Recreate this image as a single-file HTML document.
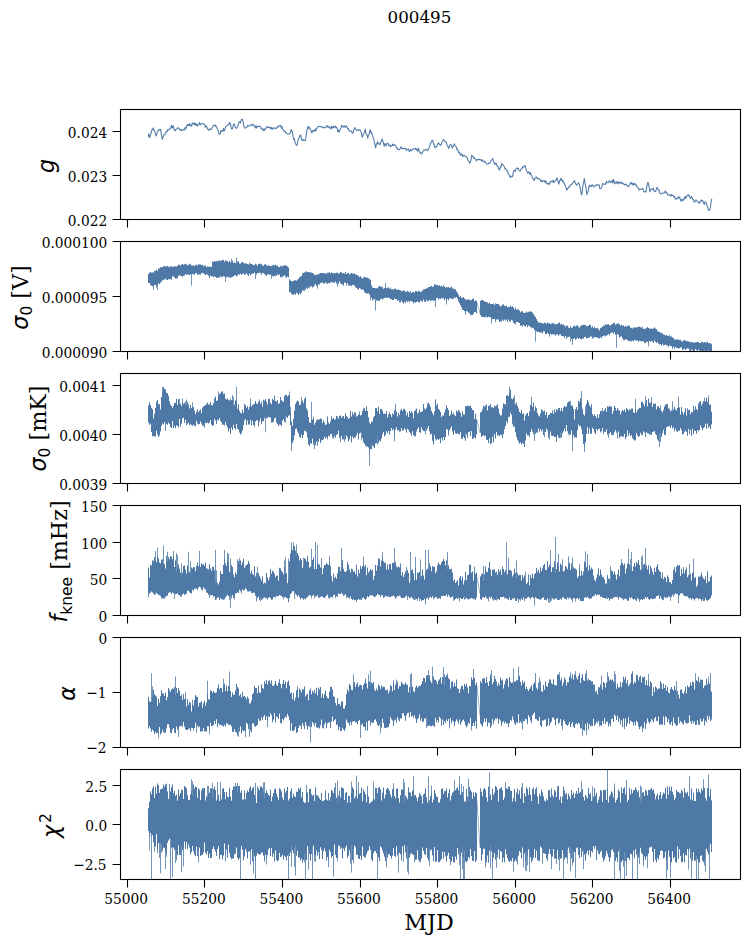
<!DOCTYPE html>
<html><head><meta charset="utf-8"><style>
html,body{margin:0;padding:0;background:#fff;width:749px;height:944px;overflow:hidden}
svg{display:block}
.s{font-family:"DejaVu Serif","Liberation Serif",serif;fill:#000}
.mi{font-family:"DejaVu Sans","Liberation Sans",sans-serif;font-style:italic}
.m{font-family:"DejaVu Sans","Liberation Sans",sans-serif}
</style></head><body>
<svg width="749" height="944" viewBox="0 0 749 944"><rect width="749" height="944" fill="#fff"/><text x="419.4" y="23.2" font-size="16.7" text-anchor="middle" class="s">000495</text><clipPath id="c0"><rect x="120.5" y="109.5" width="620.0" height="110.0"/></clipPath><clipPath id="c1"><rect x="120.5" y="241.5" width="620.0" height="110.0"/></clipPath><clipPath id="c2"><rect x="120.5" y="373.5" width="620.0" height="110.0"/></clipPath><clipPath id="c3"><rect x="120.5" y="505.5" width="620.0" height="110.0"/></clipPath><clipPath id="c4"><rect x="120.5" y="637.5" width="620.0" height="110.0"/></clipPath><clipPath id="c5"><rect x="120.5" y="769.5" width="620.0" height="110.0"/></clipPath><g clip-path="url(#c0)"><polyline points="148.1,136.3 148.8,133.8 149.4,137.7 150.1,136.0 150.7,134.2 151.4,132.5 152.0,129.3 152.7,129.6 153.3,127.9 154.0,130.5 154.6,130.8 155.3,133.1 155.9,136.0 156.6,134.5 157.2,132.3 157.9,131.0 158.5,130.5 159.2,129.4 159.8,130.0 160.5,129.3 161.1,132.6 161.8,137.0 162.4,139.3 163.1,136.8 163.7,135.5 164.4,134.6 165.0,134.7 165.7,132.2 166.3,131.6 167.0,132.0 167.6,129.7 168.3,129.6 168.9,130.0 169.6,129.0 170.2,128.1 170.9,128.3 171.5,125.0 172.2,128.0 172.8,126.0 173.5,126.0 174.1,129.1 174.8,130.8 175.4,130.8 176.1,129.2 176.7,129.0 177.4,127.8 178.0,127.9 178.7,128.2 179.3,128.7 180.0,130.3 180.6,130.1 181.3,129.4 181.9,130.6 182.6,130.5 183.2,129.8 183.9,129.2 184.5,130.0 185.2,127.2 185.8,128.7 186.5,127.5 187.1,124.5 187.8,125.5 188.4,124.6 189.1,126.0 189.7,123.7 190.4,124.6 191.0,126.0 191.7,126.1 192.3,122.9 193.0,123.8 193.6,124.1 194.3,122.9 194.9,125.0 195.6,123.3 196.2,125.3 196.9,124.4 197.5,126.2 198.2,124.6 198.8,124.0 199.5,122.6 200.1,125.1 200.8,124.0 201.4,123.7 202.1,123.8 202.7,123.8 203.4,123.6 204.0,124.1 204.7,124.8 205.3,127.3 206.0,125.6 206.6,127.1 207.3,128.1 207.9,129.3 208.6,130.4 209.2,129.6 209.9,128.8 210.5,129.4 211.2,129.5 211.8,128.3 212.5,126.9 213.1,125.6 213.8,125.3 214.4,125.1 215.1,126.3 215.7,125.2 216.4,127.0 217.0,128.1 217.7,129.9 218.3,130.9 219.0,134.2 219.6,134.3 220.3,133.9 220.9,130.4 221.6,131.4 222.2,130.7 222.9,131.2 223.5,128.4 224.2,130.9 224.8,130.0 225.5,127.1 226.1,126.4 226.8,125.6 227.4,125.3 228.1,124.9 228.7,125.1 229.4,122.2 230.0,123.4 230.7,125.0 231.3,128.4 232.0,129.3 232.6,128.3 233.3,124.7 233.9,124.0 234.6,124.2 235.2,127.4 235.9,127.9 236.5,128.4 237.2,127.0 237.8,126.2 238.5,123.6 239.1,121.8 239.8,121.9 240.4,123.0 241.1,120.1 241.7,119.3 242.4,119.3 243.0,121.3 243.7,125.1 244.3,127.6 245.0,128.1 245.6,128.0 246.3,127.5 246.9,127.2 247.6,125.4 248.2,126.0 248.9,126.2 249.5,125.2 250.2,125.2 250.8,124.7 251.5,124.8 252.1,125.6 252.8,124.3 253.4,124.6 254.1,126.0 254.7,126.4 255.4,127.9 256.0,125.3 256.7,128.1 257.3,126.5 258.0,126.5 258.6,126.6 259.3,126.3 259.9,126.2 260.6,126.5 261.2,128.9 261.9,128.3 262.5,129.5 263.2,130.7 263.8,128.8 264.5,130.4 265.1,128.7 265.8,128.9 266.4,126.7 267.1,126.6 267.7,127.1 268.4,127.8 269.0,126.8 269.7,127.7 270.3,127.5 271.0,129.1 271.6,127.5 272.3,129.2 272.9,128.0 273.6,128.0 274.2,128.4 274.9,127.9 275.5,128.4 276.2,128.6 276.8,127.2 277.5,126.9 278.1,127.2 278.8,125.4 279.4,125.7 280.1,125.9 280.7,125.4 281.4,128.1 282.0,126.6 282.7,129.4 283.3,129.7 284.0,131.4 284.6,131.2 285.3,131.4 285.9,133.2 286.6,133.1 287.2,133.6 287.9,134.0 288.5,134.1 289.2,134.3 289.8,133.5 290.5,132.7 291.1,129.7 291.8,130.4 292.4,132.1 293.1,136.7 293.7,139.5 294.4,138.7 295.0,142.4 295.7,144.0 296.3,145.1 297.0,145.1 297.6,142.3 298.3,139.2 298.9,138.6 299.6,136.7 300.2,135.0 300.9,135.5 301.5,139.4 302.2,140.6 302.8,139.3 303.5,139.9 304.1,140.6 304.8,140.4 305.4,140.5 306.1,136.1 306.7,131.9 307.4,128.9 308.0,126.3 308.7,128.2 309.3,127.3 310.0,128.8 310.6,130.3 311.3,131.1 311.9,133.1 312.6,130.5 313.2,131.3 313.9,130.5 314.5,130.7 315.2,128.9 315.8,131.0 316.5,128.7 317.1,128.2 317.8,126.8 318.4,126.3 319.1,126.7 319.7,126.4 320.4,126.3 321.0,127.0 321.7,126.9 322.3,126.6 323.0,127.6 323.6,127.7 324.3,127.4 324.9,127.7 325.6,127.7 326.2,126.4 326.9,125.5 327.5,126.1 328.2,127.7 328.8,126.4 329.5,127.1 330.1,127.6 330.8,129.2 331.4,126.2 332.1,127.8 332.7,128.1 333.4,126.1 334.0,127.7 334.7,126.6 335.3,126.1 336.0,127.7 336.6,127.1 337.3,128.9 337.9,131.8 338.6,130.4 339.2,132.1 339.9,129.4 340.5,129.3 341.2,127.4 341.8,125.2 342.5,126.6 343.1,127.3 343.8,126.1 344.4,126.0 345.1,127.4 345.7,126.5 346.4,125.7 347.0,126.9 347.7,128.9 348.3,128.4 349.0,130.2 349.6,131.4 350.3,130.9 350.9,130.7 351.6,131.3 352.2,133.2 352.9,133.0 353.5,130.6 354.2,129.0 354.8,127.5 355.5,129.1 356.1,129.3 356.8,130.4 357.4,130.3 358.1,129.8 358.7,130.5 359.4,129.8 360.0,129.7 360.7,131.3 361.3,132.4 362.0,136.8 362.6,136.9 363.3,134.0 363.9,133.6 364.6,131.6 365.2,129.1 365.9,133.3 366.5,134.4 367.2,135.2 367.8,138.2 368.5,135.0 369.1,134.7 369.8,130.8 370.4,129.9 371.1,133.5 371.7,132.6 372.4,135.0 373.0,137.3 373.7,138.5 374.3,141.5 375.0,144.8 375.6,147.8 376.3,144.4 376.9,143.7 377.6,141.6 378.2,144.2 378.9,143.3 379.5,144.1 380.2,144.7 380.8,142.0 381.5,140.8 382.1,138.9 382.8,141.3 383.4,142.9 384.1,146.2 384.7,143.6 385.4,144.5 386.0,146.0 386.7,143.7 387.3,143.3 388.0,143.4 388.6,145.4 389.3,145.6 389.9,144.9 390.6,146.8 391.2,145.9 391.9,145.8 392.5,144.1 393.2,145.6 393.8,144.4 394.5,144.7 395.1,145.1 395.8,146.1 396.4,147.9 397.1,147.7 397.7,149.6 398.4,149.3 399.0,149.8 399.7,149.2 400.3,148.3 401.0,146.6 401.6,148.4 402.3,148.7 402.9,148.3 403.6,148.9 404.2,148.2 404.9,148.4 405.5,148.1 406.2,150.4 406.8,149.6 407.5,149.3 408.1,148.8 408.8,150.1 409.4,151.7 410.1,150.8 410.7,149.3 411.4,150.7 412.0,150.2 412.7,149.4 413.3,148.8 414.0,149.1 414.6,148.8 415.3,149.2 415.9,148.1 416.6,150.2 417.2,149.4 417.9,151.1 418.5,148.2 419.2,151.4 419.8,152.5 420.5,152.2 421.1,153.8 421.8,153.9 422.4,152.8 423.1,150.8 423.7,150.2 424.4,150.1 425.0,150.1 425.7,149.3 426.3,149.5 427.0,149.9 427.6,150.8 428.3,149.2 428.9,147.9 429.6,147.2 430.2,144.2 430.9,142.7 431.5,141.4 432.2,140.1 432.8,140.6 433.5,144.1 434.1,143.9 434.8,147.7 435.4,147.4 436.1,146.5 436.7,146.9 437.4,144.8 438.0,143.3 438.7,142.9 439.3,144.3 440.0,144.6 440.6,145.3 441.3,144.9 441.9,142.1 442.6,140.9 443.2,139.6 443.9,139.9 444.5,140.7 445.2,141.9 445.8,141.7 446.5,142.9 447.1,145.4 447.8,145.9 448.4,148.5 449.1,147.7 449.7,145.3 450.4,144.7 451.0,144.4 451.7,146.6 452.3,148.0 453.0,146.1 453.6,145.9 454.3,143.7 454.9,145.5 455.6,146.4 456.2,146.7 456.9,149.6 457.5,148.8 458.2,151.3 458.8,152.8 459.5,152.2 460.1,154.6 460.8,155.3 461.4,153.8 462.1,154.4 462.7,156.5 463.4,156.0 464.0,155.1 464.7,156.0 465.3,156.3 466.0,156.4 466.6,157.3 467.3,157.9 467.9,160.3 468.6,161.1 469.2,161.7 469.9,163.2 470.5,161.6 471.2,159.0 471.8,155.2 472.5,156.4 473.1,156.4 473.8,158.4 474.4,157.7 475.1,158.8 475.7,159.3 476.4,161.0 477.0,159.8 477.7,159.4 478.3,159.9 479.0,159.2 479.6,159.7 480.3,159.6 480.9,159.8 481.6,161.2 482.2,159.7 482.9,160.6 483.5,161.0 484.2,162.3 484.8,161.3 485.5,162.2 486.1,163.2 486.8,164.1 487.4,164.0 488.1,164.0 488.7,163.0 489.4,163.2 490.0,163.2 490.7,161.3 491.3,160.3 492.0,159.7 492.6,158.5 493.3,160.8 493.9,162.6 494.6,164.7 495.2,164.1 495.9,162.8 496.5,164.4 497.2,166.2 497.8,166.1 498.5,168.3 499.1,169.8 499.8,170.0 500.4,166.2 501.1,167.0 501.7,163.4 502.4,164.7 503.0,164.8 503.7,165.5 504.3,166.9 505.0,168.9 505.6,168.5 506.3,170.0 506.9,170.7 507.6,170.5 508.2,173.9 508.9,174.4 509.5,175.2 510.2,177.6 510.8,176.1 511.5,176.2 512.1,177.0 512.8,175.6 513.4,172.1 514.1,170.2 514.7,170.9 515.4,171.5 516.0,169.0 516.7,168.0 517.3,168.6 518.0,168.0 518.6,169.6 519.3,170.7 519.9,171.1 520.6,170.5 521.2,168.7 521.9,168.6 522.5,166.8 523.2,167.2 523.8,167.3 524.5,165.7 525.1,165.6 525.8,168.3 526.4,170.1 527.1,171.9 527.7,173.0 528.4,171.7 529.0,172.1 529.7,174.2 530.3,172.5 531.0,174.9 531.6,175.1 532.3,177.3 532.9,178.5 533.6,179.9 534.2,180.5 534.9,177.9 535.5,178.0 536.2,176.8 536.8,177.5 537.5,178.9 538.1,178.2 538.8,178.4 539.4,179.0 540.1,179.9 540.7,181.2 541.4,180.1 542.0,181.9 542.7,181.3 543.3,181.0 544.0,180.3 544.6,181.8 545.3,182.4 545.9,180.7 546.6,183.5 547.2,184.2 547.9,183.4 548.5,183.2 549.2,184.6 549.8,183.3 550.5,181.1 551.1,181.6 551.8,181.6 552.4,181.7 553.1,180.0 553.7,182.7 554.4,181.6 555.0,181.3 555.7,180.1 556.3,179.9 557.0,178.0 557.6,179.2 558.3,182.8 558.9,184.1 559.6,180.8 560.2,180.5 560.9,178.4 561.5,178.7 562.2,181.4 562.8,180.3 563.5,182.8 564.1,182.7 564.8,185.2 565.4,185.5 566.1,187.6 566.7,190.2 567.4,188.9 568.0,188.1 568.7,187.1 569.3,187.3 570.0,185.1 570.6,184.8 571.3,185.0 571.9,183.9 572.6,183.1 573.2,182.6 573.9,181.6 574.5,180.5 575.2,183.0 575.8,183.7 576.5,185.2 577.1,184.6 577.8,183.9 578.4,182.7 579.1,184.0 579.7,185.2 580.4,189.2 581.0,193.0 581.7,194.9 582.3,190.6 583.0,185.3 583.6,182.7 584.3,178.4 584.9,183.1 585.6,185.7 586.2,189.9 586.9,194.7 587.5,192.4 588.2,191.5 588.8,187.6 589.5,185.0 590.1,186.1 590.8,186.8 591.4,185.1 592.1,185.9 592.7,184.8 593.4,185.9 594.0,187.0 594.7,186.3 595.3,186.0 596.0,184.7 596.6,185.5 597.3,185.2 597.9,184.3 598.6,185.0 599.2,184.9 599.9,188.8 600.5,188.5 601.2,188.2 601.8,187.5 602.5,183.6 603.1,184.3 603.8,183.9 604.4,184.1 605.1,184.6 605.7,183.6 606.4,181.4 607.0,182.4 607.7,182.7 608.3,182.5 609.0,181.2 609.6,180.7 610.3,182.5 610.9,182.2 611.6,181.8 612.2,180.2 612.9,183.2 613.5,179.4 614.2,181.7 614.8,183.9 615.5,182.2 616.1,182.6 616.8,181.6 617.4,183.8 618.1,181.7 618.7,183.0 619.4,183.0 620.0,182.1 620.7,183.8 621.3,182.0 622.0,182.8 622.6,183.6 623.3,183.4 623.9,184.4 624.6,185.0 625.2,184.1 625.9,184.3 626.5,184.7 627.2,185.3 627.8,186.7 628.5,186.3 629.1,185.9 629.8,184.5 630.4,182.8 631.1,184.0 631.7,182.6 632.4,183.8 633.0,185.3 633.7,183.4 634.3,184.5 635.0,183.5 635.6,185.1 636.3,184.9 636.9,186.5 637.6,187.1 638.2,188.3 638.9,190.0 639.5,189.1 640.2,189.6 640.8,189.2 641.5,189.3 642.1,189.0 642.8,188.3 643.4,190.1 644.1,192.1 644.7,191.8 645.4,191.6 646.0,191.9 646.7,187.3 647.3,184.3 648.0,182.1 648.6,184.6 649.3,187.6 649.9,191.8 650.6,189.8 651.2,189.0 651.9,189.2 652.5,189.4 653.2,188.1 653.8,190.3 654.5,191.4 655.1,191.8 655.8,191.2 656.4,188.6 657.1,187.2 657.7,188.7 658.4,190.0 659.0,189.7 659.7,193.2 660.3,193.7 661.0,194.0 661.6,193.6 662.3,192.8 662.9,193.3 663.6,193.1 664.2,193.0 664.9,191.7 665.5,191.0 666.2,193.2 666.8,192.7 667.5,194.6 668.1,195.2 668.8,195.1 669.4,194.7 670.1,195.1 670.7,196.0 671.4,194.4 672.0,195.8 672.7,195.6 673.3,195.2 674.0,197.3 674.6,196.6 675.3,199.2 675.9,198.9 676.6,199.1 677.2,198.1 677.9,198.6 678.5,196.6 679.2,197.8 679.8,197.5 680.5,200.1 681.1,201.2 681.8,199.5 682.4,200.4 683.1,199.1 683.7,200.2 684.4,198.1 685.0,196.4 685.7,198.6 686.3,196.9 687.0,195.8 687.6,195.8 688.3,194.6 688.9,196.1 689.6,195.7 690.2,198.3 690.9,198.1 691.5,196.5 692.2,197.7 692.8,199.6 693.5,199.5 694.1,202.2 694.8,201.7 695.4,200.4 696.1,200.0 696.7,200.3 697.4,201.6 698.0,202.6 698.7,202.4 699.3,203.3 700.0,201.4 700.6,201.7 701.3,199.9 701.9,201.0 702.6,200.4 703.2,201.8 703.9,203.7 704.5,204.1 705.2,201.8 705.8,202.1 706.5,203.7 707.1,206.0 707.8,207.4 708.4,210.5 709.1,210.3 709.7,209.8 710.4,207.2 711.0,202.7 711.7,199.0 711.9,199.7" fill="none" stroke="#4e79a7" stroke-width="1.05" stroke-linejoin="round"/></g><g clip-path="url(#c1)"><path d="M148,274.1 149,274.1 149,272.7 150,272.7 150,272.1 151,272.1 151,272.8 152,272.8 152,272.6 153,272.6 153,272.4 154,272.4 154,271.0 155,271.0 155,270.8 156,270.8 156,269.7 157,269.7 157,270.9 158,270.9 158,268.3 159,268.3 159,268.4 160,268.4 160,267.3 161,267.3 161,267.3 162,267.3 162,267.2 163,267.2 163,266.4 164,266.4 164,265.8 165,265.8 165,266.4 166,266.4 166,266.5 167,266.5 167,265.7 168,265.7 168,266.8 169,266.8 169,267.2 170,267.2 170,266.0 171,266.0 171,266.4 172,266.4 172,266.9 173,266.9 173,266.6 174,266.6 174,266.3 175,266.3 175,266.4 176,266.4 176,266.5 177,266.5 177,265.7 178,265.7 178,264.4 179,264.4 179,265.0 180,265.0 180,265.5 181,265.5 181,264.6 182,264.6 182,264.0 183,264.0 183,264.7 184,264.7 184,264.2 185,264.2 185,263.7 186,263.7 186,264.5 187,264.5 187,265.3 188,265.3 188,264.5 189,264.5 189,264.4 190,264.4 190,263.7 191,263.7 191,265.4 192,265.4 192,265.4 193,265.4 193,265.6 194,265.6 194,266.0 195,266.0 195,265.3 196,265.3 196,264.6 197,264.6 197,265.6 198,265.6 198,264.2 199,264.2 199,264.4 200,264.4 200,264.6 201,264.6 201,264.9 202,264.9 202,264.7 203,264.7 203,266.5 204,266.5 204,265.5 205,265.5 205,265.4 206,265.4 206,267.3 207,267.3 207,266.6 208,266.6 208,266.9 209,266.9 209,266.2 210,266.2 210,267.1 211,267.1 211,266.9 212,266.9 212,261.6 213,261.6 213,262.1 214,262.1 214,261.1 215,261.1 215,261.4 216,261.4 216,260.9 217,260.9 217,261.6 218,261.6 218,260.5 219,260.5 219,260.5 220,260.5 220,261.1 221,261.1 221,260.6 222,260.6 222,260.1 223,260.1 223,259.9 224,259.9 224,261.8 225,261.8 225,260.5 226,260.5 226,260.6 227,260.6 227,261.2 228,261.2 228,262.2 229,262.2 229,260.7 230,260.7 230,262.4 231,262.4 231,261.5 232,261.5 232,260.8 233,260.8 233,262.9 234,262.9 234,262.6 235,262.6 235,263.2 236,263.2 236,262.5 237,262.5 237,261.4 238,261.4 238,261.3 239,261.3 239,263.5 240,263.5 240,263.6 241,263.6 241,262.5 242,262.5 242,262.0 243,262.0 243,262.4 244,262.4 244,263.8 245,263.8 245,263.3 246,263.3 246,263.6 247,263.6 247,263.9 248,263.9 248,264.5 249,264.5 249,263.8 250,263.8 250,263.7 251,263.7 251,264.1 252,264.1 252,264.4 253,264.4 253,265.3 254,265.3 254,265.1 255,265.1 255,263.7 256,263.7 256,264.5 257,264.5 257,265.7 258,265.7 258,263.9 259,263.9 259,264.1 260,264.1 260,263.6 261,263.6 261,264.2 262,264.2 262,265.2 263,265.2 263,266.1 264,266.1 264,264.4 265,264.4 265,263.9 266,263.9 266,265.2 267,265.2 267,265.9 268,265.9 268,265.0 269,265.0 269,266.0 270,266.0 270,265.9 271,265.9 271,265.9 272,265.9 272,265.5 273,265.5 273,264.7 274,264.7 274,265.3 275,265.3 275,264.8 276,264.8 276,265.8 277,265.8 277,265.4 278,265.4 278,266.9 279,266.9 279,267.0 280,267.0 280,265.8 281,265.8 281,266.5 282,266.5 282,265.8 283,265.8 283,265.7 284,265.7 284,265.3 285,265.3 285,265.5 286,265.5 286,265.6 287,265.6 287,266.4 288,266.4 288,267.4 289,267.4 289,279.3 290,279.3 290,280.6 291,280.6 291,281.2 292,281.2 292,281.2 293,281.2 293,281.0 294,281.0 294,280.3 295,280.3 295,280.3 296,280.3 296,280.8 297,280.8 297,279.7 298,279.7 298,278.7 299,278.7 299,277.4 300,277.4 300,276.5 301,276.5 301,276.3 302,276.3 302,275.4 303,275.4 303,272.9 304,272.9 304,272.5 305,272.5 305,271.8 306,271.8 306,271.2 307,271.2 307,272.2 308,272.2 308,272.1 309,272.1 309,272.2 310,272.2 310,272.4 311,272.4 311,272.6 312,272.6 312,273.1 313,273.1 313,273.5 314,273.5 314,275.1 315,275.1 315,274.9 316,274.9 316,275.0 317,275.0 317,274.3 318,274.3 318,274.4 319,274.4 319,273.4 320,273.4 320,272.9 321,272.9 321,273.1 322,273.1 322,273.0 323,273.0 323,273.1 324,273.1 324,273.6 325,273.6 325,273.4 326,273.4 326,273.6 327,273.6 327,272.8 328,272.8 328,272.8 329,272.8 329,272.3 330,272.3 330,273.6 331,273.6 331,272.2 332,272.2 332,273.1 333,273.1 333,273.3 334,273.3 334,273.0 335,273.0 335,273.2 336,273.2 336,272.5 337,272.5 337,273.1 338,273.1 338,273.5 339,273.5 339,273.5 340,273.5 340,271.8 341,271.8 341,272.2 342,272.2 342,273.4 343,273.4 343,272.9 344,272.9 344,273.8 345,273.8 345,271.9 346,271.9 346,274.0 347,274.0 347,273.1 348,273.1 348,272.9 349,272.9 349,274.5 350,274.5 350,273.8 351,273.8 351,273.1 352,273.1 352,273.4 353,273.4 353,273.8 354,273.8 354,273.6 355,273.6 355,274.4 356,274.4 356,274.8 357,274.8 357,275.6 358,275.6 358,275.4 359,275.4 359,277.0 360,277.0 360,276.2 361,276.2 361,277.4 362,277.4 362,278.4 363,278.4 363,277.7 364,277.7 364,276.7 365,276.7 365,276.9 366,276.9 366,278.1 367,278.1 367,277.6 368,277.6 368,278.6 369,278.6 369,278.7 370,278.7 370,280.1 371,280.1 371,285.2 372,285.2 372,287.6 373,287.6 373,288.1 374,288.1 374,288.0 375,288.0 375,288.3 376,288.3 376,288.3 377,288.3 377,288.2 378,288.2 378,286.8 379,286.8 379,286.0 380,286.0 380,286.8 381,286.8 381,286.4 382,286.4 382,287.3 383,287.3 383,288.7 384,288.7 384,288.0 385,288.0 385,287.4 386,287.4 386,288.2 387,288.2 387,287.8 388,287.8 388,287.5 389,287.5 389,288.8 390,288.8 390,289.4 391,289.4 391,289.2 392,289.2 392,289.3 393,289.3 393,289.6 394,289.6 394,288.7 395,288.7 395,288.6 396,288.6 396,289.8 397,289.8 397,289.6 398,289.6 398,289.7 399,289.7 399,290.0 400,290.0 400,290.2 401,290.2 401,291.4 402,291.4 402,290.8 403,290.8 403,290.4 404,290.4 404,290.6 405,290.6 405,292.0 406,292.0 406,291.4 407,291.4 407,291.0 408,291.0 408,291.4 409,291.4 409,292.5 410,292.5 410,291.3 411,291.3 411,293.1 412,293.1 412,292.1 413,292.1 413,292.1 414,292.1 414,292.8 415,292.8 415,291.0 416,291.0 416,291.0 417,291.0 417,292.1 418,292.1 418,290.8 419,290.8 419,291.3 420,291.3 420,291.9 421,291.9 421,291.5 422,291.5 422,290.5 423,290.5 423,289.4 424,289.4 424,289.2 425,289.2 425,288.9 426,288.9 426,288.2 427,288.2 427,288.3 428,288.3 428,286.9 429,286.9 429,286.9 430,286.9 430,286.6 431,286.6 431,286.0 432,286.0 432,286.9 433,286.9 433,286.5 434,286.5 434,284.3 435,284.3 435,284.4 436,284.4 436,285.2 437,285.2 437,284.9 438,284.9 438,285.7 439,285.7 439,285.3 440,285.3 440,286.2 441,286.2 441,285.7 442,285.7 442,287.0 443,287.0 443,285.3 444,285.3 444,286.4 445,286.4 445,287.5 446,287.5 446,287.2 447,287.2 447,287.3 448,287.3 448,286.9 449,286.9 449,288.0 450,288.0 450,287.4 451,287.4 451,286.6 452,286.6 452,288.5 453,288.5 453,288.5 454,288.5 454,289.4 455,289.4 455,289.5 456,289.5 456,291.2 457,291.2 457,292.7 458,292.7 458,294.7 459,294.7 459,296.9 460,296.9 460,296.1 461,296.1 461,297.8 462,297.8 462,297.8 463,297.8 463,297.0 464,297.0 464,298.5 465,298.5 465,299.6 466,299.6 466,299.5 467,299.5 467,299.7 468,299.7 468,299.2 469,299.2 469,299.6 470,299.6 470,300.5 471,300.5 471,299.9 472,299.9 472,298.7 473,298.7 473,298.8 474,298.8 474,301.2 475,301.2 475,300.6 476,300.6 476,300.8 477,300.8 477,313.4 476,313.4 476,311.7 475,311.7 475,311.9 474,311.9 474,313.7 473,313.7 473,314.9 472,314.9 472,314.8 471,314.8 471,315.3 470,315.3 470,313.3 469,313.3 469,312.5 468,312.5 468,311.6 467,311.6 467,311.0 466,311.0 466,312.8 465,312.8 465,311.1 464,311.1 464,310.1 463,310.1 463,309.9 462,309.9 462,307.3 461,307.3 461,305.2 460,305.2 460,303.2 459,303.2 459,301.4 458,301.4 458,298.7 457,298.7 457,296.9 456,296.9 456,297.7 455,297.7 455,297.5 454,297.5 454,298.8 453,298.8 453,298.9 452,298.9 452,298.4 451,298.4 451,298.6 450,298.6 450,298.2 449,298.2 449,300.3 448,300.3 448,298.9 447,298.9 447,298.8 446,298.8 446,298.5 445,298.5 445,300.3 444,300.3 444,298.0 443,298.0 443,298.6 442,298.6 442,298.1 441,298.1 441,299.1 440,299.1 440,298.4 439,298.4 439,299.8 438,299.8 438,297.8 437,297.8 437,298.2 436,298.2 436,300.4 435,300.4 435,300.7 434,300.7 434,300.8 433,300.8 433,300.1 432,300.1 432,300.4 431,300.4 431,301.1 430,301.1 430,300.0 429,300.0 429,300.7 428,300.7 428,301.6 427,301.6 427,300.1 426,300.1 426,302.0 425,302.0 425,301.8 424,301.8 424,299.6 423,299.6 423,301.4 422,301.4 422,301.4 421,301.4 421,300.4 420,300.4 420,302.7 419,302.7 419,302.1 418,302.1 418,301.4 417,301.4 417,302.1 416,302.1 416,302.7 415,302.7 415,302.1 414,302.1 414,303.6 413,303.6 413,301.7 412,301.7 412,300.9 411,300.9 411,301.0 410,301.0 410,302.2 409,302.2 409,300.9 408,300.9 408,301.9 407,301.9 407,300.8 406,300.8 406,303.0 405,303.0 405,301.7 404,301.7 404,303.3 403,303.3 403,302.2 402,302.2 402,300.5 401,300.5 401,302.5 400,302.5 400,302.2 399,302.2 399,299.9 398,299.9 398,301.0 397,301.0 397,299.1 396,299.1 396,299.3 395,299.3 395,298.6 394,298.6 394,299.9 393,299.9 393,300.0 392,300.0 392,298.9 391,298.9 391,299.5 390,299.5 390,298.1 389,298.1 389,297.4 388,297.4 388,298.0 387,298.0 387,297.7 386,297.7 386,297.8 385,297.8 385,298.0 384,298.0 384,298.5 383,298.5 383,299.5 382,299.5 382,298.8 381,298.8 381,298.9 380,298.9 380,301.0 379,301.0 379,300.5 378,300.5 378,300.7 377,300.7 377,300.4 376,300.4 376,299.5 375,299.5 375,298.9 374,298.9 374,299.4 373,299.4 373,300.5 372,300.5 372,297.7 371,297.7 371,294.9 370,294.9 370,294.8 369,294.8 369,293.2 368,293.2 368,293.4 367,293.4 367,293.6 366,293.6 366,293.1 365,293.1 365,292.2 364,292.2 364,290.1 363,290.1 363,289.3 362,289.3 362,289.9 361,289.9 361,288.7 360,288.7 360,288.1 359,288.1 359,289.7 358,289.7 358,288.8 357,288.8 357,288.0 356,288.0 356,287.2 355,287.2 355,285.5 354,285.5 354,285.1 353,285.1 353,285.1 352,285.1 352,286.2 351,286.2 351,285.4 350,285.4 350,285.5 349,285.5 349,285.5 348,285.5 348,283.3 347,283.3 347,283.3 346,283.3 346,282.7 345,282.7 345,282.4 344,282.4 344,284.4 343,284.4 343,284.4 342,284.4 342,284.2 341,284.2 341,283.1 340,283.1 340,281.5 339,281.5 339,282.4 338,282.4 338,282.1 337,282.1 337,283.6 336,283.6 336,281.4 335,281.4 335,283.1 334,283.1 334,282.3 333,282.3 333,282.6 332,282.6 332,282.1 331,282.1 331,282.5 330,282.5 330,283.6 329,283.6 329,283.1 328,283.1 328,283.7 327,283.7 327,283.5 326,283.5 326,282.3 325,282.3 325,283.5 324,283.5 324,283.4 323,283.4 323,282.5 322,282.5 322,282.7 321,282.7 321,283.1 320,283.1 320,284.6 319,284.6 319,284.5 318,284.5 318,285.8 317,285.8 317,285.9 316,285.9 316,284.1 315,284.1 315,285.4 314,285.4 314,286.7 313,286.7 313,287.5 312,287.5 312,286.3 311,286.3 311,286.6 310,286.6 310,287.8 309,287.8 309,287.4 308,287.4 308,289.1 307,289.1 307,287.8 306,287.8 306,289.6 305,289.6 305,289.3 304,289.3 304,290.4 303,290.4 303,290.5 302,290.5 302,292.5 301,292.5 301,294.2 300,294.2 300,293.0 299,293.0 299,294.9 298,294.9 298,293.6 297,293.6 297,292.8 296,292.8 296,294.8 295,294.8 295,294.1 294,294.1 294,294.6 293,294.6 293,294.8 292,294.8 292,293.9 291,293.9 291,291.9 290,291.9 290,292.3 289,292.3 289,277.5 288,277.5 288,276.4 287,276.4 287,277.9 286,277.9 286,276.4 285,276.4 285,274.9 284,274.9 284,276.2 283,276.2 283,276.7 282,276.7 282,277.2 281,277.2 281,277.3 280,277.3 280,274.6 279,274.6 279,275.1 278,275.1 278,274.2 277,274.2 277,276.1 276,276.1 276,275.4 275,275.4 275,276.1 274,276.1 274,276.6 273,276.6 273,276.0 272,276.0 272,274.5 271,274.5 271,274.5 270,274.5 270,275.0 269,275.0 269,273.9 268,273.9 268,274.6 267,274.6 267,275.8 266,275.8 266,275.3 265,275.3 265,274.1 264,274.1 264,273.3 263,273.3 263,272.8 262,272.8 262,274.7 261,274.7 261,273.0 260,273.0 260,272.5 259,272.5 259,273.2 258,273.2 258,273.0 257,273.0 257,274.5 256,274.5 256,274.6 255,274.6 255,272.6 254,272.6 254,273.6 253,273.6 253,273.5 252,273.5 252,273.9 251,273.9 251,275.6 250,275.6 250,273.5 249,273.5 249,275.9 248,275.9 248,274.8 247,274.8 247,273.3 246,273.3 246,274.5 245,274.5 245,274.4 244,274.4 244,273.6 243,273.6 243,273.8 242,273.8 242,274.7 241,274.7 241,273.8 240,273.8 240,274.7 239,274.7 239,274.1 238,274.1 238,275.8 237,275.8 237,276.3 236,276.3 236,275.2 235,275.2 235,275.3 234,275.3 234,276.1 233,276.1 233,277.0 232,277.0 232,277.4 231,277.4 231,277.4 230,277.4 230,277.5 229,277.5 229,275.9 228,275.9 228,276.7 227,276.7 227,277.4 226,277.4 226,276.4 225,276.4 225,276.5 224,276.5 224,275.9 223,275.9 223,276.7 222,276.7 222,277.2 221,277.2 221,276.2 220,276.2 220,277.4 219,277.4 219,277.5 218,277.5 218,277.7 217,277.7 217,278.1 216,278.1 216,277.1 215,277.1 215,276.3 214,276.3 214,277.1 213,277.1 213,276.2 212,276.2 212,276.6 211,276.6 211,275.4 210,275.4 210,278.1 209,278.1 209,275.8 208,275.8 208,274.7 207,274.7 207,274.0 206,274.0 206,275.2 205,275.2 205,274.1 204,274.1 204,273.4 203,273.4 203,272.7 202,272.7 202,273.2 201,273.2 201,274.4 200,274.4 200,274.7 199,274.7 199,274.0 198,274.0 198,274.9 197,274.9 197,272.9 196,272.9 196,273.2 195,273.2 195,274.4 194,274.4 194,274.4 193,274.4 193,273.9 192,273.9 192,274.3 191,274.3 191,274.2 190,274.2 190,274.9 189,274.9 189,274.8 188,274.8 188,274.3 187,274.3 187,275.0 186,275.0 186,273.9 185,273.9 185,275.6 184,275.6 184,275.7 183,275.7 183,276.7 182,276.7 182,275.9 181,275.9 181,276.0 180,276.0 180,274.9 179,274.9 179,276.0 178,276.0 178,278.2 177,278.2 177,278.4 176,278.4 176,278.5 175,278.5 175,277.6 174,277.6 174,276.6 173,276.6 173,276.2 172,276.2 172,278.6 171,278.6 171,279.1 170,279.1 170,279.6 169,279.6 169,278.9 168,278.9 168,279.9 167,279.9 167,279.7 166,279.7 166,278.5 165,278.5 165,279.4 164,279.4 164,279.8 163,279.8 163,280.2 162,280.2 162,281.6 161,281.6 161,282.8 160,282.8 160,283.9 159,283.9 159,283.3 158,283.3 158,284.9 157,284.9 157,285.6 156,285.6 156,285.0 155,285.0 155,285.0 154,285.0 154,285.8 153,285.8 153,286.3 152,286.3 152,285.7 151,285.7 151,285.1 150,285.1 150,283.1 149,283.1 149,283.0 148,283.0Z M480,301.1 481,301.1 481,300.0 482,300.0 482,299.9 483,299.9 483,300.7 484,300.7 484,301.5 485,301.5 485,301.8 486,301.8 486,302.0 487,302.0 487,302.6 488,302.6 488,303.5 489,303.5 489,302.5 490,302.5 490,304.0 491,304.0 491,303.9 492,303.9 492,304.0 493,304.0 493,303.6 494,303.6 494,305.0 495,305.0 495,303.6 496,303.6 496,303.7 497,303.7 497,303.9 498,303.9 498,303.9 499,303.9 499,305.5 500,305.5 500,306.6 501,306.6 501,306.0 502,306.0 502,304.6 503,304.6 503,304.6 504,304.6 504,305.8 505,305.8 505,306.0 506,306.0 506,305.7 507,305.7 507,307.2 508,307.2 508,307.1 509,307.1 509,307.1 510,307.1 510,305.4 511,305.4 511,307.1 512,307.1 512,306.3 513,306.3 513,307.4 514,307.4 514,309.4 515,309.4 515,307.7 516,307.7 516,309.7 517,309.7 517,309.4 518,309.4 518,309.2 519,309.2 519,310.8 520,310.8 520,312.2 521,312.2 521,311.1 522,311.1 522,311.5 523,311.5 523,312.8 524,312.8 524,313.0 525,313.0 525,312.8 526,312.8 526,311.6 527,311.6 527,312.4 528,312.4 528,311.8 529,311.8 529,311.4 530,311.4 530,311.5 531,311.5 531,311.5 532,311.5 532,312.4 533,312.4 533,315.8 534,315.8 534,315.5 535,315.5 535,317.0 536,317.0 536,318.9 537,318.9 537,321.1 538,321.1 538,322.6 539,322.6 539,322.8 540,322.8 540,322.4 541,322.4 541,323.1 542,323.1 542,323.3 543,323.3 543,323.4 544,323.4 544,322.5 545,322.5 545,323.3 546,323.3 546,323.6 547,323.6 547,322.5 548,322.5 548,323.4 549,323.4 549,322.9 550,322.9 550,324.2 551,324.2 551,323.4 552,323.4 552,323.3 553,323.3 553,323.2 554,323.2 554,323.8 555,323.8 555,324.4 556,324.4 556,324.0 557,324.0 557,324.0 558,324.0 558,322.7 559,322.7 559,322.5 560,322.5 560,324.5 561,324.5 561,323.8 562,323.8 562,324.8 563,324.8 563,324.6 564,324.6 564,325.6 565,325.6 565,326.7 566,326.7 566,325.5 567,325.5 567,325.8 568,325.8 568,327.5 569,327.5 569,327.9 570,327.9 570,327.6 571,327.6 571,327.7 572,327.7 572,327.4 573,327.4 573,326.3 574,326.3 574,325.6 575,325.6 575,326.5 576,326.5 576,325.6 577,325.6 577,325.6 578,325.6 578,326.6 579,326.6 579,327.7 580,327.7 580,326.2 581,326.2 581,325.7 582,325.7 582,325.0 583,325.0 583,325.0 584,325.0 584,325.0 585,325.0 585,324.8 586,324.8 586,326.2 587,326.2 587,325.7 588,325.7 588,325.9 589,325.9 589,324.4 590,324.4 590,325.1 591,325.1 591,327.6 592,327.6 592,326.3 593,326.3 593,327.9 594,327.9 594,327.1 595,327.1 595,328.3 596,328.3 596,328.3 597,328.3 597,328.3 598,328.3 598,329.0 599,329.0 599,330.5 600,330.5 600,328.1 601,328.1 601,327.4 602,327.4 602,326.8 603,326.8 603,325.4 604,325.4 604,325.7 605,325.7 605,324.2 606,324.2 606,324.5 607,324.5 607,324.4 608,324.4 608,324.3 609,324.3 609,325.3 610,325.3 610,325.5 611,325.5 611,324.5 612,324.5 612,323.9 613,323.9 613,323.0 614,323.0 614,323.1 615,323.1 615,324.7 616,324.7 616,323.9 617,323.9 617,323.6 618,323.6 618,323.6 619,323.6 619,324.2 620,324.2 620,325.8 621,325.8 621,324.5 622,324.5 622,325.8 623,325.8 623,325.2 624,325.2 624,326.8 625,326.8 625,325.7 626,325.7 626,326.8 627,326.8 627,325.7 628,325.7 628,325.5 629,325.5 629,325.7 630,325.7 630,327.6 631,327.6 631,328.1 632,328.1 632,328.4 633,328.4 633,327.4 634,327.4 634,327.3 635,327.3 635,327.5 636,327.5 636,327.4 637,327.4 637,327.1 638,327.1 638,327.0 639,327.0 639,326.6 640,326.6 640,327.2 641,327.2 641,327.4 642,327.4 642,328.9 643,328.9 643,328.9 644,328.9 644,328.7 645,328.7 645,328.8 646,328.8 646,328.0 647,328.0 647,327.0 648,327.0 648,328.1 649,328.1 649,328.5 650,328.5 650,328.8 651,328.8 651,328.4 652,328.4 652,328.9 653,328.9 653,328.3 654,328.3 654,328.3 655,328.3 655,328.6 656,328.6 656,329.3 657,329.3 657,330.8 658,330.8 658,331.8 659,331.8 659,331.9 660,331.9 660,332.8 661,332.8 661,332.8 662,332.8 662,333.5 663,333.5 663,334.4 664,334.4 664,334.8 665,334.8 665,335.4 666,335.4 666,335.1 667,335.1 667,335.7 668,335.7 668,336.1 669,336.1 669,335.3 670,335.3 670,336.6 671,336.6 671,336.4 672,336.4 672,337.4 673,337.4 673,337.8 674,337.8 674,339.5 675,339.5 675,339.8 676,339.8 676,339.3 677,339.3 677,339.5 678,339.5 678,339.5 679,339.5 679,339.9 680,339.9 680,339.7 681,339.7 681,341.3 682,341.3 682,341.4 683,341.4 683,340.5 684,340.5 684,339.8 685,339.8 685,340.7 686,340.7 686,340.9 687,340.9 687,341.2 688,341.2 688,341.2 689,341.2 689,342.0 690,342.0 690,342.2 691,342.2 691,341.8 692,341.8 692,342.5 693,342.5 693,342.5 694,342.5 694,342.4 695,342.4 695,342.6 696,342.6 696,341.9 697,341.9 697,342.3 698,342.3 698,342.1 699,342.1 699,342.9 700,342.9 700,343.0 701,343.0 701,342.0 702,342.0 702,341.9 703,341.9 703,342.7 704,342.7 704,342.2 705,342.2 705,342.3 706,342.3 706,342.5 707,342.5 707,341.8 708,341.8 708,343.2 709,343.2 709,343.1 710,343.1 710,343.3 711,343.3 711,344.2 712,344.2 712,352.6 711,352.6 711,352.7 710,352.7 710,352.5 709,352.5 709,350.2 708,350.2 708,351.0 707,351.0 707,351.7 706,351.7 706,351.8 705,351.8 705,350.6 704,350.6 704,351.4 703,351.4 703,350.6 702,350.6 702,351.7 701,351.7 701,351.0 700,351.0 700,350.7 699,350.7 699,349.5 698,349.5 698,351.1 697,351.1 697,350.0 696,350.0 696,349.1 695,349.1 695,351.8 694,351.8 694,351.2 693,351.2 693,350.2 692,350.2 692,349.6 691,349.6 691,351.4 690,351.4 690,350.5 689,350.5 689,348.4 688,348.4 688,348.6 687,348.6 687,348.8 686,348.8 686,350.0 685,350.0 685,348.4 684,348.4 684,349.5 683,349.5 683,349.7 682,349.7 682,347.5 681,347.5 681,347.3 680,347.3 680,347.9 679,347.9 679,348.8 678,348.8 678,348.1 677,348.1 677,348.0 676,348.0 676,346.7 675,346.7 675,348.6 674,348.6 674,346.7 673,346.7 673,348.5 672,348.5 672,346.3 671,346.3 671,346.1 670,346.1 670,345.3 669,345.3 669,346.9 668,346.9 668,345.4 667,345.4 667,345.2 666,345.2 666,344.4 665,344.4 665,345.1 664,345.1 664,345.4 663,345.4 663,343.8 662,343.8 662,345.6 661,345.6 661,344.0 660,344.0 660,344.5 659,344.5 659,343.8 658,343.8 658,342.1 657,342.1 657,342.9 656,342.9 656,341.7 655,341.7 655,340.5 654,340.5 654,342.9 653,342.9 653,341.4 652,341.4 652,340.9 651,340.9 651,341.8 650,341.8 650,340.9 649,340.9 649,341.7 648,341.7 648,342.1 647,342.1 647,341.6 646,341.6 646,343.3 645,343.3 645,342.7 644,342.7 644,341.6 643,341.6 643,341.1 642,341.1 642,341.3 641,341.3 641,341.3 640,341.3 640,340.8 639,340.8 639,341.8 638,341.8 638,340.2 637,340.2 637,341.1 636,341.1 636,340.0 635,340.0 635,340.1 634,340.1 634,341.4 633,341.4 633,340.6 632,340.6 632,341.6 631,341.6 631,340.8 630,340.8 630,341.5 629,341.5 629,340.9 628,340.9 628,339.9 627,339.9 627,339.5 626,339.5 626,339.2 625,339.2 625,340.2 624,340.2 624,339.9 623,339.9 623,338.2 622,338.2 622,336.4 621,336.4 621,336.5 620,336.5 620,337.7 619,337.7 619,335.0 618,335.0 618,333.9 617,333.9 617,334.8 616,334.8 616,334.8 615,334.8 615,332.3 614,332.3 614,333.7 613,333.7 613,332.5 612,332.5 612,332.6 611,332.6 611,333.3 610,333.3 610,335.2 609,335.2 609,333.9 608,333.9 608,335.1 607,335.1 607,335.7 606,335.7 606,336.5 605,336.5 605,335.2 604,335.2 604,336.0 603,336.0 603,336.2 602,336.2 602,336.5 601,336.5 601,337.3 600,337.3 600,338.4 599,338.4 599,338.0 598,338.0 598,337.7 597,337.7 597,337.3 596,337.3 596,337.0 595,337.0 595,337.6 594,337.6 594,337.5 593,337.5 593,338.8 592,338.8 592,336.6 591,336.6 591,336.4 590,336.4 590,337.3 589,337.3 589,338.1 588,338.1 588,337.9 587,337.9 587,338.5 586,338.5 586,336.8 585,336.8 585,337.3 584,337.3 584,338.5 583,338.5 583,338.7 582,338.7 582,338.7 581,338.7 581,339.1 580,339.1 580,338.3 579,338.3 579,339.1 578,339.1 578,337.5 577,337.5 577,339.1 576,339.1 576,339.7 575,339.7 575,337.9 574,337.9 574,338.9 573,338.9 573,338.4 572,338.4 572,339.1 571,339.1 571,336.9 570,336.9 570,336.5 569,336.5 569,337.1 568,337.1 568,337.2 567,337.2 567,338.7 566,338.7 566,336.0 565,336.0 565,336.8 564,336.8 564,336.2 563,336.2 563,336.1 562,336.1 562,335.9 561,335.9 561,334.3 560,334.3 560,334.4 559,334.4 559,335.7 558,335.7 558,334.4 557,334.4 557,334.1 556,334.1 556,335.8 555,335.8 555,334.4 554,334.4 554,334.3 553,334.3 553,334.3 552,334.3 552,334.8 551,334.8 551,333.7 550,333.7 550,334.9 549,334.9 549,333.9 548,333.9 548,332.9 547,332.9 547,334.0 546,334.0 546,334.0 545,334.0 545,331.6 544,331.6 544,331.2 543,331.2 543,333.6 542,333.6 542,332.3 541,332.3 541,332.8 540,332.8 540,332.3 539,332.3 539,331.9 538,331.9 538,331.9 537,331.9 537,331.2 536,331.2 536,330.3 535,330.3 535,329.9 534,329.9 534,328.3 533,328.3 533,327.5 532,327.5 532,328.3 531,328.3 531,327.0 530,327.0 530,325.9 529,325.9 529,325.5 528,325.5 528,327.2 527,327.2 527,325.1 526,325.1 526,326.5 525,326.5 525,326.0 524,326.0 524,324.8 523,324.8 523,324.9 522,324.9 522,325.4 521,325.4 521,325.8 520,325.8 520,323.0 519,323.0 519,322.5 518,322.5 518,322.1 517,322.1 517,322.0 516,322.0 516,321.4 515,321.4 515,323.4 514,323.4 514,322.9 513,322.9 513,320.6 512,320.6 512,319.7 511,319.7 511,321.6 510,321.6 510,321.4 509,321.4 509,319.4 508,319.4 508,321.9 507,321.9 507,319.5 506,319.5 506,320.6 505,320.6 505,319.4 504,319.4 504,320.9 503,320.9 503,319.6 502,319.6 502,321.4 501,321.4 501,321.6 500,321.6 500,321.7 499,321.7 499,319.6 498,319.6 498,319.5 497,319.5 497,319.6 496,319.6 496,319.9 495,319.9 495,318.7 494,318.7 494,318.9 493,318.9 493,319.3 492,319.3 492,317.7 491,317.7 491,317.1 490,317.1 490,317.5 489,317.5 489,316.6 488,316.6 488,317.8 487,317.8 487,316.6 486,316.6 486,317.3 485,317.3 485,317.2 484,317.2 484,317.1 483,317.1 483,317.1 482,317.1 482,316.8 481,316.8 481,315.1 480,315.1Z" fill="#4e79a7"/><path d="M153.5,285.3V289.6M156.5,285.1V287.7M171.5,278.1V280.0M191.5,273.8V285.6M225.5,275.9V282.0M228.5,275.4V277.5M231.5,262.0V258.7M249.5,264.3V262.6M255.5,274.1V279.0M271.5,274.0V278.7M275.5,265.3V264.9M302.5,275.9V272.6M304.5,288.8V291.0M317.5,285.3V288.7M337.5,281.6V286.6M338.5,281.9V284.0M342.5,283.9V284.2M343.5,283.9V285.8M346.5,282.8V285.7M356.5,275.3V274.4M375.5,299.0V310.5M385.5,287.9V282.8M390.5,289.9V287.4M403.5,302.8V303.4M446.5,298.3V301.5M455.5,290.0V288.9M465.5,312.3V314.6M495.5,319.4V322.2M500.5,321.1V321.4M515.5,320.9V324.5M522.5,324.4V327.1M533.5,316.3V314.1M535.5,329.8V341.6M549.5,334.4V336.6M564.5,336.3V338.3M570.5,328.1V325.9M570.5,336.4V341.5M572.5,337.9V344.8M573.5,338.4V338.7M581.5,326.2V325.3M581.5,338.2V339.4M597.5,328.8V327.8M601.5,336.0V338.3M616.5,334.3V347.7M642.5,329.4V326.8M648.5,341.2V346.6M654.5,328.8V327.2M701.5,342.5V341.5M702.5,350.1V352.6M236.5,269.0V257.5M157.5,277.2V290.0M370.5,286.4V300.5M435.5,292.2V307.0M446.5,293.0V304.5M491.5,311.0V323.5" stroke="#4e79a7" stroke-width="0.8" fill="none"/><path d="M477,302.5 L480,313.3" fill="none" stroke="#4e79a7" stroke-width="0.8" stroke-opacity="0.75"/></g><g clip-path="url(#c2)"><path d="M148,405.5 149,405.5 149,402.2 150,402.2 150,405.0 151,405.0 151,407.8 152,407.8 152,409.3 153,409.3 153,418.5 154,418.5 154,413.9 155,413.9 155,407.9 156,407.9 156,401.7 157,401.7 157,400.1 158,400.1 158,404.1 159,404.1 159,404.2 160,404.2 160,409.6 161,409.6 161,396.9 162,396.9 162,392.5 163,392.5 163,387.2 164,387.2 164,388.8 165,388.8 165,389.5 166,389.5 166,392.8 167,392.8 167,393.3 168,393.3 168,395.7 169,395.7 169,401.2 170,401.2 170,404.5 171,404.5 171,405.9 172,405.9 172,407.7 173,407.7 173,405.8 174,405.8 174,403.0 175,403.0 175,402.7 176,402.7 176,398.8 177,398.8 177,405.0 178,405.0 178,399.3 179,399.3 179,403.4 180,403.4 180,403.7 181,403.7 181,405.9 182,405.9 182,403.1 183,403.1 183,403.8 184,403.8 184,403.1 185,403.1 185,405.9 186,405.9 186,404.6 187,404.6 187,402.1 188,402.1 188,404.6 189,404.6 189,408.4 190,408.4 190,404.9 191,404.9 191,408.1 192,408.1 192,406.8 193,406.8 193,407.3 194,407.3 194,410.6 195,410.6 195,414.3 196,414.3 196,411.7 197,411.7 197,409.2 198,409.2 198,412.3 199,412.3 199,410.4 200,410.4 200,409.5 201,409.5 201,413.2 202,413.2 202,407.8 203,407.8 203,406.3 204,406.3 204,405.9 205,405.9 205,405.0 206,405.0 206,404.2 207,404.2 207,402.6 208,402.6 208,404.4 209,404.4 209,404.4 210,404.4 210,401.9 211,401.9 211,405.1 212,405.1 212,405.4 213,405.4 213,403.1 214,403.1 214,398.2 215,398.2 215,396.6 216,396.6 216,400.9 217,400.9 217,400.3 218,400.3 218,396.0 219,396.0 219,394.2 220,394.2 220,393.3 221,393.3 221,391.8 222,391.8 222,391.2 223,391.2 223,393.7 224,393.7 224,393.4 225,393.4 225,398.7 226,398.7 226,399.5 227,399.5 227,398.5 228,398.5 228,400.1 229,400.1 229,400.4 230,400.4 230,400.6 231,400.6 231,400.0 232,400.0 232,399.9 233,399.9 233,406.2 234,406.2 234,404.4 235,404.4 235,400.6 236,400.6 236,400.7 237,400.7 237,408.7 238,408.7 238,404.5 239,404.5 239,410.8 240,410.8 240,412.7 241,412.7 241,413.5 242,413.5 242,409.6 243,409.6 243,412.7 244,412.7 244,403.9 245,403.9 245,405.2 246,405.2 246,407.7 247,407.7 247,406.2 248,406.2 248,409.6 249,409.6 249,407.1 250,407.1 250,404.1 251,404.1 251,406.5 252,406.5 252,405.3 253,405.3 253,404.5 254,404.5 254,403.7 255,403.7 255,401.0 256,401.0 256,403.4 257,403.4 257,404.2 258,404.2 258,401.7 259,401.7 259,399.6 260,399.6 260,403.7 261,403.7 261,401.4 262,401.4 262,406.7 263,406.7 263,399.7 264,399.7 264,400.4 265,400.4 265,399.0 266,399.0 266,401.7 267,401.7 267,404.5 268,404.5 268,398.9 269,398.9 269,398.7 270,398.7 270,403.0 271,403.0 271,404.2 272,404.2 272,398.8 273,398.8 273,400.1 274,400.1 274,395.8 275,395.8 275,401.0 276,401.0 276,401.4 277,401.4 277,400.3 278,400.3 278,404.1 279,404.1 279,403.0 280,403.0 280,397.1 281,397.1 281,400.2 282,400.2 282,401.1 283,401.1 283,401.9 284,401.9 284,396.0 285,396.0 285,394.8 286,394.8 286,395.0 287,395.0 287,396.4 288,396.4 288,395.3 289,395.3 289,396.0 290,396.0 290,411.6 291,411.6 291,421.6 292,421.6 292,425.8 293,425.8 293,419.1 294,419.1 294,410.7 295,410.7 295,404.0 296,404.0 296,401.9 297,401.9 297,400.4 298,400.4 298,401.3 299,401.3 299,405.1 300,405.1 300,404.5 301,404.5 301,401.2 302,401.2 302,400.4 303,400.4 303,403.1 304,403.1 304,398.9 305,398.9 305,397.0 306,397.0 306,408.3 307,408.3 307,410.5 308,410.5 308,417.1 309,417.1 309,422.4 310,422.4 310,423.0 311,423.0 311,420.1 312,420.1 312,419.5 313,419.5 313,419.7 314,419.7 314,424.8 315,424.8 315,422.4 316,422.4 316,420.5 317,420.5 317,419.3 318,419.3 318,419.7 319,419.7 319,419.2 320,419.2 320,418.5 321,418.5 321,418.8 322,418.8 322,423.2 323,423.2 323,420.6 324,420.6 324,422.6 325,422.6 325,424.9 326,424.9 326,424.3 327,424.3 327,416.4 328,416.4 328,422.6 329,422.6 329,424.2 330,424.2 330,421.6 331,421.6 331,416.2 332,416.2 332,419.1 333,419.1 333,417.9 334,417.9 334,419.8 335,419.8 335,419.3 336,419.3 336,416.0 337,416.0 337,416.5 338,416.5 338,418.8 339,418.8 339,416.1 340,416.1 340,415.3 341,415.3 341,418.1 342,418.1 342,416.4 343,416.4 343,416.0 344,416.0 344,418.4 345,418.4 345,413.2 346,413.2 346,415.9 347,415.9 347,417.0 348,417.0 348,418.9 349,418.9 349,417.9 350,417.9 350,410.7 351,410.7 351,416.5 352,416.5 352,412.2 353,412.2 353,414.7 354,414.7 354,412.4 355,412.4 355,412.4 356,412.4 356,416.7 357,416.7 357,415.7 358,415.7 358,414.6 359,414.6 359,414.8 360,414.8 360,415.5 361,415.5 361,415.1 362,415.1 362,411.0 363,411.0 363,408.4 364,408.4 364,408.3 365,408.3 365,410.9 366,410.9 366,406.3 367,406.3 367,411.0 368,411.0 368,417.3 369,417.3 369,422.6 370,422.6 370,424.1 371,424.1 371,421.5 372,421.5 372,421.8 373,421.8 373,417.6 374,417.6 374,415.9 375,415.9 375,408.3 376,408.3 376,407.9 377,407.9 377,411.3 378,411.3 378,406.7 379,406.7 379,414.1 380,414.1 380,409.1 381,409.1 381,409.2 382,409.2 382,410.6 383,410.6 383,413.7 384,413.7 384,413.6 385,413.6 385,414.1 386,414.1 386,410.9 387,410.9 387,417.5 388,417.5 388,414.6 389,414.6 389,412.2 390,412.2 390,414.2 391,414.2 391,416.7 392,416.7 392,413.3 393,413.3 393,414.6 394,414.6 394,410.2 395,410.2 395,409.1 396,409.1 396,411.8 397,411.8 397,416.6 398,416.6 398,413.1 399,413.1 399,415.0 400,415.0 400,410.4 401,410.4 401,408.9 402,408.9 402,411.0 403,411.0 403,408.8 404,408.8 404,409.2 405,409.2 405,410.6 406,410.6 406,415.4 407,415.4 407,412.6 408,412.6 408,417.0 409,417.0 409,410.9 410,410.9 410,412.9 411,412.9 411,410.8 412,410.8 412,412.8 413,412.8 413,418.2 414,418.2 414,411.3 415,411.3 415,409.9 416,409.9 416,408.5 417,408.5 417,413.5 418,413.5 418,413.0 419,413.0 419,409.4 420,409.4 420,411.9 421,411.9 421,412.1 422,412.1 422,410.9 423,410.9 423,404.0 424,404.0 424,408.4 425,408.4 425,409.6 426,409.6 426,407.7 427,407.7 427,405.9 428,405.9 428,402.8 429,402.8 429,404.4 430,404.4 430,406.9 431,406.9 431,411.0 432,411.0 432,413.0 433,413.0 433,415.2 434,415.2 434,411.2 435,411.2 435,399.4 436,399.4 436,405.4 437,405.4 437,403.7 438,403.7 438,408.7 439,408.7 439,409.9 440,409.9 440,411.9 441,411.9 441,417.0 442,417.0 442,415.4 443,415.4 443,415.6 444,415.6 444,412.5 445,412.5 445,409.5 446,409.5 446,405.3 447,405.3 447,407.9 448,407.9 448,410.1 449,410.1 449,415.9 450,415.9 450,414.4 451,414.4 451,410.6 452,410.6 452,414.2 453,414.2 453,412.8 454,412.8 454,415.0 455,415.0 455,416.3 456,416.3 456,410.5 457,410.5 457,412.1 458,412.1 458,410.1 459,410.1 459,411.0 460,411.0 460,413.1 461,413.1 461,416.7 462,416.7 462,411.2 463,411.2 463,414.5 464,414.5 464,414.5 465,414.5 465,406.2 466,406.2 466,406.0 467,406.0 467,405.5 468,405.5 468,406.3 469,406.3 469,405.9 470,405.9 470,405.4 471,405.4 471,407.9 472,407.9 472,410.0 473,410.0 473,410.2 474,410.2 474,418.9 475,418.9 475,413.8 476,413.8 476,419.6 477,419.6 477,434.3 476,434.3 476,438.6 475,438.6 475,437.2 474,437.2 474,438.3 473,438.3 473,439.1 472,439.1 472,431.1 471,431.1 471,436.0 470,436.0 470,431.4 469,431.4 469,431.9 468,431.9 468,437.8 467,437.8 467,434.2 466,434.2 466,432.8 465,432.8 465,438.5 464,438.5 464,436.4 463,436.4 463,438.8 462,438.8 462,438.7 461,438.7 461,432.0 460,432.0 460,434.4 459,434.4 459,433.9 458,433.9 458,432.9 457,432.9 457,433.9 456,433.9 456,433.3 455,433.3 455,430.4 454,430.4 454,434.7 453,434.7 453,431.5 452,431.5 452,426.6 451,426.6 451,428.2 450,428.2 450,430.5 449,430.5 449,433.6 448,433.6 448,429.8 447,429.8 447,428.9 446,428.9 446,437.1 445,437.1 445,440.0 444,440.0 444,437.0 443,437.0 443,440.4 442,440.4 442,437.8 441,437.8 441,442.9 440,442.9 440,438.7 439,438.7 439,439.9 438,439.9 438,438.8 437,438.8 437,440.3 436,440.3 436,439.2 435,439.2 435,435.2 434,435.2 434,444.4 433,444.4 433,440.7 432,440.7 432,433.7 431,433.7 431,434.6 430,434.6 430,431.2 429,431.2 429,425.9 428,425.9 428,428.6 427,428.6 427,430.4 426,430.4 426,427.5 425,427.5 425,431.2 424,431.2 424,430.9 423,430.9 423,429.8 422,429.8 422,427.3 421,427.3 421,433.0 420,433.0 420,431.9 419,431.9 419,427.3 418,427.3 418,429.1 417,429.1 417,431.4 416,431.4 416,436.6 415,436.6 415,435.7 414,435.7 414,435.2 413,435.2 413,431.3 412,431.3 412,435.8 411,435.8 411,433.5 410,433.5 410,431.9 409,431.9 409,429.8 408,429.8 408,428.7 407,428.7 407,432.7 406,432.7 406,429.8 405,429.8 405,428.0 404,428.0 404,430.6 403,430.6 403,430.5 402,430.5 402,427.9 401,427.9 401,431.5 400,431.5 400,431.6 399,431.6 399,430.0 398,430.0 398,430.5 397,430.5 397,427.3 396,427.3 396,429.7 395,429.7 395,434.0 394,434.0 394,429.2 393,429.2 393,430.6 392,430.6 392,428.1 391,428.1 391,430.9 390,430.9 390,434.5 389,434.5 389,431.1 388,431.1 388,433.3 387,433.3 387,431.3 386,431.3 386,434.7 385,434.7 385,436.4 384,436.4 384,432.0 383,432.0 383,434.2 382,434.2 382,438.5 381,438.5 381,441.4 380,441.4 380,440.6 379,440.6 379,442.9 378,442.9 378,436.1 377,436.1 377,443.1 376,443.1 376,443.5 375,443.5 375,448.1 374,448.1 374,446.7 373,446.7 373,445.2 372,445.2 372,449.2 371,449.2 371,449.1 370,449.1 370,452.3 369,452.3 369,447.5 368,447.5 368,446.6 367,446.6 367,446.5 366,446.5 366,445.4 365,445.4 365,443.7 364,443.7 364,442.2 363,442.2 363,438.0 362,438.0 362,431.8 361,431.8 361,432.7 360,432.7 360,433.4 359,433.4 359,439.6 358,439.6 358,432.7 357,432.7 357,434.9 356,434.9 356,437.5 355,437.5 355,437.4 354,437.4 354,438.4 353,438.4 353,436.5 352,436.5 352,442.4 351,442.4 351,435.9 350,435.9 350,439.6 349,439.6 349,441.3 348,441.3 348,437.2 347,437.2 347,435.3 346,435.3 346,439.5 345,439.5 345,435.3 344,435.3 344,439.2 343,439.2 343,439.5 342,439.5 342,435.9 341,435.9 341,439.2 340,439.2 340,437.5 339,437.5 339,430.8 338,430.8 338,434.3 337,434.3 337,434.8 336,434.8 336,437.8 335,437.8 335,435.8 334,435.8 334,438.2 333,438.2 333,434.4 332,434.4 332,434.1 331,434.1 331,434.0 330,434.0 330,436.5 329,436.5 329,435.8 328,435.8 328,439.2 327,439.2 327,437.1 326,437.1 326,438.4 325,438.4 325,436.7 324,436.7 324,439.3 323,439.3 323,440.0 322,440.0 322,440.5 321,440.5 321,443.0 320,443.0 320,438.7 319,438.7 319,441.8 318,441.8 318,440.2 317,440.2 317,441.7 316,441.7 316,445.2 315,445.2 315,441.9 314,441.9 314,444.5 313,444.5 313,438.6 312,438.6 312,443.6 311,443.6 311,443.4 310,443.4 310,446.0 309,446.0 309,444.5 308,444.5 308,437.5 307,437.5 307,432.3 306,432.3 306,430.4 305,430.4 305,430.9 304,430.9 304,435.1 303,435.1 303,438.1 302,438.1 302,434.7 301,434.7 301,437.9 300,437.9 300,437.1 299,437.1 299,433.5 298,433.5 298,431.4 297,431.4 297,428.4 296,428.4 296,429.1 295,429.1 295,435.3 294,435.3 294,440.6 293,440.6 293,443.1 292,443.1 292,444.1 291,444.1 291,425.3 290,425.3 290,415.2 289,415.2 289,415.7 288,415.7 288,418.0 287,418.0 287,416.9 286,416.9 286,415.4 285,415.4 285,422.0 284,422.0 284,419.2 283,419.2 283,420.6 282,420.6 282,425.7 281,425.7 281,424.7 280,424.7 280,424.4 279,424.4 279,426.0 278,426.0 278,424.0 277,424.0 277,422.5 276,422.5 276,417.4 275,417.4 275,418.6 274,418.6 274,421.8 273,421.8 273,422.4 272,422.4 272,422.5 271,422.5 271,417.6 270,417.6 270,417.4 269,417.4 269,416.7 268,416.7 268,417.8 267,417.8 267,418.5 266,418.5 266,416.5 265,416.5 265,418.3 264,418.3 264,421.3 263,421.3 263,421.2 262,421.2 262,423.9 261,423.9 261,418.6 260,418.6 260,421.6 259,421.6 259,426.2 258,426.2 258,420.0 257,420.0 257,420.4 256,420.4 256,421.5 255,421.5 255,426.5 254,426.5 254,425.0 253,425.0 253,420.7 252,420.7 252,425.6 251,425.6 251,420.1 250,420.1 250,424.5 249,424.5 249,424.5 248,424.5 248,420.5 247,420.5 247,424.9 246,424.9 246,419.0 245,419.0 245,420.6 244,420.6 244,425.3 243,425.3 243,430.5 242,430.5 242,433.3 241,433.3 241,434.6 240,434.6 240,432.4 239,432.4 239,429.6 238,429.6 238,428.9 237,428.9 237,423.9 236,423.9 236,429.6 235,429.6 235,428.1 234,428.1 234,424.8 233,424.8 233,430.0 232,430.0 232,427.4 231,427.4 231,434.0 230,434.0 230,428.7 229,428.7 229,431.4 228,431.4 228,427.4 227,427.4 227,425.2 226,425.2 226,422.0 225,422.0 225,425.4 224,425.4 224,424.4 223,424.4 223,424.9 222,424.9 222,422.5 221,422.5 221,421.1 220,421.1 220,418.1 219,418.1 219,420.2 218,420.2 218,419.8 217,419.8 217,423.9 216,423.9 216,420.4 215,420.4 215,418.8 214,418.8 214,425.3 213,425.3 213,425.7 212,425.7 212,424.6 211,424.6 211,420.1 210,420.1 210,422.6 209,422.6 209,423.4 208,423.4 208,422.6 207,422.6 207,423.0 206,423.0 206,422.8 205,422.8 205,427.7 204,427.7 204,425.3 203,425.3 203,426.0 202,426.0 202,423.4 201,423.4 201,421.4 200,421.4 200,424.0 199,424.0 199,424.5 198,424.5 198,423.6 197,423.6 197,420.7 196,420.7 196,426.3 195,426.3 195,426.0 194,426.0 194,424.6 193,424.6 193,425.7 192,425.7 192,425.3 191,425.3 191,423.9 190,423.9 190,425.6 189,425.6 189,422.6 188,422.6 188,423.7 187,423.7 187,425.2 186,425.2 186,419.7 185,419.7 185,423.1 184,423.1 184,417.7 183,417.7 183,418.2 182,418.2 182,423.7 181,423.7 181,426.4 180,426.4 180,418.9 179,418.9 179,427.5 178,427.5 178,425.9 177,425.9 177,425.2 176,425.2 176,428.3 175,428.3 175,426.1 174,426.1 174,427.9 173,427.9 173,420.9 172,420.9 172,427.9 171,427.9 171,427.0 170,427.0 170,423.9 169,423.9 169,422.8 168,422.8 168,424.7 167,424.7 167,424.1 166,424.1 166,420.9 165,420.9 165,422.2 164,422.2 164,424.4 163,424.4 163,423.4 162,423.4 162,426.1 161,426.1 161,431.6 160,431.6 160,435.6 159,435.6 159,436.9 158,436.9 158,434.2 157,434.2 157,430.8 156,430.8 156,436.6 155,436.6 155,436.6 154,436.6 154,436.0 153,436.0 153,436.2 152,436.2 152,432.1 151,432.1 151,423.8 150,423.8 150,425.1 149,425.1 149,422.4 148,422.4Z M480,412.4 481,412.4 481,411.8 482,411.8 482,409.3 483,409.3 483,405.4 484,405.4 484,406.7 485,406.7 485,405.5 486,405.5 486,404.6 487,404.6 487,410.6 488,410.6 488,405.7 489,405.7 489,405.8 490,405.8 490,404.0 491,404.0 491,407.3 492,407.3 492,407.2 493,407.2 493,408.2 494,408.2 494,405.4 495,405.4 495,406.4 496,406.4 496,405.7 497,405.7 497,403.9 498,403.9 498,408.6 499,408.6 499,413.6 500,413.6 500,415.6 501,415.6 501,415.2 502,415.2 502,408.8 503,408.8 503,403.6 504,403.6 504,404.0 505,404.0 505,404.4 506,404.4 506,395.5 507,395.5 507,395.2 508,395.2 508,396.1 509,396.1 509,392.9 510,392.9 510,389.8 511,389.8 511,398.2 512,398.2 512,399.2 513,399.2 513,397.5 514,397.5 514,404.3 515,404.3 515,404.2 516,404.2 516,402.6 517,402.6 517,406.1 518,406.1 518,408.6 519,408.6 519,412.1 520,412.1 520,413.0 521,413.0 521,410.1 522,410.1 522,414.0 523,414.0 523,413.3 524,413.3 524,420.8 525,420.8 525,415.6 526,415.6 526,413.7 527,413.7 527,413.0 528,413.0 528,416.2 529,416.2 529,411.6 530,411.6 530,405.0 531,405.0 531,404.6 532,404.6 532,406.9 533,406.9 533,402.3 534,402.3 534,410.4 535,410.4 535,406.4 536,406.4 536,408.3 537,408.3 537,412.9 538,412.9 538,415.4 539,415.4 539,416.6 540,416.6 540,413.6 541,413.6 541,409.3 542,409.3 542,410.4 543,410.4 543,411.6 544,411.6 544,410.6 545,410.6 545,414.9 546,414.9 546,411.9 547,411.9 547,417.9 548,417.9 548,415.0 549,415.0 549,414.4 550,414.4 550,412.9 551,412.9 551,412.9 552,412.9 552,410.5 553,410.5 553,413.8 554,413.8 554,409.3 555,409.3 555,412.2 556,412.2 556,409.0 557,409.0 557,410.3 558,410.3 558,407.9 559,407.9 559,408.1 560,408.1 560,410.9 561,410.9 561,408.0 562,408.0 562,411.4 563,411.4 563,407.4 564,407.4 564,405.7 565,405.7 565,407.1 566,407.1 566,406.3 567,406.3 567,402.8 568,402.8 568,402.0 569,402.0 569,401.3 570,401.3 570,405.7 571,405.7 571,405.6 572,405.6 572,405.8 573,405.8 573,409.1 574,409.1 574,419.4 575,419.4 575,409.3 576,409.3 576,406.9 577,406.9 577,410.1 578,410.1 578,401.0 579,401.0 579,401.9 580,401.9 580,398.2 581,398.2 581,402.4 582,402.4 582,408.8 583,408.8 583,414.3 584,414.3 584,415.6 585,415.6 585,412.6 586,412.6 586,403.5 587,403.5 587,399.8 588,399.8 588,401.9 589,401.9 589,405.3 590,405.3 590,407.2 591,407.2 591,404.3 592,404.3 592,414.0 593,414.0 593,416.3 594,416.3 594,414.2 595,414.2 595,416.0 596,416.0 596,418.0 597,418.0 597,414.5 598,414.5 598,418.1 599,418.1 599,414.3 600,414.3 600,410.9 601,410.9 601,410.9 602,410.9 602,412.7 603,412.7 603,411.2 604,411.2 604,409.9 605,409.9 605,407.9 606,407.9 606,411.9 607,411.9 607,406.2 608,406.2 608,407.0 609,407.0 609,405.6 610,405.6 610,406.7 611,406.7 611,406.5 612,406.5 612,413.9 613,413.9 613,411.0 614,411.0 614,405.7 615,405.7 615,407.8 616,407.8 616,410.5 617,410.5 617,407.8 618,407.8 618,410.2 619,410.2 619,410.1 620,410.1 620,414.3 621,414.3 621,411.5 622,411.5 622,409.7 623,409.7 623,411.0 624,411.0 624,409.6 625,409.6 625,412.1 626,412.1 626,407.7 627,407.7 627,409.2 628,409.2 628,410.6 629,410.6 629,409.5 630,409.5 630,409.8 631,409.8 631,408.4 632,408.4 632,408.4 633,408.4 633,412.5 634,412.5 634,413.0 635,413.0 635,409.1 636,409.1 636,412.6 637,412.6 637,410.2 638,410.2 638,408.9 639,408.9 639,407.8 640,407.8 640,408.1 641,408.1 641,401.9 642,401.9 642,401.7 643,401.7 643,403.8 644,403.8 644,406.3 645,406.3 645,403.4 646,403.4 646,400.1 647,400.1 647,406.3 648,406.3 648,398.5 649,398.5 649,402.4 650,402.4 650,402.9 651,402.9 651,401.2 652,401.2 652,406.9 653,406.9 653,403.5 654,403.5 654,404.1 655,404.1 655,403.4 656,403.4 656,409.5 657,409.5 657,406.3 658,406.3 658,406.2 659,406.2 659,407.9 660,407.9 660,410.3 661,410.3 661,411.1 662,411.1 662,412.5 663,412.5 663,410.1 664,410.1 664,406.4 665,406.4 665,404.3 666,404.3 666,404.6 667,404.6 667,404.1 668,404.1 668,408.4 669,408.4 669,408.8 670,408.8 670,411.6 671,411.6 671,410.3 672,410.3 672,411.6 673,411.6 673,409.6 674,409.6 674,407.0 675,407.0 675,409.5 676,409.5 676,410.6 677,410.6 677,407.9 678,407.9 678,406.8 679,406.8 679,407.4 680,407.4 680,414.4 681,414.4 681,407.1 682,407.1 682,411.7 683,411.7 683,414.4 684,414.4 684,412.1 685,412.1 685,408.3 686,408.3 686,415.6 687,415.6 687,408.2 688,408.2 688,410.3 689,410.3 689,409.5 690,409.5 690,414.2 691,414.2 691,411.9 692,411.9 692,412.6 693,412.6 693,405.9 694,405.9 694,410.3 695,410.3 695,406.5 696,406.5 696,408.9 697,408.9 697,410.3 698,410.3 698,403.5 699,403.5 699,402.1 700,402.1 700,401.1 701,401.1 701,405.5 702,405.5 702,403.4 703,403.4 703,401.0 704,401.0 704,401.4 705,401.4 705,401.3 706,401.3 706,397.8 707,397.8 707,402.0 708,402.0 708,398.2 709,398.2 709,405.0 710,405.0 710,404.2 711,404.2 711,411.7 712,411.7 712,424.6 711,424.6 711,428.9 710,428.9 710,426.3 709,426.3 709,427.9 708,427.9 708,423.4 707,423.4 707,428.7 706,428.7 706,423.7 705,423.7 705,427.1 704,427.1 704,428.1 703,428.1 703,430.0 702,430.0 702,427.6 701,427.6 701,425.2 700,425.2 700,430.1 699,430.1 699,431.3 698,431.3 698,430.1 697,430.1 697,433.8 696,433.8 696,430.9 695,430.9 695,430.5 694,430.5 694,434.2 693,434.2 693,428.7 692,428.7 692,436.0 691,436.0 691,429.8 690,429.8 690,434.3 689,434.3 689,429.1 688,429.1 688,435.7 687,435.7 687,431.9 686,431.9 686,430.7 685,430.7 685,431.8 684,431.8 684,434.3 683,434.3 683,434.2 682,434.2 682,429.9 681,429.9 681,428.0 680,428.0 680,430.9 679,430.9 679,430.3 678,430.3 678,431.9 677,431.9 677,431.0 676,431.0 676,428.4 675,428.4 675,431.2 674,431.2 674,427.3 673,427.3 673,428.4 672,428.4 672,425.4 671,425.4 671,428.1 670,428.1 670,426.1 669,426.1 669,426.4 668,426.4 668,426.4 667,426.4 667,427.4 666,427.4 666,434.8 665,434.8 665,435.0 664,435.0 664,429.8 663,429.8 663,433.2 662,433.2 662,436.9 661,436.9 661,432.5 660,432.5 660,434.6 659,434.6 659,441.3 658,441.3 658,439.6 657,439.6 657,435.1 656,435.1 656,434.0 655,434.0 655,430.9 654,430.9 654,431.7 653,431.7 653,432.0 652,432.0 652,434.8 651,434.8 651,434.6 650,434.6 650,434.5 649,434.5 649,433.4 648,433.4 648,433.3 647,433.3 647,432.3 646,432.3 646,436.9 645,436.9 645,432.5 644,432.5 644,431.2 643,431.2 643,435.2 642,435.2 642,434.8 641,434.8 641,432.7 640,432.7 640,436.1 639,436.1 639,436.9 638,436.9 638,435.5 637,435.5 637,432.9 636,432.9 636,440.3 635,440.3 635,440.4 634,440.4 634,439.3 633,439.3 633,438.3 632,438.3 632,435.0 631,435.0 631,435.9 630,435.9 630,433.2 629,433.2 629,435.8 628,435.8 628,430.5 627,430.5 627,437.0 626,437.0 626,439.2 625,439.2 625,434.0 624,434.0 624,436.4 623,436.4 623,436.9 622,436.9 622,436.0 621,436.0 621,436.6 620,436.6 620,438.0 619,438.0 619,431.5 618,431.5 618,431.5 617,431.5 617,432.8 616,432.8 616,429.9 615,429.9 615,432.2 614,432.2 614,432.5 613,432.5 613,435.0 612,435.0 612,433.1 611,433.1 611,432.1 610,432.1 610,433.4 609,433.4 609,433.7 608,433.7 608,434.7 607,434.7 607,429.4 606,429.4 606,431.8 605,431.8 605,431.8 604,431.8 604,433.8 603,433.8 603,428.1 602,428.1 602,431.2 601,431.2 601,432.6 600,432.6 600,428.8 599,428.8 599,429.2 598,429.2 598,431.1 597,431.1 597,429.1 596,429.1 596,434.0 595,434.0 595,432.4 594,432.4 594,428.9 593,428.9 593,427.8 592,427.8 592,433.8 591,433.8 591,433.8 590,433.8 590,428.6 589,428.6 589,434.1 588,434.1 588,427.0 587,427.0 587,434.1 586,434.1 586,442.3 585,442.3 585,447.2 584,447.2 584,444.0 583,444.0 583,434.3 582,434.3 582,428.1 581,428.1 581,425.8 580,425.8 580,426.5 579,426.5 579,424.6 578,424.6 578,430.2 577,430.2 577,437.8 576,437.8 576,437.0 575,437.0 575,437.7 574,437.7 574,435.0 573,435.0 573,437.3 572,437.3 572,430.6 571,430.6 571,434.6 570,434.6 570,432.8 569,432.8 569,434.3 568,434.3 568,431.2 567,431.2 567,425.0 566,425.0 566,431.4 565,431.4 565,428.6 564,428.6 564,431.2 563,431.2 563,433.2 562,433.2 562,437.4 561,437.4 561,432.3 560,432.3 560,438.3 559,438.3 559,437.6 558,437.6 558,435.0 557,435.0 557,441.8 556,441.8 556,437.1 555,437.1 555,437.0 554,437.0 554,435.7 553,435.7 553,435.9 552,435.9 552,435.7 551,435.7 551,431.4 550,431.4 550,433.9 549,433.9 549,437.8 548,437.8 548,430.3 547,430.3 547,428.4 546,428.4 546,431.9 545,431.9 545,431.0 544,431.0 544,434.9 543,434.9 543,429.8 542,429.8 542,431.6 541,431.6 541,429.0 540,429.0 540,431.4 539,431.4 539,428.6 538,428.6 538,432.8 537,432.8 537,432.6 536,432.6 536,433.8 535,433.8 535,430.2 534,430.2 534,434.3 533,434.3 533,431.6 532,431.6 532,428.9 531,428.9 531,432.1 530,432.1 530,437.1 529,437.1 529,435.2 528,435.2 528,435.5 527,435.5 527,433.4 526,433.4 526,440.4 525,440.4 525,446.9 524,446.9 524,443.8 523,443.8 523,442.9 522,442.9 522,444.3 521,444.3 521,442.3 520,442.3 520,443.8 519,443.8 519,441.6 518,441.6 518,439.7 517,439.7 517,436.8 516,436.8 516,432.2 515,432.2 515,426.6 514,426.6 514,421.6 513,421.6 513,424.5 512,424.5 512,414.9 511,414.9 511,412.7 510,412.7 510,416.7 509,416.7 509,416.9 508,416.9 508,423.2 507,423.2 507,421.4 506,421.4 506,426.0 505,426.0 505,429.2 504,429.2 504,434.0 503,434.0 503,437.7 502,437.7 502,435.1 501,435.1 501,434.5 500,434.5 500,436.6 499,436.6 499,435.0 498,435.0 498,435.8 497,435.8 497,432.0 496,432.0 496,438.6 495,438.6 495,434.3 494,434.3 494,442.6 493,442.6 493,436.8 492,436.8 492,443.2 491,443.2 491,444.3 490,444.3 490,438.6 489,438.6 489,443.1 488,443.1 488,440.1 487,440.1 487,439.8 486,439.8 486,435.7 485,435.7 485,436.2 484,436.2 484,435.1 483,435.1 483,435.9 482,435.9 482,437.1 481,437.1 481,432.8 480,432.8Z" fill="#4e79a7"/><path d="M152.5,409.8V409.3M165.5,420.4V431.1M179.5,403.9V398.7M182.5,403.6V398.4M185.5,406.4V401.1M186.5,405.1V399.5M192.5,407.3V402.3M218.5,396.5V391.6M230.5,401.1V398.5M232.5,400.4V395.0M233.5,406.7V396.8M250.5,404.6V398.4M265.5,416.0V432.2M285.5,414.9V422.5M289.5,396.5V391.6M290.5,412.1V406.6M301.5,401.7V397.0M311.5,420.6V401.8M313.5,420.2V416.5M314.5,441.4V449.2M317.5,439.7V445.9M332.5,433.9V438.5M340.5,438.7V442.2M344.5,434.8V441.8M359.5,415.3V411.3M361.5,431.3V440.4M364.5,443.2V443.4M377.5,435.6V445.1M394.5,433.5V441.4M395.5,409.6V403.7M404.5,409.7V408.9M425.5,427.0V434.6M427.5,406.4V403.2M448.5,433.1V435.8M465.5,432.3V441.1M513.5,421.1V427.1M514.5,404.8V395.3M531.5,405.1V396.8M534.5,429.7V441.1M544.5,430.5V437.2M549.5,433.4V439.5M560.5,431.8V438.0M569.5,432.3V435.7M570.5,406.2V400.9M572.5,436.8V451.1M581.5,427.6V429.3M585.5,413.1V406.3M602.5,413.2V408.2M608.5,433.2V438.0M611.5,432.6V435.1M613.5,432.0V435.1M617.5,431.0V438.7M635.5,409.6V398.7M651.5,401.7V397.0M659.5,434.1V447.2M660.5,410.8V405.3M660.5,432.0V442.0M672.5,412.1V401.3M678.5,407.3V396.6M704.5,401.9V397.5M236.5,413.6V386.8M369.5,437.6V465.9M162.5,405.0V386.8M509.5,402.8V386.8M581.5,409.2V391.1M584.5,431.8V452.0M291.5,437.0V450.9M645.5,418.2V396.4M708.5,412.4V395.4M435.5,419.9V399.6" stroke="#4e79a7" stroke-width="0.8" fill="none"/><path d="M477,420.0 L480,432.8" fill="none" stroke="#4e79a7" stroke-width="0.8" stroke-opacity="0.75"/></g><g clip-path="url(#c3)"><path d="M148,567.4 149,567.4 149,577.5 150,577.5 150,564.8 151,564.8 151,565.4 152,565.4 152,560.2 153,560.2 153,561.1 154,561.1 154,556.9 155,556.9 155,559.9 156,559.9 156,562.2 157,562.2 157,557.2 158,557.2 158,558.2 159,558.2 159,562.6 160,562.6 160,563.3 161,563.3 161,559.7 162,559.7 162,559.3 163,559.3 163,564.3 164,564.3 164,564.1 165,564.1 165,568.6 166,568.6 166,557.0 167,557.0 167,562.0 168,562.0 168,557.0 169,557.0 169,559.2 170,559.2 170,556.2 171,556.2 171,556.4 172,556.4 172,559.3 173,559.3 173,557.1 174,557.1 174,567.0 175,567.0 175,560.3 176,560.3 176,571.5 177,571.5 177,566.3 178,566.3 178,564.5 179,564.5 179,568.4 180,568.4 180,572.8 181,572.8 181,574.7 182,574.7 182,572.4 183,572.4 183,566.0 184,566.0 184,565.5 185,565.5 185,569.6 186,569.6 186,573.6 187,573.6 187,565.4 188,565.4 188,573.5 189,573.5 189,571.8 190,571.8 190,573.3 191,573.3 191,567.4 192,567.4 192,568.4 193,568.4 193,567.1 194,567.1 194,567.3 195,567.3 195,571.3 196,571.3 196,565.7 197,565.7 197,562.6 198,562.6 198,566.4 199,566.4 199,563.7 200,563.7 200,567.1 201,567.1 201,563.3 202,563.3 202,564.4 203,564.4 203,564.2 204,564.2 204,566.0 205,566.0 205,562.6 206,562.6 206,568.2 207,568.2 207,568.7 208,568.7 208,569.6 209,569.6 209,563.9 210,563.9 210,568.6 211,568.6 211,571.0 212,571.0 212,566.7 213,566.7 213,567.0 214,567.0 214,570.2 215,570.2 215,582.2 216,582.2 216,581.6 217,581.6 217,582.9 218,582.9 218,584.6 219,584.6 219,581.4 220,581.4 220,571.0 221,571.0 221,573.9 222,573.9 222,574.0 223,574.0 223,565.1 224,565.1 224,564.6 225,564.6 225,563.4 226,563.4 226,566.1 227,566.1 227,562.1 228,562.1 228,561.4 229,561.4 229,571.8 230,571.8 230,573.6 231,573.6 231,565.3 232,565.3 232,567.1 233,567.1 233,574.6 234,574.6 234,577.3 235,577.3 235,572.3 236,572.3 236,574.3 237,574.3 237,569.6 238,569.6 238,560.9 239,560.9 239,564.0 240,564.0 240,560.6 241,560.6 241,564.9 242,564.9 242,562.3 243,562.3 243,558.7 244,558.7 244,568.1 245,568.1 245,565.7 246,565.7 246,565.3 247,565.3 247,563.9 248,563.9 248,561.1 249,561.1 249,563.4 250,563.4 250,573.4 251,573.4 251,570.5 252,570.5 252,573.8 253,573.8 253,575.0 254,575.0 254,566.3 255,566.3 255,576.5 256,576.5 256,572.8 257,572.8 257,578.2 258,578.2 258,573.1 259,573.1 259,575.8 260,575.8 260,578.3 261,578.3 261,580.8 262,580.8 262,576.2 263,576.2 263,583.4 264,583.4 264,582.6 265,582.6 265,583.3 266,583.3 266,573.1 267,573.1 267,577.5 268,577.5 268,580.6 269,580.6 269,577.6 270,577.6 270,569.1 271,569.1 271,573.8 272,573.8 272,570.8 273,570.8 273,571.8 274,571.8 274,573.8 275,573.8 275,577.2 276,577.2 276,575.7 277,575.7 277,575.6 278,575.6 278,580.7 279,580.7 279,567.7 280,567.7 280,568.2 281,568.2 281,570.7 282,570.7 282,572.0 283,572.0 283,574.2 284,574.2 284,567.2 285,567.2 285,573.5 286,573.5 286,573.2 287,573.2 287,583.2 288,583.2 288,578.8 289,578.8 289,561.2 290,561.2 290,553.6 291,553.6 291,548.0 292,548.0 292,550.1 293,550.1 293,545.9 294,545.9 294,546.2 295,546.2 295,550.4 296,550.4 296,554.8 297,554.8 297,553.0 298,553.0 298,555.6 299,555.6 299,560.6 300,560.6 300,558.0 301,558.0 301,559.9 302,559.9 302,568.1 303,568.1 303,565.4 304,565.4 304,558.3 305,558.3 305,559.0 306,559.0 306,561.5 307,561.5 307,556.3 308,556.3 308,562.1 309,562.1 309,567.7 310,567.7 310,566.8 311,566.8 311,565.8 312,565.8 312,559.9 313,559.9 313,557.4 314,557.4 314,569.0 315,569.0 315,559.5 316,559.5 316,568.9 317,568.9 317,564.3 318,564.3 318,563.8 319,563.8 319,564.7 320,564.7 320,567.5 321,567.5 321,567.9 322,567.9 322,574.1 323,574.1 323,568.3 324,568.3 324,565.1 325,565.1 325,564.9 326,564.9 326,563.2 327,563.2 327,563.9 328,563.9 328,564.9 329,564.9 329,563.2 330,563.2 330,566.3 331,566.3 331,576.3 332,576.3 332,581.4 333,581.4 333,573.6 334,573.6 334,577.9 335,577.9 335,576.8 336,576.8 336,578.7 337,578.7 337,573.3 338,573.3 338,566.8 339,566.8 339,566.9 340,566.9 340,571.1 341,571.1 341,566.8 342,566.8 342,559.8 343,559.8 343,568.7 344,568.7 344,571.8 345,571.8 345,571.9 346,571.9 346,570.9 347,570.9 347,562.1 348,562.1 348,564.7 349,564.7 349,569.6 350,569.6 350,572.5 351,572.5 351,568.8 352,568.8 352,569.2 353,569.2 353,571.8 354,571.8 354,571.3 355,571.3 355,573.9 356,573.9 356,564.8 357,564.8 357,576.5 358,576.5 358,569.6 359,569.6 359,573.3 360,573.3 360,565.7 361,565.7 361,568.8 362,568.8 362,566.0 363,566.0 363,564.8 364,564.8 364,566.7 365,566.7 365,565.0 366,565.0 366,575.3 367,575.3 367,567.6 368,567.6 368,572.5 369,572.5 369,571.2 370,571.2 370,568.9 371,568.9 371,570.4 372,570.4 372,569.8 373,569.8 373,579.8 374,579.8 374,575.7 375,575.7 375,565.0 376,565.0 376,570.8 377,570.8 377,565.3 378,565.3 378,558.3 379,558.3 379,559.0 380,559.0 380,566.4 381,566.4 381,560.4 382,560.4 382,558.7 383,558.7 383,561.2 384,561.2 384,562.8 385,562.8 385,562.4 386,562.4 386,569.6 387,569.6 387,564.4 388,564.4 388,569.2 389,569.2 389,564.1 390,564.1 390,564.0 391,564.0 391,569.5 392,569.5 392,562.8 393,562.8 393,562.9 394,562.9 394,564.3 395,564.3 395,561.7 396,561.7 396,566.5 397,566.5 397,567.4 398,567.4 398,566.3 399,566.3 399,567.4 400,567.4 400,563.6 401,563.6 401,575.6 402,575.6 402,571.9 403,571.9 403,577.1 404,577.1 404,574.5 405,574.5 405,571.2 406,571.2 406,572.9 407,572.9 407,570.0 408,570.0 408,572.9 409,572.9 409,582.8 410,582.8 410,581.1 411,581.1 411,570.3 412,570.3 412,569.6 413,569.6 413,573.2 414,573.2 414,580.0 415,580.0 415,568.2 416,568.2 416,579.8 417,579.8 417,572.4 418,572.4 418,573.0 419,573.0 419,571.9 420,571.9 420,578.0 421,578.0 421,575.8 422,575.8 422,569.5 423,569.5 423,575.6 424,575.6 424,579.5 425,579.5 425,572.9 426,572.9 426,569.8 427,569.8 427,568.7 428,568.7 428,569.7 429,569.7 429,563.4 430,563.4 430,566.3 431,566.3 431,571.2 432,571.2 432,566.1 433,566.1 433,567.0 434,567.0 434,566.6 435,566.6 435,573.6 436,573.6 436,571.4 437,571.4 437,565.2 438,565.2 438,562.6 439,562.6 439,564.2 440,564.2 440,565.0 441,565.0 441,562.4 442,562.4 442,561.1 443,561.1 443,559.1 444,559.1 444,560.9 445,560.9 445,565.4 446,565.4 446,560.2 447,560.2 447,569.3 448,569.3 448,565.5 449,565.5 449,569.1 450,569.1 450,569.3 451,569.3 451,568.8 452,568.8 452,572.6 453,572.6 453,580.8 454,580.8 454,579.4 455,579.4 455,582.9 456,582.9 456,581.4 457,581.4 457,580.3 458,580.3 458,585.6 459,585.6 459,578.1 460,578.1 460,575.7 461,575.7 461,580.5 462,580.5 462,576.4 463,576.4 463,584.6 464,584.6 464,580.4 465,580.4 465,571.9 466,571.9 466,580.1 467,580.1 467,575.3 468,575.3 468,574.8 469,574.8 469,564.7 470,564.7 470,564.5 471,564.5 471,572.7 472,572.7 472,571.4 473,571.4 473,580.4 474,580.4 474,572.0 475,572.0 475,574.1 476,574.1 476,572.5 477,572.5 477,597.6 476,597.6 476,599.9 475,599.9 475,598.8 474,598.8 474,599.2 473,599.2 473,598.3 472,598.3 472,598.0 471,598.0 471,598.5 470,598.5 470,599.0 469,599.0 469,599.6 468,599.6 468,599.0 467,599.0 467,597.8 466,597.8 466,598.9 465,598.9 465,596.1 464,596.1 464,597.4 463,597.4 463,598.9 462,598.9 462,598.9 461,598.9 461,597.9 460,597.9 460,596.4 459,596.4 459,598.0 458,598.0 458,599.1 457,599.1 457,598.0 456,598.0 456,599.1 455,599.1 455,599.4 454,599.4 454,597.5 453,597.5 453,596.4 452,596.4 452,597.0 451,597.0 451,597.8 450,597.8 450,596.5 449,596.5 449,594.7 448,594.7 448,597.0 447,597.0 447,594.4 446,594.4 446,595.8 445,595.8 445,595.9 444,595.9 444,595.7 443,595.7 443,596.1 442,596.1 442,595.9 441,595.9 441,597.5 440,597.5 440,598.0 439,598.0 439,598.5 438,598.5 438,598.7 437,598.7 437,597.5 436,597.5 436,596.8 435,596.8 435,598.1 434,598.1 434,597.3 433,597.3 433,596.2 432,596.2 432,598.0 431,598.0 431,596.8 430,596.8 430,597.6 429,597.6 429,599.6 428,599.6 428,597.6 427,597.6 427,598.5 426,598.5 426,599.7 425,599.7 425,598.7 424,598.7 424,599.9 423,599.9 423,600.2 422,600.2 422,600.0 421,600.0 421,599.2 420,599.2 420,598.6 419,598.6 419,597.6 418,597.6 418,598.3 417,598.3 417,599.1 416,599.1 416,599.4 415,599.4 415,597.2 414,597.2 414,599.6 413,599.6 413,598.3 412,598.3 412,596.9 411,596.9 411,597.8 410,597.8 410,598.3 409,598.3 409,596.6 408,596.6 408,596.9 407,596.9 407,595.6 406,595.6 406,596.6 405,596.6 405,597.8 404,597.8 404,598.0 403,598.0 403,598.1 402,598.1 402,598.0 401,598.0 401,596.6 400,596.6 400,595.4 399,595.4 399,596.3 398,596.3 398,596.1 397,596.1 397,597.5 396,597.5 396,598.5 395,598.5 395,596.5 394,596.5 394,595.4 393,595.4 393,596.1 392,596.1 392,596.3 391,596.3 391,596.9 390,596.9 390,597.3 389,597.3 389,596.5 388,596.5 388,596.5 387,596.5 387,596.4 386,596.4 386,595.7 385,595.7 385,597.2 384,597.2 384,597.7 383,597.7 383,595.3 382,595.3 382,595.0 381,595.0 381,596.8 380,596.8 380,594.9 379,594.9 379,594.7 378,594.7 378,593.7 377,593.7 377,595.7 376,595.7 376,596.4 375,596.4 375,596.8 374,596.8 374,596.3 373,596.3 373,595.3 372,595.3 372,595.4 371,595.4 371,595.1 370,595.1 370,596.0 369,596.0 369,597.3 368,597.3 368,596.1 367,596.1 367,598.6 366,598.6 366,599.7 365,599.7 365,598.7 364,598.7 364,597.6 363,597.6 363,597.8 362,597.8 362,599.9 361,599.9 361,599.5 360,599.5 360,599.7 359,599.7 359,598.7 358,598.7 358,599.9 357,599.9 357,601.7 356,601.7 356,599.7 355,599.7 355,600.2 354,600.2 354,599.3 353,599.3 353,600.0 352,600.0 352,599.0 351,599.0 351,596.4 350,596.4 350,598.4 349,598.4 349,597.5 348,597.5 348,597.3 347,597.3 347,596.1 346,596.1 346,594.0 345,594.0 345,595.3 344,595.3 344,595.8 343,595.8 343,594.1 342,594.1 342,592.8 341,592.8 341,594.0 340,594.0 340,593.9 339,593.9 339,593.5 338,593.5 338,596.7 337,596.7 337,596.3 336,596.3 336,596.0 335,596.0 335,594.7 334,594.7 334,595.3 333,595.3 333,597.7 332,597.7 332,597.0 331,597.0 331,597.2 330,597.2 330,595.2 329,595.2 329,598.0 328,598.0 328,594.6 327,594.6 327,595.7 326,595.7 326,596.7 325,596.7 325,598.0 324,598.0 324,597.8 323,597.8 323,596.6 322,596.6 322,596.2 321,596.2 321,596.9 320,596.9 320,597.8 319,597.8 319,597.8 318,597.8 318,595.3 317,595.3 317,596.3 316,596.3 316,596.4 315,596.4 315,596.9 314,596.9 314,594.8 313,594.8 313,595.8 312,595.8 312,596.3 311,596.3 311,595.7 310,595.7 310,595.1 309,595.1 309,595.8 308,595.8 308,597.6 307,597.6 307,597.7 306,597.7 306,599.4 305,599.4 305,598.5 304,598.5 304,599.8 303,599.8 303,598.2 302,598.2 302,598.0 301,598.0 301,599.2 300,599.2 300,597.0 299,597.0 299,595.1 298,595.1 298,597.1 297,597.1 297,595.1 296,595.1 296,593.7 295,593.7 295,592.2 294,592.2 294,591.1 293,591.1 293,591.2 292,591.2 292,592.9 291,592.9 291,594.0 290,594.0 290,598.1 289,598.1 289,602.3 288,602.3 288,598.5 287,598.5 287,598.0 286,598.0 286,597.1 285,597.1 285,597.6 284,597.6 284,595.9 283,595.9 283,597.2 282,597.2 282,596.1 281,596.1 281,595.7 280,595.7 280,595.1 279,595.1 279,595.9 278,595.9 278,596.2 277,596.2 277,596.0 276,596.0 276,597.5 275,597.5 275,596.9 274,596.9 274,597.0 273,597.0 273,599.5 272,599.5 272,599.8 271,599.8 271,598.2 270,598.2 270,596.9 269,596.9 269,597.7 268,597.7 268,599.6 267,599.6 267,598.1 266,598.1 266,598.2 265,598.2 265,597.3 264,597.3 264,597.8 263,597.8 263,599.3 262,599.3 262,599.7 261,599.7 261,597.6 260,597.6 260,598.9 259,598.9 259,596.6 258,596.6 258,598.0 257,598.0 257,596.8 256,596.8 256,595.8 255,595.8 255,593.1 254,593.1 254,592.6 253,592.6 253,593.0 252,593.0 252,592.5 251,592.5 251,590.9 250,590.9 250,591.6 249,591.6 249,591.6 248,591.6 248,591.4 247,591.4 247,589.2 246,589.2 246,588.3 245,588.3 245,590.0 244,590.0 244,590.6 243,590.6 243,589.6 242,589.6 242,589.7 241,589.7 241,591.3 240,591.3 240,589.7 239,589.7 239,592.9 238,592.9 238,592.5 237,592.5 237,592.9 236,592.9 236,593.5 235,593.5 235,595.4 234,595.4 234,597.9 233,597.9 233,594.9 232,594.9 232,596.0 231,596.0 231,595.8 230,595.8 230,596.4 229,596.4 229,595.9 228,595.9 228,594.7 227,594.7 227,596.2 226,596.2 226,597.5 225,597.5 225,599.3 224,599.3 224,599.8 223,599.8 223,599.3 222,599.3 222,599.3 221,599.3 221,598.0 220,598.0 220,600.0 219,600.0 219,597.5 218,597.5 218,597.3 217,597.3 217,599.3 216,599.3 216,599.9 215,599.9 215,596.3 214,596.3 214,596.7 213,596.7 213,595.1 212,595.1 212,595.2 211,595.2 211,595.2 210,595.2 210,593.2 209,593.2 209,594.8 208,594.8 208,593.0 207,593.0 207,592.5 206,592.5 206,589.6 205,589.6 205,588.7 204,588.7 204,587.3 203,587.3 203,590.2 202,590.2 202,589.6 201,589.6 201,587.5 200,587.5 200,586.8 199,586.8 199,587.6 198,587.6 198,589.9 197,589.9 197,588.8 196,588.8 196,588.5 195,588.5 195,588.8 194,588.8 194,590.4 193,590.4 193,589.8 192,589.8 192,593.5 191,593.5 191,593.0 190,593.0 190,592.2 189,592.2 189,590.5 188,590.5 188,591.0 187,591.0 187,593.7 186,593.7 186,594.3 185,594.3 185,594.9 184,594.9 184,593.6 183,593.6 183,594.6 182,594.6 182,594.9 181,594.9 181,596.8 180,596.8 180,595.0 179,595.0 179,595.0 178,595.0 178,593.3 177,593.3 177,593.9 176,593.9 176,594.3 175,594.3 175,593.2 174,593.2 174,593.2 173,593.2 173,592.6 172,592.6 172,593.7 171,593.7 171,592.5 170,592.5 170,592.3 169,592.3 169,592.9 168,592.9 168,595.7 167,595.7 167,595.7 166,595.7 166,597.2 165,597.2 165,596.0 164,596.0 164,598.7 163,598.7 163,597.9 162,597.9 162,598.4 161,598.4 161,596.1 160,596.1 160,595.2 159,595.2 159,594.7 158,594.7 158,594.1 157,594.1 157,592.7 156,592.7 156,594.3 155,594.3 155,595.0 154,595.0 154,593.5 153,593.5 153,592.4 152,592.4 152,591.5 151,591.5 151,592.7 150,592.7 150,593.7 149,593.7 149,592.3 148,592.3Z M480,576.5 481,576.5 481,574.3 482,574.3 482,573.5 483,573.5 483,580.8 484,580.8 484,574.2 485,574.2 485,566.3 486,566.3 486,571.7 487,571.7 487,572.0 488,572.0 488,567.8 489,567.8 489,561.9 490,561.9 490,569.3 491,569.3 491,576.2 492,576.2 492,569.9 493,569.9 493,569.5 494,569.5 494,569.2 495,569.2 495,572.6 496,572.6 496,571.5 497,571.5 497,574.9 498,574.9 498,568.9 499,568.9 499,571.8 500,571.8 500,569.5 501,569.5 501,574.7 502,574.7 502,566.6 503,566.6 503,569.0 504,569.0 504,572.3 505,572.3 505,570.0 506,570.0 506,574.9 507,574.9 507,574.3 508,574.3 508,568.8 509,568.8 509,569.9 510,569.9 510,570.1 511,570.1 511,571.3 512,571.3 512,576.4 513,576.4 513,574.4 514,574.4 514,568.8 515,568.8 515,572.8 516,572.8 516,578.4 517,578.4 517,573.3 518,573.3 518,575.4 519,575.4 519,574.9 520,574.9 520,575.1 521,575.1 521,580.4 522,580.4 522,575.1 523,575.1 523,577.9 524,577.9 524,575.4 525,575.4 525,581.6 526,581.6 526,583.9 527,583.9 527,582.6 528,582.6 528,574.6 529,574.6 529,585.3 530,585.3 530,575.0 531,575.0 531,578.0 532,578.0 532,573.4 533,573.4 533,578.5 534,578.5 534,574.6 535,574.6 535,573.1 536,573.1 536,568.0 537,568.0 537,571.8 538,571.8 538,569.7 539,569.7 539,572.9 540,572.9 540,567.2 541,567.2 541,571.2 542,571.2 542,568.3 543,568.3 543,565.3 544,565.3 544,564.0 545,564.0 545,570.0 546,570.0 546,570.0 547,570.0 547,561.1 548,561.1 548,567.3 549,567.3 549,564.8 550,564.8 550,567.0 551,567.0 551,571.9 552,571.9 552,567.4 553,567.4 553,567.1 554,567.1 554,561.3 555,561.3 555,573.0 556,573.0 556,569.1 557,569.1 557,562.5 558,562.5 558,566.3 559,566.3 559,571.4 560,571.4 560,563.6 561,563.6 561,565.2 562,565.2 562,570.7 563,570.7 563,571.7 564,571.7 564,570.5 565,570.5 565,566.1 566,566.1 566,567.2 567,567.2 567,569.3 568,569.3 568,565.0 569,565.0 569,562.8 570,562.8 570,570.1 571,570.1 571,563.4 572,563.4 572,568.3 573,568.3 573,567.2 574,567.2 574,568.5 575,568.5 575,568.4 576,568.4 576,569.7 577,569.7 577,577.9 578,577.9 578,576.2 579,576.2 579,568.3 580,568.3 580,575.9 581,575.9 581,570.9 582,570.9 582,575.3 583,575.3 583,571.5 584,571.5 584,561.4 585,561.4 585,563.2 586,563.2 586,567.2 587,567.2 587,565.6 588,565.6 588,570.5 589,570.5 589,565.1 590,565.1 590,569.5 591,569.5 591,567.4 592,567.4 592,568.9 593,568.9 593,575.5 594,575.5 594,579.8 595,579.8 595,581.3 596,581.3 596,577.7 597,577.7 597,574.4 598,574.4 598,568.2 599,568.2 599,575.8 600,575.8 600,569.5 601,569.5 601,574.5 602,574.5 602,577.1 603,577.1 603,576.7 604,576.7 604,579.6 605,579.6 605,583.5 606,583.5 606,583.4 607,583.4 607,575.1 608,575.1 608,578.7 609,578.7 609,578.8 610,578.8 610,580.9 611,580.9 611,570.6 612,570.6 612,571.1 613,571.1 613,574.2 614,574.2 614,571.6 615,571.6 615,574.8 616,574.8 616,579.5 617,579.5 617,574.3 618,574.3 618,569.2 619,569.2 619,576.2 620,576.2 620,565.2 621,565.2 621,563.6 622,563.6 622,562.9 623,562.9 623,565.2 624,565.2 624,563.4 625,563.4 625,573.7 626,573.7 626,568.6 627,568.6 627,563.4 628,563.4 628,563.9 629,563.9 629,564.6 630,564.6 630,570.6 631,570.6 631,566.2 632,566.2 632,570.9 633,570.9 633,566.4 634,566.4 634,562.9 635,562.9 635,566.4 636,566.4 636,562.0 637,562.0 637,563.6 638,563.6 638,560.1 639,560.1 639,565.1 640,565.1 640,570.0 641,570.0 641,569.7 642,569.7 642,568.2 643,568.2 643,564.6 644,564.6 644,563.8 645,563.8 645,567.7 646,567.7 646,565.2 647,565.2 647,569.5 648,569.5 648,565.1 649,565.1 649,574.0 650,574.0 650,565.9 651,565.9 651,568.5 652,568.5 652,571.8 653,571.8 653,574.7 654,574.7 654,567.7 655,567.7 655,572.1 656,572.1 656,566.8 657,566.8 657,564.2 658,564.2 658,569.3 659,569.3 659,571.3 660,571.3 660,571.8 661,571.8 661,578.1 662,578.1 662,572.5 663,572.5 663,579.2 664,579.2 664,576.8 665,576.8 665,577.7 666,577.7 666,582.0 667,582.0 667,575.2 668,575.2 668,577.2 669,577.2 669,582.2 670,582.2 670,582.0 671,582.0 671,583.9 672,583.9 672,580.1 673,580.1 673,569.8 674,569.8 674,567.2 675,567.2 675,572.3 676,572.3 676,566.4 677,566.4 677,565.2 678,565.2 678,565.7 679,565.7 679,565.0 680,565.0 680,576.1 681,576.1 681,569.1 682,569.1 682,573.8 683,573.8 683,567.3 684,567.3 684,573.2 685,573.2 685,570.1 686,570.1 686,567.5 687,567.5 687,577.2 688,577.2 688,575.0 689,575.0 689,575.4 690,575.4 690,573.5 691,573.5 691,580.6 692,580.6 692,572.9 693,572.9 693,571.9 694,571.9 694,578.1 695,578.1 695,576.9 696,576.9 696,587.0 697,587.0 697,585.0 698,585.0 698,576.6 699,576.6 699,577.0 700,577.0 700,575.5 701,575.5 701,573.7 702,573.7 702,576.8 703,576.8 703,578.6 704,578.6 704,579.6 705,579.6 705,576.5 706,576.5 706,583.3 707,583.3 707,571.3 708,571.3 708,582.0 709,582.0 709,581.0 710,581.0 710,576.9 711,576.9 711,575.5 712,575.5 712,595.6 711,595.6 711,597.9 710,597.9 710,599.0 709,599.0 709,600.0 708,600.0 708,600.1 707,600.1 707,600.2 706,600.2 706,598.2 705,598.2 705,600.8 704,600.8 704,601.0 703,601.0 703,599.3 702,599.3 702,601.0 701,601.0 701,599.3 700,599.3 700,598.4 699,598.4 699,599.3 698,599.3 698,598.2 697,598.2 697,598.0 696,598.0 696,598.6 695,598.6 695,600.5 694,600.5 694,599.1 693,599.1 693,598.2 692,598.2 692,599.4 691,599.4 691,597.9 690,597.9 690,598.8 689,598.8 689,597.8 688,597.8 688,596.5 687,596.5 687,595.9 686,595.9 686,596.4 685,596.4 685,596.1 684,596.1 684,595.0 683,595.0 683,593.2 682,593.2 682,593.3 681,593.3 681,593.5 680,593.5 680,595.6 679,595.6 679,595.4 678,595.4 678,594.0 677,594.0 677,594.3 676,594.3 676,593.3 675,593.3 675,594.6 674,594.6 674,596.7 673,596.7 673,594.6 672,594.6 672,597.0 671,597.0 671,595.0 670,595.0 670,596.8 669,596.8 669,596.4 668,596.4 668,597.8 667,597.8 667,597.6 666,597.6 666,597.7 665,597.7 665,596.9 664,596.9 664,598.6 663,598.6 663,598.3 662,598.3 662,598.7 661,598.7 661,596.2 660,596.2 660,598.7 659,598.7 659,595.1 658,595.1 658,596.1 657,596.1 657,596.0 656,596.0 656,598.3 655,598.3 655,598.4 654,598.4 654,599.1 653,599.1 653,598.9 652,598.9 652,598.8 651,598.8 651,598.6 650,598.6 650,600.1 649,600.1 649,599.0 648,599.0 648,597.1 647,597.1 647,598.5 646,598.5 646,596.9 645,596.9 645,599.2 644,599.2 644,598.8 643,598.8 643,600.0 642,600.0 642,599.2 641,599.2 641,599.8 640,599.8 640,599.3 639,599.3 639,599.2 638,599.2 638,597.9 637,597.9 637,600.9 636,600.9 636,599.8 635,599.8 635,599.0 634,599.0 634,599.5 633,599.5 633,598.4 632,598.4 632,597.3 631,597.3 631,598.2 630,598.2 630,597.4 629,597.4 629,600.4 628,600.4 628,601.1 627,601.1 627,599.2 626,599.2 626,598.6 625,598.6 625,599.1 624,599.1 624,600.2 623,600.2 623,598.4 622,598.4 622,598.3 621,598.3 621,597.5 620,597.5 620,597.1 619,597.1 619,599.5 618,599.5 618,596.8 617,596.8 617,597.3 616,597.3 616,596.9 615,596.9 615,597.3 614,597.3 614,597.7 613,597.7 613,598.5 612,598.5 612,599.1 611,599.1 611,598.8 610,598.8 610,600.8 609,600.8 609,598.1 608,598.1 608,599.1 607,599.1 607,597.8 606,597.8 606,598.7 605,598.7 605,597.9 604,597.9 604,598.1 603,598.1 603,597.5 602,597.5 602,596.4 601,596.4 601,596.9 600,596.9 600,594.6 599,594.6 599,595.0 598,595.0 598,594.4 597,594.4 597,595.6 596,595.6 596,594.1 595,594.1 595,595.6 594,595.6 594,596.2 593,596.2 593,596.5 592,596.5 592,598.3 591,598.3 591,598.4 590,598.4 590,598.8 589,598.8 589,598.0 588,598.0 588,596.8 587,596.8 587,598.1 586,598.1 586,597.1 585,597.1 585,597.8 584,597.8 584,600.9 583,600.9 583,600.7 582,600.7 582,601.2 581,601.2 581,600.9 580,600.9 580,598.4 579,598.4 579,599.4 578,599.4 578,598.0 577,598.0 577,598.4 576,598.4 576,598.8 575,598.8 575,598.0 574,598.0 574,598.2 573,598.2 573,599.1 572,599.1 572,599.5 571,599.5 571,598.2 570,598.2 570,597.4 569,597.4 569,598.8 568,598.8 568,597.5 567,597.5 567,599.7 566,599.7 566,598.7 565,598.7 565,599.1 564,599.1 564,597.0 563,597.0 563,597.6 562,597.6 562,599.8 561,599.8 561,598.8 560,598.8 560,599.8 559,599.8 559,600.0 558,600.0 558,600.1 557,600.1 557,598.1 556,598.1 556,598.8 555,598.8 555,599.6 554,599.6 554,599.3 553,599.3 553,598.3 552,598.3 552,597.5 551,597.5 551,598.0 550,598.0 550,598.3 549,598.3 549,599.5 548,599.5 548,598.5 547,598.5 547,600.5 546,600.5 546,599.7 545,599.7 545,600.0 544,600.0 544,597.3 543,597.3 543,597.7 542,597.7 542,598.7 541,598.7 541,599.8 540,599.8 540,599.6 539,599.6 539,598.7 538,598.7 538,598.9 537,598.9 537,598.1 536,598.1 536,597.2 535,597.2 535,598.3 534,598.3 534,597.9 533,597.9 533,596.8 532,596.8 532,597.4 531,597.4 531,599.0 530,599.0 530,597.5 529,597.5 529,596.8 528,596.8 528,597.5 527,597.5 527,598.8 526,598.8 526,598.6 525,598.6 525,599.4 524,599.4 524,597.4 523,597.4 523,600.0 522,600.0 522,598.4 521,598.4 521,599.6 520,599.6 520,599.4 519,599.4 519,598.9 518,598.9 518,598.6 517,598.6 517,601.1 516,601.1 516,600.8 515,600.8 515,598.1 514,598.1 514,598.6 513,598.6 513,598.4 512,598.4 512,600.3 511,600.3 511,600.0 510,600.0 510,597.6 509,597.6 509,599.9 508,599.9 508,599.1 507,599.1 507,598.7 506,598.7 506,597.5 505,597.5 505,598.4 504,598.4 504,596.8 503,596.8 503,597.3 502,597.3 502,597.0 501,597.0 501,597.2 500,597.2 500,600.0 499,600.0 499,599.1 498,599.1 498,599.4 497,599.4 497,597.1 496,597.1 496,599.9 495,599.9 495,599.6 494,599.6 494,597.9 493,597.9 493,599.3 492,599.3 492,596.8 491,596.8 491,597.9 490,597.9 490,596.8 489,596.8 489,598.8 488,598.8 488,598.7 487,598.7 487,597.9 486,597.9 486,596.3 485,596.3 485,598.1 484,598.1 484,596.9 483,596.9 483,597.6 482,597.6 482,599.8 481,599.8 481,599.2 480,599.2Z" fill="#4e79a7"/><path d="M148.5,591.8V597.0M163.5,564.8V545.7M164.5,595.5V598.7M166.5,557.5V555.4M167.5,562.5V551.8M174.5,592.7V599.0M176.5,572.0V553.0M177.5,566.8V555.2M181.5,575.2V563.3M181.5,594.4V596.7M190.5,573.8V561.2M209.5,592.7V598.0M215.5,582.7V549.8M216.5,582.1V570.3M224.5,565.1V559.4M227.5,562.6V553.0M228.5,561.9V553.7M229.5,595.9V599.8M230.5,574.1V558.4M230.5,595.3V608.0M231.5,595.5V598.4M234.5,594.9V599.7M237.5,570.1V559.2M239.5,564.5V558.1M241.5,589.2V593.5M251.5,592.0V593.3M256.5,596.3V601.6M257.5,578.7V566.8M259.5,598.4V600.0M260.5,597.1V601.3M283.5,595.4V599.4M285.5,574.0V557.4M288.5,579.3V558.6M294.5,591.7V599.0M303.5,565.9V557.6M311.5,595.8V598.4M314.5,596.4V598.4M315.5,560.0V541.9M317.5,564.8V545.1M321.5,568.4V558.0M329.5,563.7V556.3M329.5,594.7V598.9M335.5,595.5V598.3M346.5,595.6V598.2M363.5,565.3V556.6M374.5,596.3V597.3M406.5,573.4V567.1M407.5,596.4V600.0M414.5,596.7V600.3M415.5,568.7V556.9M417.5,597.8V600.7M419.5,598.1V601.3M420.5,578.5V559.5M421.5,599.5V601.3M425.5,573.4V550.0M425.5,599.2V604.6M428.5,570.2V549.7M433.5,596.8V599.5M440.5,597.0V599.2M453.5,597.0V600.9M454.5,598.9V599.9M459.5,595.9V601.5M464.5,595.6V599.7M474.5,572.5V566.5M483.5,581.3V565.9M488.5,598.3V601.5M493.5,597.4V600.7M496.5,596.6V600.6M508.5,569.3V557.6M518.5,598.4V602.8M520.5,599.1V600.8M524.5,598.9V601.4M525.5,582.1V571.7M534.5,597.8V605.7M548.5,599.0V602.5M549.5,597.8V602.9M550.5,567.5V550.1M550.5,597.5V601.4M551.5,597.0V600.8M572.5,568.8V557.5M572.5,598.6V602.3M575.5,598.3V601.8M579.5,568.8V563.9M585.5,563.7V551.4M610.5,581.4V566.1M621.5,564.1V559.2M628.5,564.4V548.9M630.5,571.1V558.9M639.5,598.8V602.1M641.5,570.2V556.8M642.5,568.7V555.3M662.5,597.8V600.0M663.5,598.1V600.3M670.5,594.5V600.8M678.5,594.9V603.2M689.5,575.9V563.7M693.5,572.4V558.6M701.5,574.2V572.0M707.5,599.6V601.3M447.5,576.0V552.0M506.5,581.1V542.3M516.5,582.8V560.5M555.5,579.5V537.0M558.5,578.0V554.0M562.5,579.6V559.4M568.5,579.0V556.2M587.5,577.0V554.1M188.5,576.7V551.9M199.5,574.0V550.9M224.5,578.8V549.8M341.5,576.2V547.7M394.5,577.8V547.7M631.5,578.5V552.0M645.5,578.3V547.7M293.5,567.6V542.3M296.5,570.0V544.5M291.5,568.4V542.3M155.5,574.8V550.9M157.5,573.1V547.7M173.5,573.7V550.9M382.5,575.8V551.9M284.5,580.6V560.5M311.5,574.7V548.7M410.5,583.3V552.0" stroke="#4e79a7" stroke-width="0.8" fill="none"/><path d="M477,577.0 L480,593.6" fill="none" stroke="#4e79a7" stroke-width="0.8" stroke-opacity="0.75"/></g><g clip-path="url(#c4)"><path d="M148,696.7 149,696.7 149,701.3 150,701.3 150,701.9 151,701.9 151,701.3 152,701.3 152,696.8 153,696.8 153,689.7 154,689.7 154,694.3 155,694.3 155,695.5 156,695.5 156,696.5 157,696.5 157,705.9 158,705.9 158,698.7 159,698.7 159,702.8 160,702.8 160,696.3 161,696.3 161,689.9 162,689.9 162,693.2 163,693.2 163,693.5 164,693.5 164,696.0 165,696.0 165,692.4 166,692.4 166,700.3 167,700.3 167,697.0 168,697.0 168,687.9 169,687.9 169,690.0 170,690.0 170,692.1 171,692.1 171,689.4 172,689.4 172,688.5 173,688.5 173,688.9 174,688.9 174,687.0 175,687.0 175,695.3 176,695.3 176,688.1 177,688.1 177,692.9 178,692.9 178,687.9 179,687.9 179,690.7 180,690.7 180,695.9 181,695.9 181,694.4 182,694.4 182,699.9 183,699.9 183,694.3 184,694.3 184,699.0 185,699.0 185,697.7 186,697.7 186,706.4 187,706.4 187,698.9 188,698.9 188,704.8 189,704.8 189,701.4 190,701.4 190,703.1 191,703.1 191,711.5 192,711.5 192,704.5 193,704.5 193,705.6 194,705.6 194,699.9 195,699.9 195,695.0 196,695.0 196,696.7 197,696.7 197,697.1 198,697.1 198,706.4 199,706.4 199,702.8 200,702.8 200,702.5 201,702.5 201,701.3 202,701.3 202,708.1 203,708.1 203,703.2 204,703.2 204,700.6 205,700.6 205,705.8 206,705.8 206,702.6 207,702.6 207,694.0 208,694.0 208,699.3 209,699.3 209,699.6 210,699.6 210,690.6 211,690.6 211,691.0 212,691.0 212,692.8 213,692.8 213,691.0 214,691.0 214,692.6 215,692.6 215,692.9 216,692.9 216,692.2 217,692.2 217,687.9 218,687.9 218,684.5 219,684.5 219,689.3 220,689.3 220,688.1 221,688.1 221,688.1 222,688.1 222,691.9 223,691.9 223,686.0 224,686.0 224,683.8 225,683.8 225,690.9 226,690.9 226,685.6 227,685.6 227,691.2 228,691.2 228,686.1 229,686.1 229,686.3 230,686.3 230,691.1 231,691.1 231,697.0 232,697.0 232,692.4 233,692.4 233,695.1 234,695.1 234,694.8 235,694.8 235,690.5 236,690.5 236,683.8 237,683.8 237,687.1 238,687.1 238,688.4 239,688.4 239,695.7 240,695.7 240,694.1 241,694.1 241,697.6 242,697.6 242,691.7 243,691.7 243,696.5 244,696.5 244,696.1 245,696.1 245,697.1 246,697.1 246,699.2 247,699.2 247,696.4 248,696.4 248,698.6 249,698.6 249,703.4 250,703.4 250,703.2 251,703.2 251,700.5 252,700.5 252,694.2 253,694.2 253,692.8 254,692.8 254,685.7 255,685.7 255,687.9 256,687.9 256,688.1 257,688.1 257,693.4 258,693.4 258,685.4 259,685.4 259,692.5 260,692.5 260,692.7 261,692.7 261,684.3 262,684.3 262,688.0 263,688.0 263,688.8 264,688.8 264,681.2 265,681.2 265,683.7 266,683.7 266,679.8 267,679.8 267,684.6 268,684.6 268,681.1 269,681.1 269,680.2 270,680.2 270,683.4 271,683.4 271,680.2 272,680.2 272,685.7 273,685.7 273,686.0 274,686.0 274,684.5 275,684.5 275,680.9 276,680.9 276,684.8 277,684.8 277,686.0 278,686.0 278,682.8 279,682.8 279,679.3 280,679.3 280,684.1 281,684.1 281,688.3 282,688.3 282,684.0 283,684.0 283,680.0 284,680.0 284,684.0 285,684.0 285,681.4 286,681.4 286,688.2 287,688.2 287,682.3 288,682.3 288,680.5 289,680.5 289,685.5 290,685.5 290,693.5 291,693.5 291,692.5 292,692.5 292,699.1 293,699.1 293,692.7 294,692.7 294,700.7 295,700.7 295,697.8 296,697.8 296,690.2 297,690.2 297,688.9 298,688.9 298,697.6 299,697.6 299,688.4 300,688.4 300,690.3 301,690.3 301,692.5 302,692.5 302,689.1 303,689.1 303,689.5 304,689.5 304,686.5 305,686.5 305,696.6 306,696.6 306,694.8 307,694.8 307,693.8 308,693.8 308,700.2 309,700.2 309,690.4 310,690.4 310,688.4 311,688.4 311,694.2 312,694.2 312,690.8 313,690.8 313,692.6 314,692.6 314,690.1 315,690.1 315,693.5 316,693.5 316,688.0 317,688.0 317,695.6 318,695.6 318,687.4 319,687.4 319,689.4 320,689.4 320,686.9 321,686.9 321,697.4 322,697.4 322,693.6 323,693.6 323,698.0 324,698.0 324,694.2 325,694.2 325,690.8 326,690.8 326,696.0 327,696.0 327,698.1 328,698.1 328,698.6 329,698.6 329,691.7 330,691.7 330,687.1 331,687.1 331,686.7 332,686.7 332,689.6 333,689.6 333,696.4 334,696.4 334,696.8 335,696.8 335,702.9 336,702.9 336,705.6 337,705.6 337,698.1 338,698.1 338,703.9 339,703.9 339,703.4 340,703.4 340,706.1 341,706.1 341,701.4 342,701.4 342,701.3 343,701.3 343,708.6 344,708.6 344,708.6 345,708.6 345,705.6 346,705.6 346,694.0 347,694.0 347,689.3 348,689.3 348,691.4 349,691.4 349,684.1 350,684.1 350,685.4 351,685.4 351,689.8 352,689.8 352,690.2 353,690.2 353,684.5 354,684.5 354,682.3 355,682.3 355,686.9 356,686.9 356,684.2 357,684.2 357,682.4 358,682.4 358,686.9 359,686.9 359,685.3 360,685.3 360,684.8 361,684.8 361,685.6 362,685.6 362,689.6 363,689.6 363,684.9 364,684.9 364,683.1 365,683.1 365,679.5 366,679.5 366,683.8 367,683.8 367,688.5 368,688.5 368,681.9 369,681.9 369,681.5 370,681.5 370,685.3 371,685.3 371,682.4 372,682.4 372,683.5 373,683.5 373,681.9 374,681.9 374,689.6 375,689.6 375,691.0 376,691.0 376,688.4 377,688.4 377,690.6 378,690.6 378,684.6 379,684.6 379,686.0 380,686.0 380,688.9 381,688.9 381,685.2 382,685.2 382,687.3 383,687.3 383,686.7 384,686.7 384,687.0 385,687.0 385,690.0 386,690.0 386,690.3 387,690.3 387,689.4 388,689.4 388,693.6 389,693.6 389,690.9 390,690.9 390,685.3 391,685.3 391,686.1 392,686.1 392,691.3 393,691.3 393,682.3 394,682.3 394,690.0 395,690.0 395,684.5 396,684.5 396,683.4 397,683.4 397,681.8 398,681.8 398,688.7 399,688.7 399,685.9 400,685.9 400,686.2 401,686.2 401,681.6 402,681.6 402,683.6 403,683.6 403,684.3 404,684.3 404,684.4 405,684.4 405,682.5 406,682.5 406,684.4 407,684.4 407,684.8 408,684.8 408,692.2 409,692.2 409,687.0 410,687.0 410,693.9 411,693.9 411,685.6 412,685.6 412,686.8 413,686.8 413,691.1 414,691.1 414,692.2 415,692.2 415,687.6 416,687.6 416,685.4 417,685.4 417,687.7 418,687.7 418,686.6 419,686.6 419,685.7 420,685.7 420,686.1 421,686.1 421,684.1 422,684.1 422,681.2 423,681.2 423,677.7 424,677.7 424,678.0 425,678.0 425,682.3 426,682.3 426,675.6 427,675.6 427,675.1 428,675.1 428,678.6 429,678.6 429,675.2 430,675.2 430,680.7 431,680.7 431,683.1 432,683.1 432,683.8 433,683.8 433,676.5 434,676.5 434,679.6 435,679.6 435,680.1 436,680.1 436,681.6 437,681.6 437,684.2 438,684.2 438,680.5 439,680.5 439,679.2 440,679.2 440,677.2 441,677.2 441,683.5 442,683.5 442,676.9 443,676.9 443,677.4 444,677.4 444,686.5 445,686.5 445,677.1 446,677.1 446,675.3 447,675.3 447,675.7 448,675.7 448,678.3 449,678.3 449,679.6 450,679.6 450,688.4 451,688.4 451,681.5 452,681.5 452,681.5 453,681.5 453,686.7 454,686.7 454,682.8 455,682.8 455,686.3 456,686.3 456,679.6 457,679.6 457,688.2 458,688.2 458,689.1 459,689.1 459,692.9 460,692.9 460,688.7 461,688.7 461,685.8 462,685.8 462,686.1 463,686.1 463,689.4 464,689.4 464,684.1 465,684.1 465,685.8 466,685.8 466,683.8 467,683.8 467,687.6 468,687.6 468,693.2 469,693.2 469,686.0 470,686.0 470,686.6 471,686.6 471,677.3 472,677.3 472,679.8 473,679.8 473,678.0 474,678.0 474,678.0 475,678.0 475,685.0 476,685.0 476,682.5 477,682.5 477,728.7 476,728.7 476,721.2 475,721.2 475,726.1 474,726.1 474,723.0 473,723.0 473,726.0 472,726.0 472,726.0 471,726.0 471,717.8 470,717.8 470,723.8 469,723.8 469,722.6 468,722.6 468,725.6 467,725.6 467,727.3 466,727.3 466,725.2 465,725.2 465,721.7 464,721.7 464,719.4 463,719.4 463,720.2 462,720.2 462,722.2 461,722.2 461,724.8 460,724.8 460,719.4 459,719.4 459,723.6 458,723.6 458,721.2 457,721.2 457,719.3 456,719.3 456,721.8 455,721.8 455,725.9 454,725.9 454,721.4 453,721.4 453,720.6 452,720.6 452,723.3 451,723.3 451,718.1 450,718.1 450,724.8 449,724.8 449,718.9 448,718.9 448,721.2 447,721.2 447,719.4 446,719.4 446,723.1 445,723.1 445,721.1 444,721.1 444,725.1 443,725.1 443,719.4 442,719.4 442,725.4 441,725.4 441,718.3 440,718.3 440,716.8 439,716.8 439,722.4 438,722.4 438,720.0 437,720.0 437,722.3 436,722.3 436,717.9 435,717.9 435,727.0 434,727.0 434,725.8 433,725.8 433,725.6 432,725.6 432,726.4 431,726.4 431,726.1 430,726.1 430,725.4 429,725.4 429,725.7 428,725.7 428,726.3 427,726.3 427,717.0 426,717.0 426,718.6 425,718.6 425,718.4 424,718.4 424,721.6 423,721.6 423,721.9 422,721.9 422,718.3 421,718.3 421,720.7 420,720.7 420,714.4 419,714.4 419,718.1 418,718.1 418,719.3 417,719.3 417,723.1 416,723.1 416,718.5 415,718.5 415,715.3 414,715.3 414,717.6 413,717.6 413,715.7 412,715.7 412,716.4 411,716.4 411,711.7 410,711.7 410,717.6 409,717.6 409,712.7 408,712.7 408,713.0 407,713.0 407,715.3 406,715.3 406,720.7 405,720.7 405,715.8 404,715.8 404,713.3 403,713.3 403,713.2 402,713.2 402,718.4 401,718.4 401,718.2 400,718.2 400,721.4 399,721.4 399,719.5 398,719.5 398,717.0 397,717.0 397,722.7 396,722.7 396,719.5 395,719.5 395,720.5 394,720.5 394,726.0 393,726.0 393,720.5 392,720.5 392,719.2 391,719.2 391,717.0 390,717.0 390,723.9 389,723.9 389,726.9 388,726.9 388,727.6 387,727.6 387,727.7 386,727.7 386,728.3 385,728.3 385,727.7 384,727.7 384,723.0 383,723.0 383,718.7 382,718.7 382,727.7 381,727.7 381,722.9 380,722.9 380,725.0 379,725.0 379,726.3 378,726.3 378,725.0 377,725.0 377,721.7 376,721.7 376,719.3 375,719.3 375,720.0 374,720.0 374,722.8 373,722.8 373,723.3 372,723.3 372,721.9 371,721.9 371,725.5 370,725.5 370,720.5 369,720.5 369,720.8 368,720.8 368,730.8 367,730.8 367,722.0 366,722.0 366,730.2 365,730.2 365,726.9 364,726.9 364,726.5 363,726.5 363,723.5 362,723.5 362,725.1 361,725.1 361,723.4 360,723.4 360,720.0 359,720.0 359,720.9 358,720.9 358,724.3 357,724.3 357,722.2 356,722.2 356,722.2 355,722.2 355,721.0 354,721.0 354,721.6 353,721.6 353,721.5 352,721.5 352,725.0 351,725.0 351,722.0 350,722.0 350,725.7 349,725.7 349,722.9 348,722.9 348,722.2 347,722.2 347,719.6 346,719.6 346,728.4 345,728.4 345,731.1 344,731.1 344,729.6 343,729.6 343,727.8 342,727.8 342,730.8 341,730.8 341,731.0 340,731.0 340,726.9 339,726.9 339,730.0 338,730.0 338,724.4 337,724.4 337,725.1 336,725.1 336,719.3 335,719.3 335,720.2 334,720.2 334,721.5 333,721.5 333,716.4 332,716.4 332,721.8 331,721.8 331,727.8 330,727.8 330,722.1 329,722.1 329,722.8 328,722.8 328,723.6 327,723.6 327,728.2 326,728.2 326,722.2 325,722.2 325,724.6 324,724.6 324,728.6 323,728.6 323,727.7 322,727.7 322,719.6 321,719.6 321,725.6 320,725.6 320,728.6 319,728.6 319,727.4 318,727.4 318,727.8 317,727.8 317,727.6 316,727.6 316,723.0 315,723.0 315,726.3 314,726.3 314,723.5 313,723.5 313,721.9 312,721.9 312,726.9 311,726.9 311,721.5 310,721.5 310,726.5 309,726.5 309,725.9 308,725.9 308,729.8 307,729.8 307,725.5 306,725.5 306,721.9 305,721.9 305,729.1 304,729.1 304,725.7 303,725.7 303,723.0 302,723.0 302,729.1 301,729.1 301,725.8 300,725.8 300,725.5 299,725.5 299,727.9 298,727.9 298,732.0 297,732.0 297,733.1 296,733.1 296,726.8 295,726.8 295,729.6 294,729.6 294,730.9 293,730.9 293,731.0 292,731.0 292,723.2 291,723.2 291,730.7 290,730.7 290,720.2 289,720.2 289,716.2 288,716.2 288,713.7 287,713.7 287,717.6 286,717.6 286,716.6 285,716.6 285,718.3 284,718.3 284,720.5 283,720.5 283,719.1 282,719.1 282,723.3 281,723.3 281,723.0 280,723.0 280,713.7 279,713.7 279,719.0 278,719.0 278,717.3 277,717.3 277,716.4 276,716.4 276,722.2 275,722.2 275,713.0 274,713.0 274,719.7 273,719.7 273,722.3 272,722.3 272,715.3 271,715.3 271,713.2 270,713.2 270,716.9 269,716.9 269,716.4 268,716.4 268,720.1 267,720.1 267,716.2 266,716.2 266,720.0 265,720.0 265,715.1 264,715.1 264,716.7 263,716.7 263,719.7 262,719.7 262,717.2 261,717.2 261,720.7 260,720.7 260,720.7 259,720.7 259,718.8 258,718.8 258,724.7 257,724.7 257,725.8 256,725.8 256,726.8 255,726.8 255,726.2 254,726.2 254,723.6 253,723.6 253,723.3 252,723.3 252,732.2 251,732.2 251,730.6 250,730.6 250,724.7 249,724.7 249,728.9 248,728.9 248,724.1 247,724.1 247,722.7 246,722.7 246,731.7 245,731.7 245,730.4 244,730.4 244,731.3 243,731.3 243,729.9 242,729.9 242,733.5 241,733.5 241,726.2 240,726.2 240,731.4 239,731.4 239,727.3 238,727.3 238,735.5 237,735.5 237,732.5 236,732.5 236,731.8 235,731.8 235,729.3 234,729.3 234,732.0 233,732.0 233,731.8 232,731.8 232,726.6 231,726.6 231,724.4 230,724.4 230,725.0 229,725.0 229,724.8 228,724.8 228,723.6 227,723.6 227,723.2 226,723.2 226,726.5 225,726.5 225,724.8 224,724.8 224,726.8 223,726.8 223,725.6 222,725.6 222,725.6 221,725.6 221,724.8 220,724.8 220,725.1 219,725.1 219,723.3 218,723.3 218,727.3 217,727.3 217,719.2 216,719.2 216,723.9 215,723.9 215,720.8 214,720.8 214,725.0 213,725.0 213,726.0 212,726.0 212,726.0 211,726.0 211,722.7 210,722.7 210,729.8 209,729.8 209,726.3 208,726.3 208,726.3 207,726.3 207,731.7 206,731.7 206,731.3 205,731.3 205,731.5 204,731.5 204,728.0 203,728.0 203,731.3 202,731.3 202,731.5 201,731.5 201,731.4 200,731.4 200,726.6 199,726.6 199,727.2 198,727.2 198,725.8 197,725.8 197,724.8 196,724.8 196,722.8 195,722.8 195,728.1 194,728.1 194,730.6 193,730.6 193,727.9 192,727.9 192,727.7 191,727.7 191,731.2 190,731.2 190,728.2 189,728.2 189,728.9 188,728.9 188,730.0 187,730.0 187,729.9 186,729.9 186,729.6 185,729.6 185,726.4 184,726.4 184,722.1 183,722.1 183,727.1 182,727.1 182,725.8 181,725.8 181,725.9 180,725.9 180,726.6 179,726.6 179,728.8 178,728.8 178,729.8 177,729.8 177,726.6 176,726.6 176,733.3 175,733.3 175,732.5 174,732.5 174,728.1 173,728.1 173,729.4 172,729.4 172,733.2 171,733.2 171,732.7 170,732.7 170,727.6 169,727.6 169,724.3 168,724.3 168,724.3 167,724.3 167,728.6 166,728.6 166,732.5 165,732.5 165,732.7 164,732.7 164,732.2 163,732.2 163,729.8 162,729.8 162,733.1 161,733.1 161,734.4 160,734.4 160,727.0 159,727.0 159,729.4 158,729.4 158,733.0 157,733.0 157,733.3 156,733.3 156,731.8 155,731.8 155,734.1 154,734.1 154,730.9 153,730.9 153,729.5 152,729.5 152,731.7 151,731.7 151,728.6 150,728.6 150,726.0 149,726.0 149,728.5 148,728.5Z M480,680.9 481,680.9 481,682.9 482,682.9 482,678.9 483,678.9 483,678.1 484,678.1 484,678.2 485,678.2 485,683.1 486,683.1 486,676.7 487,676.7 487,682.4 488,682.4 488,686.1 489,686.1 489,681.1 490,681.1 490,674.6 491,674.6 491,677.8 492,677.8 492,684.6 493,684.6 493,682.0 494,682.0 494,676.0 495,676.0 495,679.1 496,679.1 496,681.2 497,681.2 497,686.0 498,686.0 498,682.9 499,682.9 499,685.2 500,685.2 500,677.6 501,677.6 501,680.6 502,680.6 502,679.4 503,679.4 503,688.4 504,688.4 504,684.5 505,684.5 505,680.6 506,680.6 506,678.3 507,678.3 507,679.0 508,679.0 508,686.7 509,686.7 509,677.3 510,677.3 510,681.6 511,681.6 511,683.0 512,683.0 512,682.6 513,682.6 513,684.7 514,684.7 514,681.6 515,681.6 515,681.7 516,681.7 516,680.2 517,680.2 517,680.2 518,680.2 518,678.8 519,678.8 519,675.8 520,675.8 520,682.1 521,682.1 521,685.5 522,685.5 522,680.4 523,680.4 523,683.1 524,683.1 524,681.5 525,681.5 525,688.9 526,688.9 526,686.7 527,686.7 527,689.3 528,689.3 528,691.0 529,691.0 529,689.0 530,689.0 530,687.2 531,687.2 531,685.2 532,685.2 532,690.8 533,690.8 533,684.1 534,684.1 534,682.2 535,682.2 535,684.3 536,684.3 536,687.8 537,687.8 537,689.8 538,689.8 538,682.7 539,682.7 539,688.8 540,688.8 540,681.4 541,681.4 541,691.2 542,691.2 542,691.7 543,691.7 543,684.9 544,684.9 544,689.7 545,689.7 545,681.5 546,681.5 546,685.9 547,685.9 547,686.7 548,686.7 548,683.0 549,683.0 549,679.5 550,679.5 550,679.6 551,679.6 551,683.3 552,683.3 552,684.2 553,684.2 553,679.2 554,679.2 554,684.7 555,684.7 555,685.6 556,685.6 556,685.2 557,685.2 557,674.6 558,674.6 558,674.6 559,674.6 559,676.5 560,676.5 560,680.6 561,680.6 561,677.8 562,677.8 562,685.7 563,685.7 563,682.4 564,682.4 564,677.4 565,677.4 565,679.4 566,679.4 566,685.5 567,685.5 567,682.2 568,682.2 568,682.3 569,682.3 569,676.5 570,676.5 570,676.7 571,676.7 571,678.5 572,678.5 572,674.2 573,674.2 573,679.4 574,679.4 574,674.4 575,674.4 575,675.2 576,675.2 576,677.5 577,677.5 577,679.6 578,679.6 578,675.7 579,675.7 579,673.2 580,673.2 580,683.0 581,683.0 581,677.8 582,677.8 582,674.3 583,674.3 583,680.2 584,680.2 584,680.9 585,680.9 585,673.5 586,673.5 586,677.7 587,677.7 587,680.5 588,680.5 588,678.7 589,678.7 589,680.0 590,680.0 590,680.4 591,680.4 591,681.6 592,681.6 592,681.2 593,681.2 593,684.4 594,684.4 594,684.8 595,684.8 595,692.1 596,692.1 596,690.3 597,690.3 597,694.4 598,694.4 598,687.1 599,687.1 599,687.6 600,687.6 600,684.5 601,684.5 601,686.9 602,686.9 602,689.4 603,689.4 603,681.9 604,681.9 604,683.1 605,683.1 605,687.4 606,687.4 606,682.4 607,682.4 607,683.1 608,683.1 608,676.6 609,676.6 609,680.5 610,680.5 610,679.2 611,679.2 611,680.2 612,680.2 612,679.5 613,679.5 613,681.5 614,681.5 614,682.4 615,682.4 615,682.3 616,682.3 616,688.7 617,688.7 617,683.7 618,683.7 618,687.4 619,687.4 619,687.3 620,687.3 620,681.8 621,681.8 621,687.3 622,687.3 622,682.4 623,682.4 623,676.7 624,676.7 624,679.5 625,679.5 625,676.8 626,676.8 626,683.4 627,683.4 627,680.1 628,680.1 628,686.3 629,686.3 629,684.6 630,684.6 630,682.7 631,682.7 631,673.7 632,673.7 632,672.9 633,672.9 633,684.3 634,684.3 634,681.7 635,681.7 635,682.7 636,682.7 636,674.6 637,674.6 637,675.6 638,675.6 638,680.6 639,680.6 639,677.0 640,677.0 640,675.8 641,675.8 641,682.4 642,682.4 642,677.1 643,677.1 643,677.4 644,677.4 644,676.4 645,676.4 645,685.0 646,685.0 646,680.3 647,680.3 647,685.5 648,685.5 648,680.4 649,680.4 649,686.2 650,686.2 650,681.2 651,681.2 651,683.1 652,683.1 652,696.0 653,696.0 653,687.4 654,687.4 654,691.9 655,691.9 655,686.5 656,686.5 656,687.8 657,687.8 657,689.4 658,689.4 658,688.5 659,688.5 659,688.6 660,688.6 660,681.2 661,681.2 661,683.4 662,683.4 662,689.1 663,689.1 663,683.6 664,683.6 664,688.0 665,688.0 665,685.0 666,685.0 666,690.6 667,690.6 667,687.1 668,687.1 668,692.5 669,692.5 669,693.3 670,693.3 670,689.1 671,689.1 671,686.9 672,686.9 672,689.2 673,689.2 673,690.8 674,690.8 674,685.8 675,685.8 675,690.1 676,690.1 676,699.0 677,699.0 677,691.0 678,691.0 678,694.5 679,694.5 679,698.5 680,698.5 680,689.8 681,689.8 681,689.2 682,689.2 682,693.1 683,693.1 683,693.9 684,693.9 684,691.5 685,691.5 685,687.0 686,687.0 686,693.4 687,693.4 687,685.5 688,685.5 688,687.2 689,687.2 689,686.4 690,686.4 690,682.5 691,682.5 691,685.7 692,685.7 692,681.8 693,681.8 693,682.3 694,682.3 694,689.4 695,689.4 695,682.9 696,682.9 696,680.3 697,680.3 697,681.1 698,681.1 698,676.7 699,676.7 699,682.4 700,682.4 700,679.4 701,679.4 701,679.8 702,679.8 702,679.8 703,679.8 703,688.2 704,688.2 704,685.5 705,685.5 705,685.5 706,685.5 706,678.8 707,678.8 707,684.5 708,684.5 708,682.1 709,682.1 709,683.6 710,683.6 710,690.8 711,690.8 711,691.7 712,691.7 712,719.5 711,719.5 711,721.4 710,721.4 710,716.4 709,716.4 709,719.8 708,719.8 708,715.8 707,715.8 707,722.3 706,722.3 706,720.4 705,720.4 705,725.6 704,725.6 704,718.4 703,718.4 703,721.6 702,721.6 702,721.5 701,721.5 701,718.8 700,718.8 700,724.9 699,724.9 699,724.6 698,724.6 698,720.2 697,720.2 697,724.7 696,724.7 696,725.1 695,725.1 695,721.4 694,721.4 694,723.5 693,723.5 693,720.7 692,720.7 692,724.1 691,724.1 691,721.4 690,721.4 690,715.2 689,715.2 689,723.1 688,723.1 688,723.3 687,723.3 687,723.7 686,723.7 686,722.4 685,722.4 685,720.3 684,720.3 684,724.7 683,724.7 683,723.4 682,723.4 682,722.3 681,722.3 681,720.9 680,720.9 680,723.3 679,723.3 679,717.1 678,717.1 678,725.2 677,725.2 677,725.9 676,725.9 676,724.4 675,724.4 675,723.1 674,723.1 674,717.4 673,717.4 673,725.7 672,725.7 672,722.1 671,722.1 671,724.8 670,724.8 670,723.8 669,723.8 669,719.3 668,719.3 668,721.9 667,721.9 667,717.2 666,717.2 666,716.6 665,716.6 665,725.1 664,725.1 664,716.6 663,716.6 663,724.4 662,724.4 662,724.7 661,724.7 661,724.2 660,724.2 660,724.9 659,724.9 659,716.6 658,716.6 658,721.2 657,721.2 657,720.7 656,720.7 656,717.1 655,717.1 655,718.5 654,718.5 654,722.4 653,722.4 653,720.4 652,720.4 652,719.0 651,719.0 651,721.7 650,721.7 650,723.5 649,723.5 649,721.7 648,721.7 648,718.6 647,718.6 647,723.8 646,723.8 646,729.0 645,729.0 645,722.3 644,722.3 644,728.2 643,728.2 643,728.4 642,728.4 642,725.7 641,725.7 641,726.9 640,726.9 640,729.2 639,729.2 639,726.4 638,726.4 638,722.0 637,722.0 637,720.7 636,720.7 636,725.6 635,725.6 635,722.0 634,722.0 634,725.4 633,725.4 633,722.0 632,722.0 632,721.4 631,721.4 631,720.6 630,720.6 630,723.8 629,723.8 629,717.3 628,717.3 628,723.3 627,723.3 627,726.5 626,726.5 626,718.6 625,718.6 625,726.3 624,726.3 624,718.4 623,718.4 623,727.0 622,727.0 622,720.3 621,720.3 621,724.5 620,724.5 620,718.4 619,718.4 619,722.1 618,722.1 618,715.8 617,715.8 617,720.1 616,720.1 616,716.1 615,716.1 615,714.6 614,714.6 614,721.8 613,721.8 613,718.5 612,718.5 612,719.0 611,719.0 611,726.2 610,726.2 610,723.7 609,723.7 609,726.6 608,726.6 608,721.4 607,721.4 607,721.8 606,721.8 606,724.0 605,724.0 605,718.0 604,718.0 604,723.7 603,723.7 603,721.1 602,721.1 602,726.0 601,726.0 601,725.2 600,725.2 600,724.8 599,724.8 599,720.8 598,720.8 598,723.1 597,723.1 597,721.8 596,721.8 596,724.3 595,724.3 595,725.8 594,725.8 594,718.8 593,718.8 593,725.9 592,725.9 592,725.4 591,725.4 591,726.5 590,726.5 590,724.3 589,724.3 589,729.5 588,729.5 588,722.7 587,722.7 587,730.8 586,730.8 586,724.0 585,724.0 585,730.7 584,730.7 584,729.9 583,729.9 583,720.3 582,720.3 582,728.6 581,728.6 581,728.2 580,728.2 580,723.9 579,723.9 579,722.6 578,722.6 578,724.4 577,724.4 577,723.2 576,723.2 576,723.9 575,723.9 575,728.0 574,728.0 574,726.4 573,726.4 573,721.9 572,721.9 572,723.8 571,723.8 571,727.0 570,727.0 570,721.7 569,721.7 569,724.4 568,724.4 568,725.8 567,725.8 567,724.9 566,724.9 566,724.1 565,724.1 565,721.1 564,721.1 564,719.8 563,719.8 563,722.4 562,722.4 562,726.2 561,726.2 561,718.9 560,718.9 560,722.5 559,722.5 559,723.8 558,723.8 558,718.2 557,718.2 557,718.7 556,718.7 556,725.5 555,725.5 555,719.7 554,719.7 554,717.6 553,717.6 553,717.7 552,717.7 552,721.4 551,721.4 551,723.1 550,723.1 550,725.4 549,725.4 549,718.4 548,718.4 548,725.6 547,725.6 547,726.7 546,726.7 546,719.6 545,719.6 545,719.7 544,719.7 544,720.8 543,720.8 543,720.3 542,720.3 542,726.9 541,726.9 541,725.5 540,725.5 540,716.9 539,716.9 539,720.9 538,720.9 538,720.4 537,720.4 537,719.2 536,719.2 536,719.0 535,719.0 535,712.6 534,712.6 534,713.5 533,713.5 533,715.3 532,715.3 532,722.7 531,722.7 531,720.4 530,720.4 530,717.3 529,717.3 529,715.2 528,715.2 528,723.7 527,723.7 527,719.4 526,719.4 526,718.8 525,718.8 525,721.0 524,721.0 524,721.3 523,721.3 523,718.7 522,718.7 522,723.4 521,723.4 521,721.6 520,721.6 520,722.7 519,722.7 519,714.2 518,714.2 518,723.2 517,723.2 517,722.3 516,722.3 516,725.0 515,725.0 515,723.5 514,723.5 514,719.7 513,719.7 513,716.4 512,716.4 512,720.7 511,720.7 511,720.0 510,720.0 510,722.9 509,722.9 509,727.1 508,727.1 508,723.3 507,723.3 507,723.8 506,723.8 506,721.5 505,721.5 505,723.5 504,723.5 504,721.2 503,721.2 503,722.6 502,722.6 502,725.7 501,725.7 501,720.4 500,720.4 500,719.3 499,719.3 499,723.4 498,723.4 498,717.7 497,717.7 497,719.0 496,719.0 496,718.4 495,718.4 495,720.6 494,720.6 494,724.1 493,724.1 493,719.2 492,719.2 492,725.7 491,725.7 491,727.7 490,727.7 490,722.9 489,722.9 489,722.5 488,722.5 488,726.5 487,726.5 487,718.4 486,718.4 486,721.9 485,721.9 485,718.5 484,718.5 484,722.7 483,722.7 483,726.8 482,726.8 482,725.0 481,725.0 481,723.5 480,723.5Z" fill="#4e79a7"/><path d="M152.5,697.3V686.4M178.5,728.3V736.8M185.5,698.2V692.2M192.5,705.0V699.5M196.5,724.3V732.5M209.5,729.3V734.3M229.5,686.8V671.5M238.5,726.8V736.9M245.5,731.2V737.3M249.5,724.2V736.8M267.5,719.6V727.0M297.5,689.4V686.2M310.5,721.0V742.5M360.5,722.9V737.8M365.5,680.0V678.5M370.5,685.8V670.6M380.5,722.4V733.3M393.5,682.8V680.2M396.5,683.9V679.6M410.5,694.4V674.3M411.5,686.1V673.2M426.5,716.5V728.0M432.5,684.3V666.7M443.5,677.9V667.1M444.5,687.0V674.2M449.5,724.3V728.4M471.5,725.5V730.4M513.5,685.2V668.1M522.5,718.2V729.6M535.5,684.8V673.0M539.5,689.3V677.6M562.5,721.9V730.2M570.5,677.2V672.2M582.5,719.8V735.9M599.5,724.3V726.6M601.5,687.4V675.6M614.5,682.9V671.0M615.5,682.8V674.0M624.5,725.8V729.3M648.5,680.9V673.9M676.5,699.5V681.0M708.5,682.6V676.6M710.5,691.3V672.9M151.5,711.3V673.3M175.5,708.2V676.5M207.5,710.3V680.7M223.5,704.7V678.6M353.5,700.9V674.3M368.5,703.6V674.3M428.5,699.9V670.1M447.5,701.5V673.3M473.5,698.8V669.0M491.5,699.9V670.1M518.5,696.6V666.8M559.5,699.4V672.2M575.5,700.4V671.1M586.5,701.7V670.1M607.5,701.5V672.2M632.5,699.4V671.1M695.5,700.5V673.3M158.5,718.2V738.4M586.5,701.7V735.2M642.5,702.7V732.0" stroke="#4e79a7" stroke-width="0.8" fill="none"/><path d="M477,685.9 L480,715.8" fill="none" stroke="#4e79a7" stroke-width="0.8" stroke-opacity="0.75"/></g><g clip-path="url(#c5)"><path d="M148,808.2 149,808.2 149,801.7 150,801.7 150,791.2 151,791.2 151,794.2 152,794.2 152,788.4 153,788.4 153,786.4 154,786.4 154,797.9 155,797.9 155,786.4 156,786.4 156,793.5 157,793.5 157,783.5 158,783.5 158,785.2 159,785.2 159,792.7 160,792.7 160,789.5 161,789.5 161,789.1 162,789.1 162,788.5 163,788.5 163,784.5 164,784.5 164,786.8 165,786.8 165,784.3 166,784.3 166,786.4 167,786.4 167,791.5 168,791.5 168,799.0 169,799.0 169,799.6 170,799.6 170,791.4 171,791.4 171,787.2 172,787.2 172,784.5 173,784.5 173,793.2 174,793.2 174,790.7 175,790.7 175,795.8 176,795.8 176,794.5 177,794.5 177,800.7 178,800.7 178,789.2 179,789.2 179,795.7 180,795.7 180,792.9 181,792.9 181,789.6 182,789.6 182,789.9 183,789.9 183,799.1 184,799.1 184,786.1 185,786.1 185,787.1 186,787.1 186,788.3 187,788.3 187,795.3 188,795.3 188,800.0 189,800.0 189,800.3 190,800.3 190,794.5 191,794.5 191,790.9 192,790.9 192,795.5 193,795.5 193,784.6 194,784.6 194,788.4 195,788.4 195,786.6 196,786.6 196,786.9 197,786.9 197,797.8 198,797.8 198,788.2 199,788.2 199,789.8 200,789.8 200,799.9 201,799.9 201,790.5 202,790.5 202,788.2 203,788.2 203,788.2 204,788.2 204,788.0 205,788.0 205,800.4 206,800.4 206,796.2 207,796.2 207,797.3 208,797.3 208,793.7 209,793.7 209,792.8 210,792.8 210,788.0 211,788.0 211,788.6 212,788.6 212,797.5 213,797.5 213,789.0 214,789.0 214,786.6 215,786.6 215,790.0 216,790.0 216,800.5 217,800.5 217,798.0 218,798.0 218,794.7 219,794.7 219,800.9 220,800.9 220,795.0 221,795.0 221,799.6 222,799.6 222,789.0 223,789.0 223,788.1 224,788.1 224,792.1 225,792.1 225,799.3 226,799.3 226,791.9 227,791.9 227,796.4 228,796.4 228,797.4 229,797.4 229,787.8 230,787.8 230,796.6 231,796.6 231,800.7 232,800.7 232,789.9 233,789.9 233,786.4 234,786.4 234,786.4 235,786.4 235,787.9 236,787.9 236,786.0 237,786.0 237,793.1 238,793.1 238,786.0 239,786.0 239,785.8 240,785.8 240,792.7 241,792.7 241,790.4 242,790.4 242,799.5 243,799.5 243,799.5 244,799.5 244,790.6 245,790.6 245,799.3 246,799.3 246,792.7 247,792.7 247,790.4 248,790.4 248,791.9 249,791.9 249,788.2 250,788.2 250,786.4 251,786.4 251,790.5 252,790.5 252,788.2 253,788.2 253,787.0 254,787.0 254,794.8 255,794.8 255,797.9 256,797.9 256,803.1 257,803.1 257,793.2 258,793.2 258,788.3 259,788.3 259,790.0 260,790.0 260,786.4 261,786.4 261,786.6 262,786.6 262,787.9 263,787.9 263,792.3 264,792.3 264,798.2 265,798.2 265,793.1 266,793.1 266,790.2 267,790.2 267,793.0 268,793.0 268,794.9 269,794.9 269,795.7 270,795.7 270,789.5 271,789.5 271,801.2 272,801.2 272,796.5 273,796.5 273,793.1 274,793.1 274,789.3 275,789.3 275,788.8 276,788.8 276,793.7 277,793.7 277,796.7 278,796.7 278,800.1 279,800.1 279,788.3 280,788.3 280,789.3 281,789.3 281,791.4 282,791.4 282,797.4 283,797.4 283,800.2 284,800.2 284,788.5 285,788.5 285,792.6 286,792.6 286,790.6 287,790.6 287,786.9 288,786.9 288,800.5 289,800.5 289,798.7 290,798.7 290,791.2 291,791.2 291,788.5 292,788.5 292,797.8 293,797.8 293,793.8 294,793.8 294,796.6 295,796.6 295,797.1 296,797.1 296,791.5 297,791.5 297,792.0 298,792.0 298,788.1 299,788.1 299,789.8 300,789.8 300,787.7 301,787.7 301,797.6 302,797.6 302,792.1 303,792.1 303,801.5 304,801.5 304,802.9 305,802.9 305,802.4 306,802.4 306,791.5 307,791.5 307,792.5 308,792.5 308,802.3 309,802.3 309,789.0 310,789.0 310,788.8 311,788.8 311,794.3 312,794.3 312,795.8 313,795.8 313,794.5 314,794.5 314,801.1 315,801.1 315,787.2 316,787.2 316,795.1 317,795.1 317,795.6 318,795.6 318,796.5 319,796.5 319,798.6 320,798.6 320,800.1 321,800.1 321,793.1 322,793.1 322,800.9 323,800.9 323,801.0 324,801.0 324,799.9 325,799.9 325,790.5 326,790.5 326,799.4 327,799.4 327,800.5 328,800.5 328,793.1 329,793.1 329,800.4 330,800.4 330,797.1 331,797.1 331,789.7 332,789.7 332,790.9 333,790.9 333,793.3 334,793.3 334,787.5 335,787.5 335,795.1 336,795.1 336,797.8 337,797.8 337,802.5 338,802.5 338,795.4 339,795.4 339,790.5 340,790.5 340,797.4 341,797.4 341,787.1 342,787.1 342,788.0 343,788.0 343,788.5 344,788.5 344,799.9 345,799.9 345,793.1 346,793.1 346,791.7 347,791.7 347,802.8 348,802.8 348,796.1 349,796.1 349,795.9 350,795.9 350,802.5 351,802.5 351,792.8 352,792.8 352,787.1 353,787.1 353,788.9 354,788.9 354,798.4 355,798.4 355,796.5 356,796.5 356,789.0 357,789.0 357,798.4 358,798.4 358,792.8 359,792.8 359,793.9 360,793.9 360,793.1 361,793.1 361,787.6 362,787.6 362,801.2 363,801.2 363,789.2 364,789.2 364,791.8 365,791.8 365,794.3 366,794.3 366,802.3 367,802.3 367,793.7 368,793.7 368,796.6 369,796.6 369,803.7 370,803.7 370,802.6 371,802.6 371,801.7 372,801.7 372,800.8 373,800.8 373,798.8 374,798.8 374,799.5 375,799.5 375,787.7 376,787.7 376,788.0 377,788.0 377,793.2 378,793.2 378,787.7 379,787.7 379,786.7 380,786.7 380,789.3 381,789.3 381,800.5 382,800.5 382,792.6 383,792.6 383,787.6 384,787.6 384,798.6 385,798.6 385,794.7 386,794.7 386,789.2 387,789.2 387,788.0 388,788.0 388,788.8 389,788.8 389,791.0 390,791.0 390,794.4 391,794.4 391,797.6 392,797.6 392,789.3 393,789.3 393,788.9 394,788.9 394,796.1 395,796.1 395,798.6 396,798.6 396,788.7 397,788.7 397,788.6 398,788.6 398,797.9 399,797.9 399,802.6 400,802.6 400,795.2 401,795.2 401,790.1 402,790.1 402,789.0 403,789.0 403,789.4 404,789.4 404,801.8 405,801.8 405,795.4 406,795.4 406,797.0 407,797.0 407,799.3 408,799.3 408,787.3 409,787.3 409,792.3 410,792.3 410,792.7 411,792.7 411,796.2 412,796.2 412,791.0 413,791.0 413,788.8 414,788.8 414,795.2 415,795.2 415,794.9 416,794.9 416,797.5 417,797.5 417,801.0 418,801.0 418,796.9 419,796.9 419,793.0 420,793.0 420,794.4 421,794.4 421,796.2 422,796.2 422,803.5 423,803.5 423,794.4 424,794.4 424,793.6 425,793.6 425,788.2 426,788.2 426,797.2 427,797.2 427,802.2 428,802.2 428,803.7 429,803.7 429,800.3 430,800.3 430,796.0 431,796.0 431,793.3 432,793.3 432,802.4 433,802.4 433,799.4 434,799.4 434,789.9 435,789.9 435,793.3 436,793.3 436,796.5 437,796.5 437,797.1 438,797.1 438,802.5 439,802.5 439,802.5 440,802.5 440,799.1 441,799.1 441,788.9 442,788.9 442,788.3 443,788.3 443,794.1 444,794.1 444,790.8 445,790.8 445,791.3 446,791.3 446,788.4 447,788.4 447,797.4 448,797.4 448,793.1 449,793.1 449,789.2 450,789.2 450,800.4 451,800.4 451,795.6 452,795.6 452,792.8 453,792.8 453,791.4 454,791.4 454,790.7 455,790.7 455,790.2 456,790.2 456,788.5 457,788.5 457,787.4 458,787.4 458,790.4 459,790.4 459,786.7 460,786.7 460,794.6 461,794.6 461,795.1 462,795.1 462,791.9 463,791.9 463,798.1 464,798.1 464,801.6 465,801.6 465,801.5 466,801.5 466,788.8 467,788.8 467,796.7 468,796.7 468,801.0 469,801.0 469,786.9 470,786.9 470,789.9 471,789.9 471,791.7 472,791.7 472,798.8 473,798.8 473,792.5 474,792.5 474,796.4 475,796.4 475,792.3 476,792.3 476,793.2 477,793.2 477,860.2 476,860.2 476,862.1 475,862.1 475,851.1 474,851.1 474,860.7 473,860.7 473,861.0 472,861.0 472,855.9 471,855.9 471,848.9 470,848.9 470,858.0 469,858.0 469,856.9 468,856.9 468,860.7 467,860.7 467,862.4 466,862.4 466,861.3 465,861.3 465,850.8 464,850.8 464,858.1 463,858.1 463,846.5 462,846.5 462,852.8 461,852.8 461,856.5 460,856.5 460,850.2 459,850.2 459,854.2 458,854.2 458,847.9 457,847.9 457,859.8 456,859.8 456,856.5 455,856.5 455,862.7 454,862.7 454,862.1 453,862.1 453,856.5 452,856.5 452,861.6 451,861.6 451,861.3 450,861.3 450,859.1 449,859.1 449,852.7 448,852.7 448,855.5 447,855.5 447,861.4 446,861.4 446,856.5 445,856.5 445,852.1 444,852.1 444,858.8 443,858.8 443,851.7 442,851.7 442,859.1 441,859.1 441,860.4 440,860.4 440,862.1 439,862.1 439,862.2 438,862.2 438,850.0 437,850.0 437,861.5 436,861.5 436,861.7 435,861.7 435,847.0 434,847.0 434,861.2 433,861.2 433,855.3 432,855.3 432,849.4 431,849.4 431,850.4 430,850.4 430,849.0 429,849.0 429,860.4 428,860.4 428,857.9 427,857.9 427,847.7 426,847.7 426,854.9 425,854.9 425,854.1 424,854.1 424,850.9 423,850.9 423,847.4 422,847.4 422,858.4 421,858.4 421,861.7 420,861.7 420,861.7 419,861.7 419,859.7 418,859.7 418,850.3 417,850.3 417,859.5 416,859.5 416,859.8 415,859.8 415,854.4 414,854.4 414,854.9 413,854.9 413,854.2 412,854.2 412,853.3 411,853.3 411,854.2 410,854.2 410,857.6 409,857.6 409,858.8 408,858.8 408,845.9 407,845.9 407,858.6 406,858.6 406,852.4 405,852.4 405,845.3 404,845.3 404,853.8 403,853.8 403,846.5 402,846.5 402,860.5 401,860.5 401,854.2 400,854.2 400,852.7 399,852.7 399,853.6 398,853.6 398,855.2 397,855.2 397,846.3 396,846.3 396,857.0 395,857.0 395,855.9 394,855.9 394,848.0 393,848.0 393,855.7 392,855.7 392,858.8 391,858.8 391,856.1 390,856.1 390,854.6 389,854.6 389,854.3 388,854.3 388,857.4 387,857.4 387,850.4 386,850.4 386,861.2 385,861.2 385,856.7 384,856.7 384,853.5 383,853.5 383,850.5 382,850.5 382,847.5 381,847.5 381,846.2 380,846.2 380,861.0 379,861.0 379,857.4 378,857.4 378,854.5 377,854.5 377,853.3 376,853.3 376,851.1 375,851.1 375,851.2 374,851.2 374,853.2 373,853.2 373,861.2 372,861.2 372,859.6 371,859.6 371,850.1 370,850.1 370,846.2 369,846.2 369,850.6 368,850.6 368,851.4 367,851.4 367,854.2 366,854.2 366,857.2 365,857.2 365,857.6 364,857.6 364,856.1 363,856.1 363,846.6 362,846.6 362,859.9 361,859.9 361,855.8 360,855.8 360,859.0 359,859.0 359,858.4 358,858.4 358,854.7 357,854.7 357,854.7 356,854.7 356,847.2 355,847.2 355,845.5 354,845.5 354,849.4 353,849.4 353,860.1 352,860.1 352,845.2 351,845.2 351,853.8 350,853.8 350,850.2 349,850.2 349,855.8 348,855.8 348,858.0 347,858.0 347,845.4 346,845.4 346,847.5 345,847.5 345,851.1 344,851.1 344,848.4 343,848.4 343,858.5 342,858.5 342,847.5 341,847.5 341,849.0 340,849.0 340,845.7 339,845.7 339,845.8 338,845.8 338,857.3 337,857.3 337,858.1 336,858.1 336,855.1 335,855.1 335,844.5 334,844.5 334,851.1 333,851.1 333,856.1 332,856.1 332,857.5 331,857.5 331,852.2 330,852.2 330,849.8 329,849.8 329,860.1 328,860.1 328,857.1 327,857.1 327,860.5 326,860.5 326,851.5 325,851.5 325,848.6 324,848.6 324,851.2 323,851.2 323,859.0 322,859.0 322,850.1 321,850.1 321,847.2 320,847.2 320,859.3 319,859.3 319,852.1 318,852.1 318,855.4 317,855.4 317,850.5 316,850.5 316,855.6 315,855.6 315,854.6 314,854.6 314,845.5 313,845.5 313,847.1 312,847.1 312,853.9 311,853.9 311,860.5 310,860.5 310,854.1 309,854.1 309,847.1 308,847.1 308,846.1 307,846.1 307,860.0 306,860.0 306,859.4 305,859.4 305,853.7 304,853.7 304,860.2 303,860.2 303,859.2 302,859.2 302,858.5 301,858.5 301,860.4 300,860.4 300,857.4 299,857.4 299,857.5 298,857.5 298,850.8 297,850.8 297,855.7 296,855.7 296,845.5 295,845.5 295,848.1 294,848.1 294,853.3 293,853.3 293,850.1 292,850.1 292,845.5 291,845.5 291,852.5 290,852.5 290,856.3 289,856.3 289,853.2 288,853.2 288,855.8 287,855.8 287,860.4 286,860.4 286,856.9 285,856.9 285,855.7 284,855.7 284,859.7 283,859.7 283,854.7 282,854.7 282,856.4 281,856.4 281,857.1 280,857.1 280,853.1 279,853.1 279,860.2 278,860.2 278,861.3 277,861.3 277,860.0 276,860.0 276,850.5 275,850.5 275,861.4 274,861.4 274,853.5 273,853.5 273,856.8 272,856.8 272,848.1 271,848.1 271,856.1 270,856.1 270,848.1 269,848.1 269,849.6 268,849.6 268,854.9 267,854.9 267,859.3 266,859.3 266,854.4 265,854.4 265,861.5 264,861.5 264,855.6 263,855.6 263,852.5 262,852.5 262,852.4 261,852.4 261,854.0 260,854.0 260,855.1 259,855.1 259,854.0 258,854.0 258,852.9 257,852.9 257,855.7 256,855.7 256,860.6 255,860.6 255,856.4 254,856.4 254,851.9 253,851.9 253,861.3 252,861.3 252,849.2 251,849.2 251,851.1 250,851.1 250,851.4 249,851.4 249,851.4 248,851.4 248,858.5 247,858.5 247,851.6 246,851.6 246,849.1 245,849.1 245,856.6 244,856.6 244,860.2 243,860.2 243,849.7 242,849.7 242,846.1 241,846.1 241,849.5 240,849.5 240,858.2 239,858.2 239,860.0 238,860.0 238,857.8 237,857.8 237,847.6 236,847.6 236,853.4 235,853.4 235,854.3 234,854.3 234,858.4 233,858.4 233,858.6 232,858.6 232,859.2 231,859.2 231,857.3 230,857.3 230,852.8 229,852.8 229,844.7 228,844.7 228,857.7 227,857.7 227,849.5 226,849.5 226,854.0 225,854.0 225,843.6 224,843.6 224,855.4 223,855.4 223,859.5 222,859.5 222,854.9 221,854.9 221,854.7 220,854.7 220,859.2 219,859.2 219,846.0 218,846.0 218,849.3 217,849.3 217,855.9 216,855.9 216,851.4 215,851.4 215,849.2 214,849.2 214,846.6 213,846.6 213,849.0 212,849.0 212,857.8 211,857.8 211,858.1 210,858.1 210,853.7 209,853.7 209,857.9 208,857.9 208,851.2 207,851.2 207,854.5 206,854.5 206,852.4 205,852.4 205,842.6 204,842.6 204,852.5 203,852.5 203,855.1 202,855.1 202,855.0 201,855.0 201,856.1 200,856.1 200,847.5 199,847.5 199,850.8 198,850.8 198,855.9 197,855.9 197,846.8 196,846.8 196,856.1 195,856.1 195,854.7 194,854.7 194,851.6 193,851.6 193,846.1 192,846.1 192,852.0 191,852.0 191,854.5 190,854.5 190,847.5 189,847.5 189,844.2 188,844.2 188,849.0 187,849.0 187,842.0 186,842.0 186,848.7 185,848.7 185,841.5 184,841.5 184,847.3 183,847.3 183,850.3 182,850.3 182,845.8 181,845.8 181,855.1 180,855.1 180,855.1 179,855.1 179,845.5 178,845.5 178,855.3 177,855.3 177,854.0 176,854.0 176,850.1 175,850.1 175,849.7 174,849.7 174,847.6 173,847.6 173,848.2 172,848.2 172,847.5 171,847.5 171,838.5 170,838.5 170,838.7 169,838.7 169,840.5 168,840.5 168,842.7 167,842.7 167,853.3 166,853.3 166,851.6 165,851.6 165,848.1 164,848.1 164,847.5 163,847.5 163,851.0 162,851.0 162,844.3 161,844.3 161,843.8 160,843.8 160,843.0 159,843.0 159,843.3 158,843.3 158,849.1 157,849.1 157,833.9 156,833.9 156,846.6 155,846.6 155,845.4 154,845.4 154,842.4 153,842.4 153,835.2 152,835.2 152,836.5 151,836.5 151,833.1 150,833.1 150,836.8 149,836.8 149,831.0 148,831.0Z M480,788.4 481,788.4 481,791.9 482,791.9 482,796.1 483,796.1 483,789.2 484,789.2 484,788.1 485,788.1 485,789.7 486,789.7 486,797.3 487,797.3 487,801.5 488,801.5 488,786.6 489,786.6 489,797.1 490,797.1 490,794.4 491,794.4 491,800.2 492,800.2 492,788.8 493,788.8 493,795.0 494,795.0 494,792.7 495,792.7 495,785.9 496,785.9 496,786.9 497,786.9 497,789.8 498,789.8 498,801.4 499,801.4 499,789.2 500,789.2 500,787.9 501,787.9 501,787.3 502,787.3 502,790.2 503,790.2 503,799.9 504,799.9 504,797.6 505,797.6 505,788.6 506,788.6 506,788.2 507,788.2 507,789.1 508,789.1 508,786.3 509,786.3 509,787.1 510,787.1 510,790.6 511,790.6 511,791.1 512,791.1 512,801.6 513,801.6 513,797.9 514,797.9 514,788.9 515,788.9 515,801.5 516,801.5 516,792.7 517,792.7 517,788.6 518,788.6 518,794.3 519,794.3 519,790.2 520,790.2 520,798.6 521,798.6 521,787.2 522,787.2 522,794.2 523,794.2 523,803.0 524,803.0 524,793.0 525,793.0 525,796.5 526,796.5 526,787.4 527,787.4 527,789.0 528,789.0 528,795.1 529,795.1 529,787.6 530,787.6 530,794.5 531,794.5 531,801.1 532,801.1 532,789.2 533,789.2 533,787.6 534,787.6 534,794.2 535,794.2 535,789.1 536,789.1 536,787.2 537,787.2 537,796.5 538,796.5 538,803.9 539,803.9 539,793.7 540,793.7 540,795.8 541,795.8 541,789.6 542,789.6 542,792.2 543,792.2 543,796.5 544,796.5 544,800.4 545,800.4 545,801.4 546,801.4 546,798.8 547,798.8 547,800.2 548,800.2 548,790.6 549,790.6 549,789.8 550,789.8 550,797.2 551,797.2 551,788.5 552,788.5 552,795.2 553,795.2 553,797.3 554,797.3 554,789.7 555,789.7 555,791.6 556,791.6 556,797.1 557,797.1 557,789.7 558,789.7 558,787.1 559,787.1 559,799.8 560,799.8 560,796.5 561,796.5 561,802.9 562,802.9 562,796.6 563,796.6 563,786.7 564,786.7 564,790.5 565,790.5 565,794.3 566,794.3 566,793.0 567,793.0 567,799.6 568,799.6 568,793.8 569,793.8 569,796.3 570,796.3 570,799.0 571,799.0 571,790.0 572,790.0 572,794.8 573,794.8 573,792.7 574,792.7 574,798.0 575,798.0 575,793.8 576,793.8 576,790.9 577,790.9 577,793.9 578,793.9 578,787.8 579,787.8 579,793.0 580,793.0 580,791.8 581,791.8 581,794.5 582,794.5 582,789.3 583,789.3 583,797.0 584,797.0 584,800.4 585,800.4 585,794.9 586,794.9 586,796.5 587,796.5 587,798.5 588,798.5 588,788.0 589,788.0 589,794.6 590,794.6 590,792.7 591,792.7 591,801.0 592,801.0 592,800.2 593,800.2 593,796.8 594,796.8 594,788.0 595,788.0 595,795.4 596,795.4 596,792.8 597,792.8 597,803.1 598,803.1 598,799.7 599,799.7 599,796.6 600,796.6 600,790.0 601,790.0 601,790.7 602,790.7 602,802.1 603,802.1 603,790.1 604,790.1 604,790.0 605,790.0 605,789.5 606,789.5 606,800.1 607,800.1 607,787.8 608,787.8 608,802.4 609,802.4 609,796.2 610,796.2 610,794.6 611,794.6 611,791.2 612,791.2 612,792.7 613,792.7 613,797.6 614,797.6 614,787.9 615,787.9 615,802.6 616,802.6 616,800.0 617,800.0 617,797.8 618,797.8 618,789.4 619,789.4 619,791.5 620,791.5 620,802.4 621,802.4 621,787.4 622,787.4 622,793.1 623,793.1 623,788.5 624,788.5 624,787.2 625,787.2 625,794.6 626,794.6 626,792.2 627,792.2 627,801.9 628,801.9 628,799.7 629,799.7 629,788.0 630,788.0 630,794.5 631,794.5 631,789.3 632,789.3 632,793.3 633,793.3 633,790.2 634,790.2 634,790.0 635,790.0 635,787.2 636,787.2 636,789.4 637,789.4 637,792.2 638,792.2 638,790.6 639,790.6 639,797.2 640,797.2 640,800.6 641,800.6 641,803.8 642,803.8 642,792.4 643,792.4 643,792.2 644,792.2 644,795.9 645,795.9 645,789.4 646,789.4 646,791.0 647,791.0 647,795.3 648,795.3 648,790.1 649,790.1 649,790.0 650,790.0 650,789.3 651,789.3 651,788.0 652,788.0 652,790.5 653,790.5 653,789.4 654,789.4 654,793.4 655,793.4 655,799.3 656,799.3 656,795.7 657,795.7 657,793.7 658,793.7 658,799.4 659,799.4 659,794.9 660,794.9 660,791.9 661,791.9 661,798.8 662,798.8 662,795.1 663,795.1 663,792.4 664,792.4 664,793.6 665,793.6 665,787.8 666,787.8 666,798.7 667,798.7 667,786.6 668,786.6 668,794.4 669,794.4 669,786.8 670,786.8 670,791.1 671,791.1 671,786.5 672,786.5 672,791.8 673,791.8 673,794.7 674,794.7 674,800.2 675,800.2 675,797.8 676,797.8 676,789.8 677,789.8 677,791.7 678,791.7 678,791.7 679,791.7 679,793.1 680,793.1 680,793.2 681,793.2 681,789.4 682,789.4 682,791.6 683,791.6 683,797.6 684,797.6 684,787.9 685,787.9 685,792.3 686,792.3 686,793.5 687,793.5 687,791.8 688,791.8 688,795.9 689,795.9 689,797.0 690,797.0 690,799.4 691,799.4 691,788.6 692,788.6 692,800.2 693,800.2 693,792.8 694,792.8 694,801.1 695,801.1 695,801.1 696,801.1 696,788.6 697,788.6 697,792.2 698,792.2 698,789.0 699,789.0 699,791.8 700,791.8 700,793.2 701,793.2 701,788.5 702,788.5 702,790.5 703,790.5 703,787.5 704,787.5 704,788.1 705,788.1 705,798.1 706,798.1 706,800.7 707,800.7 707,788.0 708,788.0 708,787.9 709,787.9 709,796.4 710,796.4 710,789.1 711,789.1 711,800.2 712,800.2 712,852.1 711,852.1 711,843.9 710,843.9 710,846.0 709,846.0 709,854.5 708,854.5 708,851.6 707,851.6 707,848.7 706,848.7 706,849.0 705,849.0 705,860.5 704,860.5 704,862.1 703,862.1 703,860.6 702,860.6 702,855.2 701,855.2 701,855.9 700,855.9 700,862.6 699,862.6 699,862.2 698,862.2 698,859.3 697,859.3 697,856.1 696,856.1 696,860.6 695,860.6 695,860.7 694,860.7 694,852.2 693,852.2 693,860.5 692,860.5 692,851.8 691,851.8 691,858.6 690,858.6 690,848.8 689,848.8 689,851.4 688,851.4 688,848.9 687,848.9 687,855.8 686,855.8 686,854.7 685,854.7 685,862.3 684,862.3 684,853.4 683,853.4 683,862.3 682,862.3 682,862.1 681,862.1 681,855.9 680,855.9 680,849.0 679,849.0 679,858.8 678,858.8 678,846.5 677,846.5 677,862.8 676,862.8 676,861.8 675,861.8 675,857.1 674,857.1 674,858.5 673,858.5 673,851.3 672,851.3 672,862.3 671,862.3 671,862.1 670,862.1 670,856.7 669,856.7 669,850.4 668,850.4 668,858.0 667,858.0 667,860.7 666,860.7 666,851.8 665,851.8 665,857.6 664,857.6 664,858.4 663,858.4 663,851.1 662,851.1 662,850.3 661,850.3 661,850.9 660,850.9 660,854.9 659,854.9 659,860.1 658,860.1 658,857.8 657,857.8 657,862.6 656,862.6 656,859.8 655,859.8 655,849.0 654,849.0 654,861.9 653,861.9 653,851.8 652,851.8 652,846.5 651,846.5 651,847.3 650,847.3 650,847.5 649,847.5 649,853.4 648,853.4 648,855.8 647,855.8 647,856.3 646,856.3 646,860.1 645,860.1 645,856.4 644,856.4 644,861.5 643,861.5 643,854.2 642,854.2 642,852.4 641,852.4 641,847.8 640,847.8 640,852.4 639,852.4 639,857.7 638,857.7 638,854.8 637,854.8 637,854.5 636,854.5 636,849.2 635,849.2 635,858.2 634,858.2 634,850.8 633,850.8 633,856.6 632,856.6 632,854.2 631,854.2 631,853.8 630,853.8 630,860.2 629,860.2 629,858.1 628,858.1 628,857.8 627,857.8 627,862.3 626,862.3 626,861.1 625,861.1 625,852.2 624,852.2 624,860.3 623,860.3 623,860.1 622,860.1 622,862.0 621,862.0 621,861.9 620,861.9 620,847.1 619,847.1 619,851.5 618,851.5 618,858.9 617,858.9 617,857.8 616,857.8 616,860.9 615,860.9 615,852.9 614,852.9 614,852.1 613,852.1 613,849.2 612,849.2 612,850.3 611,850.3 611,857.7 610,857.7 610,861.4 609,861.4 609,856.9 608,856.9 608,853.8 607,853.8 607,851.0 606,851.0 606,856.5 605,856.5 605,859.4 604,859.4 604,860.2 603,860.2 603,857.8 602,857.8 602,850.8 601,850.8 601,851.7 600,851.7 600,854.6 599,854.6 599,853.6 598,853.6 598,850.3 597,850.3 597,860.1 596,860.1 596,846.1 595,846.1 595,848.8 594,848.8 594,845.9 593,845.9 593,852.6 592,852.6 592,851.0 591,851.0 591,857.3 590,857.3 590,850.3 589,850.3 589,855.0 588,855.0 588,850.7 587,850.7 587,853.6 586,853.6 586,860.4 585,860.4 585,854.6 584,854.6 584,849.1 583,849.1 583,851.4 582,851.4 582,856.9 581,856.9 581,848.0 580,848.0 580,858.3 579,858.3 579,854.9 578,854.9 578,847.3 577,847.3 577,848.2 576,848.2 576,853.5 575,853.5 575,851.9 574,851.9 574,862.2 573,862.2 573,850.9 572,850.9 572,858.6 571,858.6 571,846.2 570,846.2 570,853.1 569,853.1 569,847.6 568,847.6 568,850.0 567,850.0 567,858.1 566,858.1 566,857.2 565,857.2 565,859.8 564,859.8 564,853.7 563,853.7 563,850.0 562,850.0 562,858.4 561,858.4 561,858.4 560,858.4 560,856.8 559,856.8 559,859.8 558,859.8 558,849.9 557,849.9 557,858.6 556,858.6 556,858.4 555,858.4 555,858.4 554,858.4 554,849.1 553,849.1 553,856.5 552,856.5 552,856.6 551,856.6 551,854.3 550,854.3 550,849.2 549,849.2 549,854.0 548,854.0 548,860.7 547,860.7 547,858.5 546,858.5 546,854.1 545,854.1 545,853.6 544,853.6 544,853.0 543,853.0 543,849.8 542,849.8 542,847.7 541,847.7 541,846.5 540,846.5 540,861.2 539,861.2 539,860.4 538,860.4 538,860.4 537,860.4 537,850.8 536,850.8 536,858.0 535,858.0 535,849.1 534,849.1 534,857.7 533,857.7 533,860.2 532,860.2 532,862.5 531,862.5 531,857.2 530,857.2 530,851.3 529,851.3 529,849.2 528,849.2 528,855.7 527,855.7 527,851.2 526,851.2 526,860.3 525,860.3 525,853.4 524,853.4 524,857.2 523,857.2 523,847.4 522,847.4 522,858.3 521,858.3 521,852.5 520,852.5 520,851.0 519,851.0 519,855.6 518,855.6 518,857.8 517,857.8 517,861.6 516,861.6 516,859.6 515,859.6 515,861.4 514,861.4 514,861.3 513,861.3 513,858.1 512,858.1 512,861.5 511,861.5 511,860.4 510,860.4 510,862.1 509,862.1 509,860.9 508,860.9 508,857.9 507,857.9 507,854.3 506,854.3 506,849.3 505,849.3 505,862.5 504,862.5 504,857.8 503,857.8 503,862.4 502,862.4 502,851.7 501,851.7 501,851.0 500,851.0 500,859.3 499,859.3 499,849.4 498,849.4 498,857.4 497,857.4 497,854.5 496,854.5 496,859.7 495,859.7 495,853.2 494,853.2 494,857.7 493,857.7 493,861.3 492,861.3 492,851.6 491,851.6 491,846.1 490,846.1 490,850.8 489,850.8 489,862.5 488,862.5 488,855.5 487,855.5 487,862.6 486,862.6 486,860.8 485,860.8 485,848.8 484,848.8 484,848.7 483,848.7 483,854.5 482,854.5 482,860.5 481,860.5 481,848.1 480,848.1Z" fill="#4e79a7"/><path d="M149.5,836.3V850.3M151.5,836.0V880.9M154.5,844.9V851.9M157.5,848.6V852.9M159.5,842.5V857.8M160.5,843.3V873.4M161.5,843.8V852.8M165.5,851.1V869.0M166.5,786.9V783.6M166.5,852.8V856.7M169.5,800.1V783.8M170.5,838.0V901.5M172.5,847.7V877.1M175.5,849.6V863.1M176.5,853.5V860.5M181.5,845.3V872.3M183.5,846.8V866.5M191.5,791.4V779.3M192.5,796.0V781.2M198.5,850.3V862.5M207.5,797.8V785.8M208.5,794.2V785.9M212.5,798.0V782.6M217.5,798.5V782.1M220.5,795.5V781.8M225.5,853.5V861.5M235.5,788.4V782.9M237.5,793.6V782.9M240.5,849.0V889.8M250.5,850.6V864.6M253.5,851.4V873.5M255.5,798.4V782.9M255.5,860.1V882.4M257.5,793.7V786.1M263.5,792.8V782.5M264.5,798.7V782.2M266.5,858.8V864.5M288.5,852.7V885.9M291.5,845.0V866.8M294.5,847.6V866.9M295.5,845.0V875.7M302.5,858.7V863.1M304.5,853.2V862.2M305.5,858.9V883.7M306.5,792.0V785.0M308.5,846.6V869.6M312.5,846.6V881.5M314.5,854.1V861.3M315.5,855.1V861.9M328.5,859.6V867.2M333.5,850.6V876.6M335.5,795.6V783.0M337.5,803.0V780.6M337.5,856.8V861.5M350.5,853.3V863.6M351.5,793.3V781.6M351.5,844.7V872.5M353.5,848.9V863.2M356.5,789.5V775.7M358.5,793.3V782.0M367.5,794.2V786.0M373.5,799.3V781.6M377.5,854.0V918.2M386.5,849.9V867.3M393.5,789.4V783.1M398.5,853.1V872.6M403.5,789.9V778.9M403.5,853.3V861.9M404.5,802.3V782.4M407.5,845.4V871.6M408.5,858.3V874.7M413.5,789.3V776.0M414.5,853.9V862.3M428.5,804.2V776.5M429.5,848.5V866.2M431.5,793.8V785.5M450.5,860.8V865.3M454.5,791.2V780.1M459.5,787.2V776.2M459.5,849.7V864.8M460.5,856.0V879.2M461.5,795.6V784.0M462.5,846.0V869.1M463.5,798.6V786.2M463.5,857.6V931.0M464.5,850.3V889.4M468.5,801.5V778.8M485.5,860.3V867.4M489.5,797.6V772.5M490.5,845.6V868.5M492.5,860.8V881.8M496.5,854.0V867.7M505.5,789.1V782.1M513.5,860.8V871.9M517.5,857.3V864.6M522.5,794.7V782.9M523.5,856.7V867.5M525.5,859.8V870.6M526.5,850.7V871.1M527.5,855.2V865.3M529.5,850.8V871.7M542.5,849.3V863.7M551.5,856.1V869.1M556.5,858.1V864.0M557.5,790.2V786.1M558.5,787.6V785.8M559.5,856.3V870.6M563.5,853.2V896.2M567.5,849.5V863.7M570.5,845.7V871.6M572.5,850.4V865.5M575.5,853.0V878.0M581.5,795.0V781.4M583.5,848.6V869.1M592.5,800.7V786.5M603.5,859.7V862.0M607.5,788.3V767.7M614.5,788.4V783.6M614.5,852.4V891.1M617.5,858.4V862.5M619.5,846.6V871.1M620.5,861.4V895.2M623.5,859.8V866.8M624.5,851.7V881.6M626.5,792.7V779.7M626.5,861.8V876.1M632.5,856.1V879.5M637.5,854.3V888.6M639.5,851.9V864.3M640.5,801.1V785.4M641.5,804.3V786.9M643.5,861.0V866.2M647.5,855.3V868.2M666.5,860.2V878.6M667.5,857.5V870.2M670.5,861.6V878.1M688.5,850.9V869.4M689.5,797.5V776.2M691.5,851.3V878.6M696.5,855.6V881.6M698.5,861.7V884.2M703.5,788.0V779.3M704.5,860.0V865.6M705.5,848.5V871.8M708.5,788.4V774.4M709.5,845.5V879.7" stroke="#4e79a7" stroke-width="0.8" fill="none"/><path d="M477,801.3 L480,847.4" fill="none" stroke="#4e79a7" stroke-width="0.8" stroke-opacity="0.75"/></g><rect x="120.5" y="109.5" width="620.0" height="110.0" fill="none" stroke="#000" stroke-width="1.1"/><path d="M127.5,219.5v7.9M204.5,219.5v7.9M282.5,219.5v7.9M360.5,219.5v7.9M437.5,219.5v7.9M515.5,219.5v7.9M592.5,219.5v7.9M670.5,219.5v7.9" stroke="#000" stroke-width="1.1"/><rect x="120.5" y="241.5" width="620.0" height="110.0" fill="none" stroke="#000" stroke-width="1.1"/><path d="M127.5,351.5v7.9M204.5,351.5v7.9M282.5,351.5v7.9M360.5,351.5v7.9M437.5,351.5v7.9M515.5,351.5v7.9M592.5,351.5v7.9M670.5,351.5v7.9" stroke="#000" stroke-width="1.1"/><rect x="120.5" y="373.5" width="620.0" height="110.0" fill="none" stroke="#000" stroke-width="1.1"/><path d="M127.5,483.5v7.9M204.5,483.5v7.9M282.5,483.5v7.9M360.5,483.5v7.9M437.5,483.5v7.9M515.5,483.5v7.9M592.5,483.5v7.9M670.5,483.5v7.9" stroke="#000" stroke-width="1.1"/><rect x="120.5" y="505.5" width="620.0" height="110.0" fill="none" stroke="#000" stroke-width="1.1"/><path d="M127.5,615.5v7.9M204.5,615.5v7.9M282.5,615.5v7.9M360.5,615.5v7.9M437.5,615.5v7.9M515.5,615.5v7.9M592.5,615.5v7.9M670.5,615.5v7.9" stroke="#000" stroke-width="1.1"/><rect x="120.5" y="637.5" width="620.0" height="110.0" fill="none" stroke="#000" stroke-width="1.1"/><path d="M127.5,747.5v7.9M204.5,747.5v7.9M282.5,747.5v7.9M360.5,747.5v7.9M437.5,747.5v7.9M515.5,747.5v7.9M592.5,747.5v7.9M670.5,747.5v7.9" stroke="#000" stroke-width="1.1"/><rect x="120.5" y="769.5" width="620.0" height="110.0" fill="none" stroke="#000" stroke-width="1.1"/><path d="M127.5,879.5v7.9M204.5,879.5v7.9M282.5,879.5v7.9M360.5,879.5v7.9M437.5,879.5v7.9M515.5,879.5v7.9M592.5,879.5v7.9M670.5,879.5v7.9" stroke="#000" stroke-width="1.1"/><path d="M120.5,131.5h-7.9M120.5,175.5h-7.9M120.5,219.5h-7.9" stroke="#000" stroke-width="1.1"/><text transform="translate(107.2,137.9) scale(1,1.1)" font-size="13.75" text-anchor="end" class="s">0.024</text><text transform="translate(107.2,181.9) scale(1,1.1)" font-size="13.75" text-anchor="end" class="s">0.023</text><text transform="translate(107.2,225.9) scale(1,1.1)" font-size="13.75" text-anchor="end" class="s">0.022</text><path d="M120.5,241.5h-7.9M120.5,296.5h-7.9M120.5,351.5h-7.9" stroke="#000" stroke-width="1.1"/><text transform="translate(107.2,247.9) scale(1,1.1)" font-size="13.75" text-anchor="end" class="s">0.000100</text><text transform="translate(107.2,302.9) scale(1,1.1)" font-size="13.75" text-anchor="end" class="s">0.000095</text><text transform="translate(107.2,357.9) scale(1,1.1)" font-size="13.75" text-anchor="end" class="s">0.000090</text><path d="M120.5,385.5h-7.9M120.5,434.5h-7.9M120.5,483.5h-7.9" stroke="#000" stroke-width="1.1"/><text transform="translate(107.2,391.7) scale(1,1.1)" font-size="13.75" text-anchor="end" class="s">0.0041</text><text transform="translate(107.2,440.8) scale(1,1.1)" font-size="13.75" text-anchor="end" class="s">0.0040</text><text transform="translate(107.2,489.9) scale(1,1.1)" font-size="13.75" text-anchor="end" class="s">0.0039</text><path d="M120.5,505.5h-7.9M120.5,542.5h-7.9M120.5,578.5h-7.9M120.5,615.5h-7.9" stroke="#000" stroke-width="1.1"/><text transform="translate(107.2,511.9) scale(1,1.1)" font-size="13.75" text-anchor="end" class="s">150</text><text transform="translate(107.2,548.6) scale(1,1.1)" font-size="13.75" text-anchor="end" class="s">100</text><text transform="translate(107.2,585.2) scale(1,1.1)" font-size="13.75" text-anchor="end" class="s">50</text><text transform="translate(107.2,621.9) scale(1,1.1)" font-size="13.75" text-anchor="end" class="s">0</text><path d="M120.5,637.5h-7.9M120.5,692.5h-7.9M120.5,747.5h-7.9" stroke="#000" stroke-width="1.1"/><text transform="translate(107.2,643.9) scale(1,1.1)" font-size="13.75" text-anchor="end" class="s">0</text><text transform="translate(106.5,698.0) scale(1,1.1)" font-size="13.75" text-anchor="end" class="s">−1</text><text transform="translate(106.5,753.0) scale(1,1.1)" font-size="13.75" text-anchor="end" class="s">−2</text><path d="M120.5,785.5h-7.9M120.5,824.5h-7.9M120.5,864.5h-7.9" stroke="#000" stroke-width="1.1"/><text transform="translate(107.2,791.6) scale(1,1.1)" font-size="13.75" text-anchor="end" class="s">2.5</text><text transform="translate(107.2,830.8) scale(1,1.1)" font-size="13.75" text-anchor="end" class="s">0.0</text><text transform="translate(106.5,869.7) scale(1,1.1)" font-size="13.75" text-anchor="end" class="s">−2.5</text><text transform="translate(126.2,903.9) scale(1,1.1)" font-size="13.75" text-anchor="middle" class="s">55000</text><text transform="translate(203.8,903.9) scale(1,1.1)" font-size="13.75" text-anchor="middle" class="s">55200</text><text transform="translate(281.3,903.9) scale(1,1.1)" font-size="13.75" text-anchor="middle" class="s">55400</text><text transform="translate(358.9,903.9) scale(1,1.1)" font-size="13.75" text-anchor="middle" class="s">55600</text><text transform="translate(436.5,903.9) scale(1,1.1)" font-size="13.75" text-anchor="middle" class="s">55800</text><text transform="translate(514.1,903.9) scale(1,1.1)" font-size="13.75" text-anchor="middle" class="s">56000</text><text transform="translate(591.6,903.9) scale(1,1.1)" font-size="13.75" text-anchor="middle" class="s">56200</text><text transform="translate(669.2,903.9) scale(1,1.1)" font-size="13.75" text-anchor="middle" class="s">56400</text><text x="429" y="929.8" font-size="22.2" text-anchor="middle" class="s">MJD</text><text transform="translate(53.5,166) rotate(-90)" text-anchor="middle" font-size="22.2" class="s"><tspan class="mi">g</tspan></text><text transform="translate(28,297.5) rotate(-90)" text-anchor="middle" font-size="22.2" class="s"><tspan class="mi">σ</tspan><tspan class="m" font-size="15.5" dy="4.3">0</tspan><tspan dy="-4.3"> [V]</tspan></text><text transform="translate(45.5,428.5) rotate(-90)" text-anchor="middle" font-size="22.2" class="s"><tspan class="mi">σ</tspan><tspan class="m" font-size="15.5" dy="4.3">0</tspan><tspan dy="-4.3"> [mK]</tspan></text><text transform="translate(67.3,561.5) rotate(-90)" text-anchor="middle" font-size="22.2" class="s"><tspan class="mi">f</tspan><tspan class="m" font-size="15.5" dy="4.5">knee</tspan><tspan dy="-4.5"> [mHz]</tspan></text><text transform="translate(74.8,693.5) rotate(-90)" text-anchor="middle" font-size="22.2" class="s"><tspan class="mi">α</tspan></text><text transform="translate(59.1,825.5) rotate(-90)" text-anchor="middle" font-size="22.2" class="s"><tspan class="mi">χ</tspan><tspan class="m" font-size="15.5" dx="2" dy="-8">2</tspan></text></svg>
</body></html>
